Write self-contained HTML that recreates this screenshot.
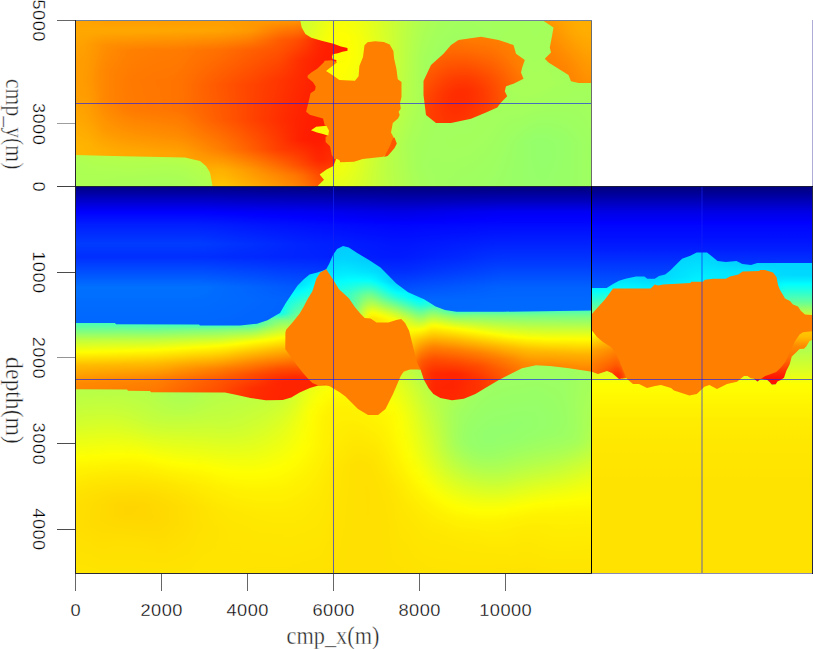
<!DOCTYPE html>
<html><head><meta charset="utf-8"><title>velocity cube</title>
<style>html,body{margin:0;padding:0;background:#fff}body{width:813px;height:649px;overflow:hidden;position:relative}svg{position:absolute;left:0;top:0;display:block}</style>
</head><body>
<svg width="813" height="649" viewBox="0 0 813 649">
<defs><clipPath id="c1"><rect x="76" y="186.5" width="515.5" height="386.5"/></clipPath>
<clipPath id="c2"><path d="M70.0 180.0 L597.0 180.0 L592.0 310.6 L503.5 311.7 L456.7 311.7 L445.0 309.9 L435.7 306.4 L424.0 299.3 L408.1 292.3 L396.3 283.4 L388.4 275.5 L380.5 267.6 L368.6 259.7 L356.8 252.8 L348.9 247.5 L343.0 245.9 L337.1 248.9 L333.1 254.8 L329.2 263.7 L326.2 269.2 L323.3 270.6 L317.3 272.6 L309.5 274.5 L303.5 279.5 L297.6 285.4 L291.7 294.3 L285.8 303.1 L280.0 313.0 L276.0 315.3 L267.5 320.3 L257.0 323.7 L240.0 325.5 L200.0 325.6 L199.0 324.5 L116.0 324.3 L115.0 323.0 L75.0 323.0Z"/></clipPath>
<clipPath id="c3"><path d="M70.0 180.0 L597.0 180.0 L592.0 371.8 L569.0 368.3 L550.0 366.0 L536.0 365.3 L522.0 368.3 L510.5 374.0 L498.8 380.0 L487.0 387.0 L475.4 394.0 L463.8 398.7 L452.0 400.3 L440.4 398.0 L433.4 394.0 L428.7 388.2 L424.0 380.0 L420.5 369.5 L412.0 368.0 L400.0 374.0 L340.0 385.0 L318.3 385.6 L309.8 388.0 L299.7 392.4 L291.2 397.5 L282.7 400.0 L265.8 400.3 L250.5 398.0 L237.0 395.0 L225.0 392.5 L151.0 392.3 L150.0 391.0 L128.0 390.7 L127.0 389.5 L75.0 389.3Z"/></clipPath>
<linearGradient id="s4" gradientUnits="userSpaceOnUse" x1="0" y1="360" x2="0" y2="575.5"><stop offset="0" stop-color="#a2ff5d"/><stop offset="0.181" stop-color="#bcff43"/><stop offset="0.2599" stop-color="#caff35"/><stop offset="0.3063" stop-color="#d5ff2a"/><stop offset="0.4548" stop-color="#ffff00"/><stop offset="0.5104" stop-color="#fff300"/><stop offset="0.5661" stop-color="#ffea00"/><stop offset="0.6172" stop-color="#ffe400"/><stop offset="0.6729" stop-color="#ffe000"/><stop offset="0.7842" stop-color="#ffdf00"/><stop offset="1" stop-color="#ffe600"/></linearGradient>
<linearGradient id="s5" gradientUnits="userSpaceOnUse" x1="0" y1="360" x2="0" y2="575.5"><stop offset="0" stop-color="#a2ff5d"/><stop offset="0.181" stop-color="#bcff43"/><stop offset="0.2599" stop-color="#caff35"/><stop offset="0.3063" stop-color="#d5ff2a"/><stop offset="0.4548" stop-color="#ffff00"/><stop offset="0.5104" stop-color="#fff300"/><stop offset="0.5661" stop-color="#ffea00"/><stop offset="0.6172" stop-color="#ffe400"/><stop offset="0.6729" stop-color="#ffe000"/><stop offset="0.7842" stop-color="#ffdf00"/><stop offset="1" stop-color="#ffe600"/></linearGradient>
<linearGradient id="s6" gradientUnits="userSpaceOnUse" x1="0" y1="360" x2="0" y2="575.5"><stop offset="0" stop-color="#a2ff5d"/><stop offset="0.1763" stop-color="#bcff43"/><stop offset="0.2552" stop-color="#caff35"/><stop offset="0.3109" stop-color="#d7ff28"/><stop offset="0.4501" stop-color="#ffff00"/><stop offset="0.5058" stop-color="#fff300"/><stop offset="0.5615" stop-color="#ffea00"/><stop offset="0.6125" stop-color="#ffe300"/><stop offset="0.6682" stop-color="#ffdf00"/><stop offset="0.7796" stop-color="#ffde00"/><stop offset="1" stop-color="#ffe500"/></linearGradient>
<linearGradient id="s7" gradientUnits="userSpaceOnUse" x1="0" y1="360" x2="0" y2="575.5"><stop offset="0" stop-color="#a3ff5c"/><stop offset="0.1578" stop-color="#b9ff46"/><stop offset="0.2459" stop-color="#c9ff36"/><stop offset="0.3063" stop-color="#d7ff28"/><stop offset="0.4501" stop-color="#fffe00"/><stop offset="0.5058" stop-color="#fff200"/><stop offset="0.5615" stop-color="#ffe800"/><stop offset="0.6125" stop-color="#ffe100"/><stop offset="0.6682" stop-color="#ffdd00"/><stop offset="0.7657" stop-color="#ffdd00"/><stop offset="1" stop-color="#ffe500"/></linearGradient>
<linearGradient id="s8" gradientUnits="userSpaceOnUse" x1="0" y1="360" x2="0" y2="575.5"><stop offset="0" stop-color="#a3ff5c"/><stop offset="0.1531" stop-color="#b9ff46"/><stop offset="0.2413" stop-color="#c9ff36"/><stop offset="0.3109" stop-color="#d9ff26"/><stop offset="0.4455" stop-color="#ffff00"/><stop offset="0.5012" stop-color="#fff200"/><stop offset="0.5568" stop-color="#ffe700"/><stop offset="0.6125" stop-color="#ffe000"/><stop offset="0.6682" stop-color="#ffdc00"/><stop offset="0.7564" stop-color="#ffdb00"/><stop offset="1" stop-color="#ffe500"/></linearGradient>
<linearGradient id="s9" gradientUnits="userSpaceOnUse" x1="0" y1="360" x2="0" y2="575.5"><stop offset="0" stop-color="#a3ff5c"/><stop offset="0.1485" stop-color="#b8ff47"/><stop offset="0.2367" stop-color="#c8ff37"/><stop offset="0.3063" stop-color="#d9ff26"/><stop offset="0.4455" stop-color="#fffe00"/><stop offset="0.5012" stop-color="#fff100"/><stop offset="0.5615" stop-color="#ffe600"/><stop offset="0.6172" stop-color="#ffde00"/><stop offset="0.6682" stop-color="#ffda00"/><stop offset="0.7425" stop-color="#ffda00"/><stop offset="1" stop-color="#ffe400"/></linearGradient>
<linearGradient id="s10" gradientUnits="userSpaceOnUse" x1="0" y1="360" x2="0" y2="575.5"><stop offset="0" stop-color="#a3ff5c"/><stop offset="0.1531" stop-color="#b9ff46"/><stop offset="0.2413" stop-color="#c9ff36"/><stop offset="0.3109" stop-color="#daff25"/><stop offset="0.4408" stop-color="#ffff00"/><stop offset="0.4965" stop-color="#fff100"/><stop offset="0.5568" stop-color="#ffe600"/><stop offset="0.6218" stop-color="#ffdc00"/><stop offset="0.6729" stop-color="#ffd800"/><stop offset="0.7285" stop-color="#ffd800"/><stop offset="0.8724" stop-color="#ffe000"/><stop offset="1" stop-color="#ffe400"/></linearGradient>
<linearGradient id="s11" gradientUnits="userSpaceOnUse" x1="0" y1="360" x2="0" y2="575.5"><stop offset="0" stop-color="#a3ff5c"/><stop offset="0.1717" stop-color="#bcff43"/><stop offset="0.2506" stop-color="#caff35"/><stop offset="0.3155" stop-color="#daff25"/><stop offset="0.4408" stop-color="#ffff00"/><stop offset="0.4919" stop-color="#fff200"/><stop offset="0.5476" stop-color="#ffe700"/><stop offset="0.6265" stop-color="#ffdb00"/><stop offset="0.6729" stop-color="#ffd600"/><stop offset="0.7146" stop-color="#ffd600"/><stop offset="0.8399" stop-color="#ffdf00"/><stop offset="1" stop-color="#ffe400"/></linearGradient>
<linearGradient id="s12" gradientUnits="userSpaceOnUse" x1="0" y1="360" x2="0" y2="575.5"><stop offset="0" stop-color="#a3ff5c"/><stop offset="0.1949" stop-color="#bfff40"/><stop offset="0.2599" stop-color="#caff35"/><stop offset="0.3202" stop-color="#d9ff26"/><stop offset="0.4408" stop-color="#fffe00"/><stop offset="0.4826" stop-color="#fff400"/><stop offset="0.5336" stop-color="#ffe900"/><stop offset="0.6311" stop-color="#ffda00"/><stop offset="0.6775" stop-color="#ffd500"/><stop offset="0.7146" stop-color="#ffd500"/><stop offset="0.8306" stop-color="#ffde00"/><stop offset="1" stop-color="#ffe400"/></linearGradient>
<linearGradient id="s13" gradientUnits="userSpaceOnUse" x1="0" y1="360" x2="0" y2="575.5"><stop offset="0" stop-color="#a3ff5c"/><stop offset="0.2181" stop-color="#c0ff3f"/><stop offset="0.2691" stop-color="#c9ff36"/><stop offset="0.3248" stop-color="#d8ff27"/><stop offset="0.4408" stop-color="#ffff00"/><stop offset="0.4872" stop-color="#fff300"/><stop offset="0.5429" stop-color="#ffe800"/><stop offset="0.6311" stop-color="#ffda00"/><stop offset="0.6775" stop-color="#ffd500"/><stop offset="0.7193" stop-color="#ffd600"/><stop offset="0.8492" stop-color="#ffdf00"/><stop offset="1" stop-color="#ffe400"/></linearGradient>
<linearGradient id="s14" gradientUnits="userSpaceOnUse" x1="0" y1="360" x2="0" y2="575.5"><stop offset="0" stop-color="#a2ff5d"/><stop offset="0.1392" stop-color="#b5ff4a"/><stop offset="0.232" stop-color="#c0ff3f"/><stop offset="0.2784" stop-color="#c7ff38"/><stop offset="0.3295" stop-color="#d5ff2a"/><stop offset="0.4455" stop-color="#ffff00"/><stop offset="0.4965" stop-color="#fff200"/><stop offset="0.5568" stop-color="#ffe600"/><stop offset="0.6218" stop-color="#ffdb00"/><stop offset="0.6729" stop-color="#ffd600"/><stop offset="0.7239" stop-color="#ffd600"/><stop offset="0.8631" stop-color="#ffdf00"/><stop offset="1" stop-color="#ffe400"/></linearGradient>
<linearGradient id="s15" gradientUnits="userSpaceOnUse" x1="0" y1="360" x2="0" y2="575.5"><stop offset="0" stop-color="#a2ff5d"/><stop offset="0.1439" stop-color="#b4ff4b"/><stop offset="0.232" stop-color="#bdff42"/><stop offset="0.2831" stop-color="#c5ff3a"/><stop offset="0.3248" stop-color="#d1ff2e"/><stop offset="0.4548" stop-color="#ffff00"/><stop offset="0.5058" stop-color="#fff100"/><stop offset="0.5661" stop-color="#ffe500"/><stop offset="0.6218" stop-color="#ffdc00"/><stop offset="0.6729" stop-color="#ffd800"/><stop offset="0.7332" stop-color="#ffd700"/><stop offset="0.8863" stop-color="#ffe000"/><stop offset="1" stop-color="#ffe400"/></linearGradient>
<linearGradient id="s16" gradientUnits="userSpaceOnUse" x1="0" y1="360" x2="0" y2="575.5"><stop offset="0" stop-color="#a0ff5f"/><stop offset="0.2088" stop-color="#b7ff48"/><stop offset="0.2691" stop-color="#c0ff3f"/><stop offset="0.3248" stop-color="#cfff30"/><stop offset="0.464" stop-color="#ffff00"/><stop offset="0.5151" stop-color="#fff100"/><stop offset="0.5708" stop-color="#ffe500"/><stop offset="0.6265" stop-color="#ffdd00"/><stop offset="0.6775" stop-color="#ffd900"/><stop offset="0.7425" stop-color="#ffd800"/><stop offset="1" stop-color="#ffe400"/></linearGradient>
<linearGradient id="s17" gradientUnits="userSpaceOnUse" x1="0" y1="360" x2="0" y2="575.5"><stop offset="0" stop-color="#9fff60"/><stop offset="0.181" stop-color="#b1ff4e"/><stop offset="0.2552" stop-color="#bcff43"/><stop offset="0.3202" stop-color="#cdff32"/><stop offset="0.4408" stop-color="#f6ff09"/><stop offset="0.4733" stop-color="#fffe00"/><stop offset="0.5244" stop-color="#fff100"/><stop offset="0.5754" stop-color="#ffe600"/><stop offset="0.6265" stop-color="#ffdf00"/><stop offset="0.6775" stop-color="#ffda00"/><stop offset="0.7517" stop-color="#ffda00"/><stop offset="1" stop-color="#ffe400"/></linearGradient>
<linearGradient id="s18" gradientUnits="userSpaceOnUse" x1="0" y1="360" x2="0" y2="575.5"><stop offset="0" stop-color="#9fff60"/><stop offset="0.1671" stop-color="#adff52"/><stop offset="0.2367" stop-color="#b7ff48"/><stop offset="0.3155" stop-color="#cbff34"/><stop offset="0.478" stop-color="#ffff00"/><stop offset="0.529" stop-color="#fff100"/><stop offset="0.58" stop-color="#ffe700"/><stop offset="0.6311" stop-color="#ffe000"/><stop offset="0.6775" stop-color="#ffdc00"/><stop offset="0.7564" stop-color="#ffdc00"/><stop offset="1" stop-color="#ffe400"/></linearGradient>
<linearGradient id="s19" gradientUnits="userSpaceOnUse" x1="0" y1="360" x2="0" y2="575.5"><stop offset="0" stop-color="#9fff60"/><stop offset="0.1671" stop-color="#acff53"/><stop offset="0.232" stop-color="#b6ff49"/><stop offset="0.3155" stop-color="#cbff34"/><stop offset="0.4826" stop-color="#ffff00"/><stop offset="0.5336" stop-color="#fff200"/><stop offset="0.58" stop-color="#ffe900"/><stop offset="0.6265" stop-color="#ffe300"/><stop offset="0.6775" stop-color="#ffde00"/><stop offset="0.761" stop-color="#ffdd00"/><stop offset="1" stop-color="#ffe400"/></linearGradient>
<linearGradient id="s20" gradientUnits="userSpaceOnUse" x1="0" y1="360" x2="0" y2="575.5"><stop offset="0" stop-color="#9fff60"/><stop offset="0.1624" stop-color="#adff52"/><stop offset="0.2413" stop-color="#b9ff46"/><stop offset="0.3248" stop-color="#ceff31"/><stop offset="0.4872" stop-color="#ffff00"/><stop offset="0.5336" stop-color="#fff300"/><stop offset="0.58" stop-color="#ffeb00"/><stop offset="0.6311" stop-color="#ffe400"/><stop offset="0.6821" stop-color="#ffe000"/><stop offset="0.7657" stop-color="#ffdf00"/><stop offset="1" stop-color="#ffe400"/></linearGradient>
<linearGradient id="s21" gradientUnits="userSpaceOnUse" x1="0" y1="360" x2="0" y2="575.5"><stop offset="0" stop-color="#a1ff5e"/><stop offset="0.1717" stop-color="#b1ff4e"/><stop offset="0.2552" stop-color="#beff41"/><stop offset="0.3341" stop-color="#d0ff2f"/><stop offset="0.4919" stop-color="#fffe00"/><stop offset="0.5383" stop-color="#fff400"/><stop offset="0.5847" stop-color="#ffec00"/><stop offset="0.6821" stop-color="#ffe200"/><stop offset="0.7657" stop-color="#ffe100"/><stop offset="1" stop-color="#ffe500"/></linearGradient>
<linearGradient id="s22" gradientUnits="userSpaceOnUse" x1="0" y1="360" x2="0" y2="575.5"><stop offset="0" stop-color="#a2ff5d"/><stop offset="0.1995" stop-color="#b8ff47"/><stop offset="0.2738" stop-color="#c3ff3c"/><stop offset="0.348" stop-color="#d4ff2b"/><stop offset="0.4965" stop-color="#ffff00"/><stop offset="0.5429" stop-color="#fff500"/><stop offset="0.5893" stop-color="#ffed00"/><stop offset="0.6868" stop-color="#ffe400"/><stop offset="0.7703" stop-color="#ffe200"/><stop offset="1" stop-color="#ffe500"/></linearGradient>
<linearGradient id="s23" gradientUnits="userSpaceOnUse" x1="0" y1="360" x2="0" y2="575.5"><stop offset="0" stop-color="#a4ff5b"/><stop offset="0.232" stop-color="#beff41"/><stop offset="0.2877" stop-color="#c6ff39"/><stop offset="0.3527" stop-color="#d4ff2b"/><stop offset="0.5058" stop-color="#ffff00"/><stop offset="0.594" stop-color="#ffef00"/><stop offset="0.6914" stop-color="#ffe600"/><stop offset="0.7796" stop-color="#ffe300"/><stop offset="1" stop-color="#ffe400"/></linearGradient>
<linearGradient id="s24" gradientUnits="userSpaceOnUse" x1="0" y1="360" x2="0" y2="575.5"><stop offset="0" stop-color="#a6ff59"/><stop offset="0.1485" stop-color="#b7ff48"/><stop offset="0.2506" stop-color="#c1ff3e"/><stop offset="0.3016" stop-color="#c8ff37"/><stop offset="0.3527" stop-color="#d4ff2b"/><stop offset="0.464" stop-color="#f3ff0c"/><stop offset="0.5151" stop-color="#ffff00"/><stop offset="0.6032" stop-color="#ffef00"/><stop offset="0.6961" stop-color="#ffe700"/><stop offset="0.7889" stop-color="#ffe400"/><stop offset="1" stop-color="#ffe400"/></linearGradient>
<linearGradient id="s25" gradientUnits="userSpaceOnUse" x1="0" y1="360" x2="0" y2="575.5"><stop offset="0" stop-color="#a7ff58"/><stop offset="0.2506" stop-color="#c2ff3d"/><stop offset="0.3063" stop-color="#caff35"/><stop offset="0.3527" stop-color="#d4ff2b"/><stop offset="0.5197" stop-color="#ffff00"/><stop offset="0.6079" stop-color="#fff000"/><stop offset="0.7007" stop-color="#ffe800"/><stop offset="0.7981" stop-color="#ffe500"/><stop offset="1" stop-color="#ffe400"/></linearGradient>
<linearGradient id="s26" gradientUnits="userSpaceOnUse" x1="0" y1="360" x2="0" y2="575.5"><stop offset="0" stop-color="#a9ff56"/><stop offset="0.2367" stop-color="#c2ff3d"/><stop offset="0.297" stop-color="#caff35"/><stop offset="0.3527" stop-color="#d5ff2a"/><stop offset="0.4733" stop-color="#f4ff0b"/><stop offset="0.5244" stop-color="#ffff00"/><stop offset="0.6125" stop-color="#fff100"/><stop offset="0.71" stop-color="#ffe800"/><stop offset="0.8074" stop-color="#ffe500"/><stop offset="1" stop-color="#ffe400"/></linearGradient>
<linearGradient id="s27" gradientUnits="userSpaceOnUse" x1="0" y1="360" x2="0" y2="575.5"><stop offset="0" stop-color="#abff54"/><stop offset="0.1995" stop-color="#bfff40"/><stop offset="0.2877" stop-color="#cbff34"/><stop offset="0.3527" stop-color="#d7ff28"/><stop offset="0.5244" stop-color="#ffff00"/><stop offset="0.6125" stop-color="#fff100"/><stop offset="0.71" stop-color="#ffe900"/><stop offset="0.8121" stop-color="#ffe500"/><stop offset="1" stop-color="#ffe300"/></linearGradient>
<linearGradient id="s28" gradientUnits="userSpaceOnUse" x1="0" y1="360" x2="0" y2="575.5"><stop offset="0" stop-color="#adff52"/><stop offset="0.1531" stop-color="#bcff43"/><stop offset="0.2691" stop-color="#cbff34"/><stop offset="0.3387" stop-color="#d7ff28"/><stop offset="0.5244" stop-color="#ffff00"/><stop offset="0.6125" stop-color="#fff200"/><stop offset="0.7146" stop-color="#ffe900"/><stop offset="0.8167" stop-color="#ffe600"/><stop offset="1" stop-color="#ffe300"/></linearGradient>
<linearGradient id="s29" gradientUnits="userSpaceOnUse" x1="0" y1="360" x2="0" y2="575.5"><stop offset="0" stop-color="#b0ff4f"/><stop offset="0.1392" stop-color="#bcff43"/><stop offset="0.232" stop-color="#c8ff37"/><stop offset="0.3155" stop-color="#d6ff29"/><stop offset="0.5197" stop-color="#ffff00"/><stop offset="0.6125" stop-color="#fff200"/><stop offset="0.71" stop-color="#ffea00"/><stop offset="0.8167" stop-color="#ffe600"/><stop offset="1" stop-color="#ffe300"/></linearGradient>
<linearGradient id="s30" gradientUnits="userSpaceOnUse" x1="0" y1="360" x2="0" y2="575.5"><stop offset="0" stop-color="#b3ff4c"/><stop offset="0.1346" stop-color="#beff41"/><stop offset="0.1995" stop-color="#c6ff39"/><stop offset="0.5104" stop-color="#ffff00"/><stop offset="0.6079" stop-color="#fff200"/><stop offset="0.71" stop-color="#ffea00"/><stop offset="0.8213" stop-color="#ffe600"/><stop offset="1" stop-color="#ffe300"/></linearGradient>
<linearGradient id="s31" gradientUnits="userSpaceOnUse" x1="0" y1="360" x2="0" y2="575.5"><stop offset="0" stop-color="#b7ff48"/><stop offset="0.1856" stop-color="#c8ff37"/><stop offset="0.3434" stop-color="#e5ff1a"/><stop offset="0.5012" stop-color="#ffff00"/><stop offset="0.5986" stop-color="#fff300"/><stop offset="0.7007" stop-color="#ffeb00"/><stop offset="0.8167" stop-color="#ffe600"/><stop offset="1" stop-color="#ffe300"/></linearGradient>
<linearGradient id="s32" gradientUnits="userSpaceOnUse" x1="0" y1="360" x2="0" y2="575.5"><stop offset="0" stop-color="#bdff42"/><stop offset="0.181" stop-color="#ceff31"/><stop offset="0.3063" stop-color="#e6ff19"/><stop offset="0.4826" stop-color="#ffff00"/><stop offset="0.5847" stop-color="#fff300"/><stop offset="0.6914" stop-color="#ffeb00"/><stop offset="0.8074" stop-color="#ffe700"/><stop offset="1" stop-color="#ffe300"/></linearGradient>
<linearGradient id="s33" gradientUnits="userSpaceOnUse" x1="0" y1="360" x2="0" y2="575.5"><stop offset="0" stop-color="#c3ff3c"/><stop offset="0.1717" stop-color="#d7ff28"/><stop offset="0.297" stop-color="#eeff11"/><stop offset="0.4501" stop-color="#ffff00"/><stop offset="0.5708" stop-color="#fff200"/><stop offset="0.6775" stop-color="#ffeb00"/><stop offset="0.7935" stop-color="#ffe700"/><stop offset="1" stop-color="#ffe200"/></linearGradient>
<linearGradient id="s34" gradientUnits="userSpaceOnUse" x1="0" y1="360" x2="0" y2="575.5"><stop offset="0" stop-color="#caff35"/><stop offset="0.1485" stop-color="#e1ff1e"/><stop offset="0.2552" stop-color="#f4ff0b"/><stop offset="0.4037" stop-color="#ffff00"/><stop offset="0.5476" stop-color="#fff200"/><stop offset="0.6589" stop-color="#ffeb00"/><stop offset="0.7796" stop-color="#ffe700"/><stop offset="1" stop-color="#ffe200"/></linearGradient>
<linearGradient id="s35" gradientUnits="userSpaceOnUse" x1="0" y1="360" x2="0" y2="575.5"><stop offset="0" stop-color="#d1ff2e"/><stop offset="0.2413" stop-color="#ffff00"/><stop offset="0.3991" stop-color="#fff900"/><stop offset="0.5522" stop-color="#ffef00"/><stop offset="0.6589" stop-color="#ffe900"/><stop offset="1" stop-color="#ffe200"/></linearGradient>
<linearGradient id="s36" gradientUnits="userSpaceOnUse" x1="0" y1="360" x2="0" y2="575.5"><stop offset="0" stop-color="#d7ff28"/><stop offset="0.1299" stop-color="#f4ff0b"/><stop offset="0.1903" stop-color="#ffff00"/><stop offset="0.2599" stop-color="#fff600"/><stop offset="0.3991" stop-color="#fff400"/><stop offset="0.594" stop-color="#ffea00"/><stop offset="1" stop-color="#ffe200"/></linearGradient>
<linearGradient id="s37" gradientUnits="userSpaceOnUse" x1="0" y1="360" x2="0" y2="575.5"><stop offset="0" stop-color="#dcff23"/><stop offset="0.1485" stop-color="#ffff00"/><stop offset="0.2135" stop-color="#fff500"/><stop offset="0.2691" stop-color="#fff100"/><stop offset="0.3898" stop-color="#ffef00"/><stop offset="0.5893" stop-color="#ffe700"/><stop offset="1" stop-color="#ffe100"/></linearGradient>
<linearGradient id="s38" gradientUnits="userSpaceOnUse" x1="0" y1="360" x2="0" y2="575.5"><stop offset="0" stop-color="#e0ff1f"/><stop offset="0.1299" stop-color="#ffff00"/><stop offset="0.1856" stop-color="#fff600"/><stop offset="0.2413" stop-color="#fff000"/><stop offset="0.3805" stop-color="#ffec00"/><stop offset="0.5104" stop-color="#ffe600"/><stop offset="1" stop-color="#ffe100"/></linearGradient>
<linearGradient id="s39" gradientUnits="userSpaceOnUse" x1="0" y1="360" x2="0" y2="575.5"><stop offset="0" stop-color="#e1ff1e"/><stop offset="0.0835" stop-color="#f7ff08"/><stop offset="0.1253" stop-color="#fffe00"/><stop offset="0.1763" stop-color="#fff600"/><stop offset="0.2274" stop-color="#fff100"/><stop offset="0.3712" stop-color="#ffeb00"/><stop offset="0.5012" stop-color="#ffe300"/><stop offset="1" stop-color="#ffe000"/></linearGradient>
<linearGradient id="s40" gradientUnits="userSpaceOnUse" x1="0" y1="360" x2="0" y2="575.5"><stop offset="0" stop-color="#e1ff1e"/><stop offset="0.0742" stop-color="#f4ff0b"/><stop offset="0.1253" stop-color="#ffff00"/><stop offset="0.1717" stop-color="#fff700"/><stop offset="0.2181" stop-color="#fff200"/><stop offset="0.4872" stop-color="#ffe100"/><stop offset="1" stop-color="#ffe000"/></linearGradient>
<linearGradient id="s41" gradientUnits="userSpaceOnUse" x1="0" y1="360" x2="0" y2="575.5"><stop offset="0" stop-color="#e0ff1f"/><stop offset="0.0789" stop-color="#f4ff0b"/><stop offset="0.1346" stop-color="#ffff00"/><stop offset="0.2135" stop-color="#fff400"/><stop offset="0.4826" stop-color="#ffe000"/><stop offset="1" stop-color="#ffe000"/></linearGradient>
<linearGradient id="s42" gradientUnits="userSpaceOnUse" x1="0" y1="360" x2="0" y2="575.5"><stop offset="0" stop-color="#ddff22"/><stop offset="0.0882" stop-color="#f3ff0c"/><stop offset="0.1485" stop-color="#ffff00"/><stop offset="0.2227" stop-color="#fff500"/><stop offset="0.4919" stop-color="#ffe000"/><stop offset="0.5893" stop-color="#ffdf00"/><stop offset="1" stop-color="#ffe000"/></linearGradient>
<linearGradient id="s43" gradientUnits="userSpaceOnUse" x1="0" y1="360" x2="0" y2="575.5"><stop offset="0" stop-color="#d8ff27"/><stop offset="0.0928" stop-color="#f0ff0f"/><stop offset="0.1671" stop-color="#ffff00"/><stop offset="0.2367" stop-color="#fff700"/><stop offset="0.4408" stop-color="#ffe500"/><stop offset="0.5104" stop-color="#ffe200"/><stop offset="0.6218" stop-color="#ffe000"/><stop offset="1" stop-color="#ffe000"/></linearGradient>
<linearGradient id="s44" gradientUnits="userSpaceOnUse" x1="0" y1="360" x2="0" y2="575.5"><stop offset="0" stop-color="#d2ff2d"/><stop offset="0.1067" stop-color="#efff10"/><stop offset="0.1949" stop-color="#ffff00"/><stop offset="0.2552" stop-color="#fff700"/><stop offset="0.4687" stop-color="#ffe800"/><stop offset="0.5522" stop-color="#ffe300"/><stop offset="0.6636" stop-color="#ffe100"/><stop offset="1" stop-color="#ffe000"/></linearGradient>
<linearGradient id="s45" gradientUnits="userSpaceOnUse" x1="0" y1="360" x2="0" y2="575.5"><stop offset="0" stop-color="#cbff34"/><stop offset="0.1114" stop-color="#eaff15"/><stop offset="0.2181" stop-color="#ffff00"/><stop offset="0.2599" stop-color="#fffa00"/><stop offset="0.3619" stop-color="#fff500"/><stop offset="0.6079" stop-color="#ffe400"/><stop offset="0.7053" stop-color="#ffe200"/><stop offset="1" stop-color="#ffe100"/></linearGradient>
<linearGradient id="s46" gradientUnits="userSpaceOnUse" x1="0" y1="360" x2="0" y2="575.5"><stop offset="0" stop-color="#c1ff3e"/><stop offset="0.116" stop-color="#e4ff1b"/><stop offset="0.2227" stop-color="#f8ff07"/><stop offset="0.2645" stop-color="#fdff02"/><stop offset="0.3155" stop-color="#ffff00"/><stop offset="0.3759" stop-color="#fffc00"/><stop offset="0.5661" stop-color="#ffeb00"/><stop offset="0.6543" stop-color="#ffe600"/><stop offset="1" stop-color="#ffe100"/></linearGradient>
<linearGradient id="s47" gradientUnits="userSpaceOnUse" x1="0" y1="360" x2="0" y2="575.5"><stop offset="0" stop-color="#b7ff48"/><stop offset="0.0464" stop-color="#c2ff3d"/><stop offset="0.1114" stop-color="#d7ff28"/><stop offset="0.2181" stop-color="#eaff15"/><stop offset="0.2691" stop-color="#f1ff0e"/><stop offset="0.4455" stop-color="#ffff00"/><stop offset="0.58" stop-color="#ffef00"/><stop offset="0.6775" stop-color="#ffe800"/><stop offset="0.761" stop-color="#ffe500"/><stop offset="1" stop-color="#ffe100"/></linearGradient>
<linearGradient id="s48" gradientUnits="userSpaceOnUse" x1="0" y1="360" x2="0" y2="575.5"><stop offset="0" stop-color="#aeff51"/><stop offset="0.051" stop-color="#b7ff48"/><stop offset="0.1299" stop-color="#ccff33"/><stop offset="0.2274" stop-color="#ddff22"/><stop offset="0.2831" stop-color="#e4ff1b"/><stop offset="0.4223" stop-color="#f1ff0e"/><stop offset="0.5151" stop-color="#ffff00"/><stop offset="0.6172" stop-color="#fff100"/><stop offset="0.7053" stop-color="#ffe900"/><stop offset="0.7796" stop-color="#ffe600"/><stop offset="1" stop-color="#ffe200"/></linearGradient>
<linearGradient id="s49" gradientUnits="userSpaceOnUse" x1="0" y1="360" x2="0" y2="575.5"><stop offset="0" stop-color="#a8ff57"/><stop offset="0.0464" stop-color="#aeff51"/><stop offset="0.1299" stop-color="#bfff40"/><stop offset="0.2506" stop-color="#d1ff2e"/><stop offset="0.4408" stop-color="#e7ff18"/><stop offset="0.5661" stop-color="#ffff00"/><stop offset="0.6543" stop-color="#fff100"/><stop offset="0.7285" stop-color="#ffea00"/><stop offset="0.8028" stop-color="#ffe700"/><stop offset="1" stop-color="#ffe200"/></linearGradient>
<linearGradient id="s50" gradientUnits="userSpaceOnUse" x1="0" y1="360" x2="0" y2="575.5"><stop offset="0" stop-color="#a3ff5c"/><stop offset="0.1253" stop-color="#b5ff4a"/><stop offset="0.4223" stop-color="#d7ff28"/><stop offset="0.4872" stop-color="#e3ff1c"/><stop offset="0.6079" stop-color="#ffff00"/><stop offset="0.6775" stop-color="#fff200"/><stop offset="0.7517" stop-color="#ffeb00"/><stop offset="0.8399" stop-color="#ffe600"/><stop offset="1" stop-color="#ffe300"/></linearGradient>
<linearGradient id="s51" gradientUnits="userSpaceOnUse" x1="0" y1="360" x2="0" y2="575.5"><stop offset="0" stop-color="#a1ff5e"/><stop offset="0.1439" stop-color="#b1ff4e"/><stop offset="0.2784" stop-color="#baff45"/><stop offset="0.4084" stop-color="#c6ff39"/><stop offset="0.4919" stop-color="#d7ff28"/><stop offset="0.6357" stop-color="#ffff00"/><stop offset="0.7053" stop-color="#fff200"/><stop offset="0.7749" stop-color="#ffea00"/><stop offset="0.8585" stop-color="#ffe600"/><stop offset="1" stop-color="#ffe300"/></linearGradient>
<linearGradient id="s52" gradientUnits="userSpaceOnUse" x1="0" y1="360" x2="0" y2="575.5"><stop offset="0" stop-color="#9fff60"/><stop offset="0.1671" stop-color="#b0ff4f"/><stop offset="0.1949" stop-color="#b0ff4f"/><stop offset="0.2413" stop-color="#adff52"/><stop offset="0.2738" stop-color="#adff52"/><stop offset="0.3527" stop-color="#b1ff4e"/><stop offset="0.3991" stop-color="#b5ff4a"/><stop offset="0.4408" stop-color="#bdff42"/><stop offset="0.4919" stop-color="#caff35"/><stop offset="0.6589" stop-color="#ffff00"/><stop offset="0.7239" stop-color="#fff200"/><stop offset="0.7889" stop-color="#ffea00"/><stop offset="0.8677" stop-color="#ffe600"/><stop offset="1" stop-color="#ffe300"/></linearGradient>
<linearGradient id="s53" gradientUnits="userSpaceOnUse" x1="0" y1="360" x2="0" y2="575.5"><stop offset="0" stop-color="#9eff61"/><stop offset="0.1624" stop-color="#abff54"/><stop offset="0.1903" stop-color="#aaff55"/><stop offset="0.232" stop-color="#a4ff5b"/><stop offset="0.2552" stop-color="#a3ff5c"/><stop offset="0.3527" stop-color="#a3ff5c"/><stop offset="0.3898" stop-color="#a6ff59"/><stop offset="0.4362" stop-color="#b0ff4f"/><stop offset="0.4872" stop-color="#beff41"/><stop offset="0.6311" stop-color="#f1ff0e"/><stop offset="0.6775" stop-color="#ffff00"/><stop offset="0.7332" stop-color="#fff300"/><stop offset="0.7981" stop-color="#ffeb00"/><stop offset="0.8724" stop-color="#ffe600"/><stop offset="1" stop-color="#ffe300"/></linearGradient>
<linearGradient id="s54" gradientUnits="userSpaceOnUse" x1="0" y1="360" x2="0" y2="575.5"><stop offset="0" stop-color="#9dff62"/><stop offset="0.0928" stop-color="#a3ff5c"/><stop offset="0.1485" stop-color="#a5ff5a"/><stop offset="0.181" stop-color="#a4ff5b"/><stop offset="0.2552" stop-color="#9dff62"/><stop offset="0.348" stop-color="#9aff65"/><stop offset="0.3805" stop-color="#9bff64"/><stop offset="0.4269" stop-color="#a3ff5c"/><stop offset="0.4826" stop-color="#b3ff4c"/><stop offset="0.5336" stop-color="#c5ff3a"/><stop offset="0.6404" stop-color="#efff10"/><stop offset="0.6868" stop-color="#ffff00"/><stop offset="0.7425" stop-color="#fff300"/><stop offset="0.8028" stop-color="#ffeb00"/><stop offset="0.8724" stop-color="#ffe700"/><stop offset="1" stop-color="#ffe300"/></linearGradient>
<linearGradient id="s55" gradientUnits="userSpaceOnUse" x1="0" y1="360" x2="0" y2="575.5"><stop offset="0" stop-color="#9cff63"/><stop offset="0.0789" stop-color="#a1ff5e"/><stop offset="0.1346" stop-color="#a1ff5e"/><stop offset="0.3434" stop-color="#96ff69"/><stop offset="0.3898" stop-color="#97ff68"/><stop offset="0.4316" stop-color="#9eff61"/><stop offset="0.4826" stop-color="#acff53"/><stop offset="0.5383" stop-color="#c1ff3e"/><stop offset="0.645" stop-color="#eeff11"/><stop offset="0.6961" stop-color="#ffff00"/><stop offset="0.7471" stop-color="#fff300"/><stop offset="0.8028" stop-color="#ffeb00"/><stop offset="0.877" stop-color="#ffe700"/><stop offset="1" stop-color="#ffe300"/></linearGradient>
<linearGradient id="s56" gradientUnits="userSpaceOnUse" x1="0" y1="360" x2="0" y2="575.5"><stop offset="0" stop-color="#9cff63"/><stop offset="0.1253" stop-color="#9fff60"/><stop offset="0.3387" stop-color="#94ff6b"/><stop offset="0.3991" stop-color="#95ff6a"/><stop offset="0.4408" stop-color="#9cff63"/><stop offset="0.4965" stop-color="#adff52"/><stop offset="0.5476" stop-color="#c1ff3e"/><stop offset="0.6543" stop-color="#efff10"/><stop offset="0.7007" stop-color="#ffff00"/><stop offset="0.7471" stop-color="#fff400"/><stop offset="0.8028" stop-color="#ffec00"/><stop offset="0.877" stop-color="#ffe700"/><stop offset="1" stop-color="#ffe300"/></linearGradient>
<linearGradient id="s57" gradientUnits="userSpaceOnUse" x1="0" y1="360" x2="0" y2="575.5"><stop offset="0" stop-color="#9cff63"/><stop offset="0.1114" stop-color="#9eff61"/><stop offset="0.3295" stop-color="#93ff6c"/><stop offset="0.3666" stop-color="#92ff6d"/><stop offset="0.3991" stop-color="#94ff6b"/><stop offset="0.4501" stop-color="#9dff62"/><stop offset="0.5058" stop-color="#afff50"/><stop offset="0.5615" stop-color="#c4ff3b"/><stop offset="0.6589" stop-color="#f0ff0f"/><stop offset="0.7007" stop-color="#ffff00"/><stop offset="0.7471" stop-color="#fff400"/><stop offset="0.8028" stop-color="#ffed00"/><stop offset="0.8863" stop-color="#ffe700"/><stop offset="1" stop-color="#ffe300"/></linearGradient>
<linearGradient id="s58" gradientUnits="userSpaceOnUse" x1="0" y1="360" x2="0" y2="575.5"><stop offset="0" stop-color="#9cff63"/><stop offset="0.1114" stop-color="#9dff62"/><stop offset="0.3295" stop-color="#92ff6d"/><stop offset="0.3898" stop-color="#94ff6b"/><stop offset="0.4455" stop-color="#9dff62"/><stop offset="0.5104" stop-color="#b0ff4f"/><stop offset="0.5708" stop-color="#c8ff37"/><stop offset="0.6636" stop-color="#f2ff0d"/><stop offset="0.7007" stop-color="#ffff00"/><stop offset="0.7425" stop-color="#fff500"/><stop offset="0.7935" stop-color="#ffee00"/><stop offset="0.891" stop-color="#ffe700"/><stop offset="1" stop-color="#ffe200"/></linearGradient>
<linearGradient id="s59" gradientUnits="userSpaceOnUse" x1="0" y1="360" x2="0" y2="575.5"><stop offset="0" stop-color="#9dff62"/><stop offset="0.0974" stop-color="#9dff62"/><stop offset="0.3155" stop-color="#93ff6c"/><stop offset="0.3852" stop-color="#95ff6a"/><stop offset="0.4455" stop-color="#9fff60"/><stop offset="0.5104" stop-color="#b2ff4d"/><stop offset="0.5661" stop-color="#c7ff38"/><stop offset="0.6543" stop-color="#efff10"/><stop offset="0.6961" stop-color="#ffff00"/><stop offset="0.7425" stop-color="#fff400"/><stop offset="0.7889" stop-color="#ffee00"/><stop offset="0.8863" stop-color="#ffe700"/><stop offset="1" stop-color="#ffe200"/></linearGradient>
<linearGradient id="s60" gradientUnits="userSpaceOnUse" x1="0" y1="360" x2="0" y2="575.5"><stop offset="0" stop-color="#9dff62"/><stop offset="0.0835" stop-color="#9dff62"/><stop offset="0.297" stop-color="#93ff6c"/><stop offset="0.3387" stop-color="#93ff6c"/><stop offset="0.3759" stop-color="#95ff6a"/><stop offset="0.4362" stop-color="#a0ff5f"/><stop offset="0.5012" stop-color="#b2ff4d"/><stop offset="0.5615" stop-color="#c9ff36"/><stop offset="0.6589" stop-color="#f4ff0b"/><stop offset="0.6914" stop-color="#fffe00"/><stop offset="0.7378" stop-color="#fff300"/><stop offset="0.7889" stop-color="#ffed00"/><stop offset="1" stop-color="#ffe200"/></linearGradient>
<linearGradient id="s61" gradientUnits="userSpaceOnUse" x1="0" y1="360" x2="0" y2="575.5"><stop offset="0" stop-color="#9eff61"/><stop offset="0.0696" stop-color="#9eff61"/><stop offset="0.2831" stop-color="#93ff6c"/><stop offset="0.3666" stop-color="#95ff6a"/><stop offset="0.4223" stop-color="#9fff60"/><stop offset="0.4872" stop-color="#b1ff4e"/><stop offset="0.5429" stop-color="#c5ff3a"/><stop offset="0.6404" stop-color="#efff10"/><stop offset="0.6821" stop-color="#ffff00"/><stop offset="0.7285" stop-color="#fff400"/><stop offset="0.7842" stop-color="#ffec00"/><stop offset="0.8538" stop-color="#ffe800"/><stop offset="1" stop-color="#ffe200"/></linearGradient>
<linearGradient id="s62" gradientUnits="userSpaceOnUse" x1="0" y1="360" x2="0" y2="575.5"><stop offset="0" stop-color="#9eff61"/><stop offset="0.0696" stop-color="#9dff62"/><stop offset="0.2691" stop-color="#94ff6b"/><stop offset="0.3202" stop-color="#94ff6b"/><stop offset="0.3619" stop-color="#97ff68"/><stop offset="0.4176" stop-color="#a0ff5f"/><stop offset="0.478" stop-color="#b0ff4f"/><stop offset="0.5336" stop-color="#c5ff3a"/><stop offset="0.6404" stop-color="#f2ff0d"/><stop offset="0.6775" stop-color="#ffff00"/><stop offset="0.7239" stop-color="#fff300"/><stop offset="0.7796" stop-color="#ffec00"/><stop offset="0.8492" stop-color="#ffe800"/><stop offset="1" stop-color="#ffe200"/></linearGradient>
<linearGradient id="s63" gradientUnits="userSpaceOnUse" x1="0" y1="360" x2="0" y2="575.5"><stop offset="0" stop-color="#9eff61"/><stop offset="0.065" stop-color="#9dff62"/><stop offset="0.1856" stop-color="#97ff68"/><stop offset="0.2599" stop-color="#95ff6a"/><stop offset="0.3109" stop-color="#95ff6a"/><stop offset="0.3527" stop-color="#97ff68"/><stop offset="0.413" stop-color="#a1ff5e"/><stop offset="0.4733" stop-color="#b2ff4d"/><stop offset="0.5244" stop-color="#c4ff3b"/><stop offset="0.6265" stop-color="#efff10"/><stop offset="0.6682" stop-color="#ffff00"/><stop offset="0.7193" stop-color="#fff300"/><stop offset="0.7749" stop-color="#ffec00"/><stop offset="1" stop-color="#ffe200"/></linearGradient>
<linearGradient id="s64" gradientUnits="userSpaceOnUse" x1="0" y1="360" x2="0" y2="575.5"><stop offset="0" stop-color="#9eff61"/><stop offset="0.065" stop-color="#9dff62"/><stop offset="0.2181" stop-color="#97ff68"/><stop offset="0.3016" stop-color="#96ff69"/><stop offset="0.3527" stop-color="#99ff66"/><stop offset="0.4084" stop-color="#a2ff5d"/><stop offset="0.4687" stop-color="#b2ff4d"/><stop offset="0.5197" stop-color="#c5ff3a"/><stop offset="0.6218" stop-color="#f0ff0f"/><stop offset="0.6636" stop-color="#ffff00"/><stop offset="0.7146" stop-color="#fff300"/><stop offset="0.7703" stop-color="#ffed00"/><stop offset="1" stop-color="#ffe300"/></linearGradient>
<linearGradient id="s65" gradientUnits="userSpaceOnUse" x1="0" y1="360" x2="0" y2="575.5"><stop offset="0" stop-color="#9eff61"/><stop offset="0.0603" stop-color="#9eff61"/><stop offset="0.2552" stop-color="#97ff68"/><stop offset="0.3063" stop-color="#97ff68"/><stop offset="0.348" stop-color="#9aff65"/><stop offset="0.4037" stop-color="#a3ff5c"/><stop offset="0.4594" stop-color="#b2ff4d"/><stop offset="0.5244" stop-color="#caff35"/><stop offset="0.6218" stop-color="#f2ff0d"/><stop offset="0.6589" stop-color="#feff01"/><stop offset="0.71" stop-color="#fff400"/><stop offset="0.761" stop-color="#ffee00"/><stop offset="1" stop-color="#ffe300"/></linearGradient>
<linearGradient id="s66" gradientUnits="userSpaceOnUse" x1="0" y1="360" x2="0" y2="575.5"><stop offset="0" stop-color="#9eff61"/><stop offset="0.2691" stop-color="#99ff66"/><stop offset="0.348" stop-color="#9bff64"/><stop offset="0.3944" stop-color="#a2ff5d"/><stop offset="0.4455" stop-color="#b0ff4f"/><stop offset="0.5012" stop-color="#c4ff3b"/><stop offset="0.6125" stop-color="#f0ff0f"/><stop offset="0.6589" stop-color="#ffff00"/><stop offset="0.7053" stop-color="#fff500"/><stop offset="0.7564" stop-color="#ffef00"/><stop offset="1" stop-color="#ffe300"/></linearGradient>
<linearGradient id="s67" gradientUnits="userSpaceOnUse" x1="0" y1="360" x2="0" y2="575.5"><stop offset="0" stop-color="#9eff61"/><stop offset="0.297" stop-color="#9bff64"/><stop offset="0.3527" stop-color="#9eff61"/><stop offset="0.3898" stop-color="#a4ff5b"/><stop offset="0.4316" stop-color="#afff50"/><stop offset="0.594" stop-color="#ecff13"/><stop offset="0.6543" stop-color="#ffff00"/><stop offset="0.7007" stop-color="#fff500"/><stop offset="0.7564" stop-color="#ffef00"/><stop offset="1" stop-color="#ffe300"/></linearGradient>
<linearGradient id="s68" gradientUnits="userSpaceOnUse" x1="0" y1="360" x2="0" y2="575.5"><stop offset="0" stop-color="#9fff60"/><stop offset="0.1717" stop-color="#a1ff5e"/><stop offset="0.3202" stop-color="#a0ff5f"/><stop offset="0.3666" stop-color="#a2ff5d"/><stop offset="0.3898" stop-color="#a7ff58"/><stop offset="0.4223" stop-color="#b1ff4e"/><stop offset="0.5754" stop-color="#e9ff16"/><stop offset="0.6218" stop-color="#f8ff07"/><stop offset="0.6497" stop-color="#ffff00"/><stop offset="0.7007" stop-color="#fff500"/><stop offset="0.761" stop-color="#ffee00"/><stop offset="1" stop-color="#ffe300"/></linearGradient>
<linearGradient id="s69" gradientUnits="userSpaceOnUse" x1="0" y1="360" x2="0" y2="575.5"><stop offset="0" stop-color="#a0ff5f"/><stop offset="0.2135" stop-color="#a6ff59"/><stop offset="0.3295" stop-color="#a7ff58"/><stop offset="0.3666" stop-color="#a9ff56"/><stop offset="0.3944" stop-color="#afff50"/><stop offset="0.4269" stop-color="#b9ff46"/><stop offset="0.5708" stop-color="#ecff13"/><stop offset="0.645" stop-color="#ffff00"/><stop offset="0.7007" stop-color="#fff500"/><stop offset="0.7657" stop-color="#ffee00"/><stop offset="1" stop-color="#ffe300"/></linearGradient>
<linearGradient id="s70" gradientUnits="userSpaceOnUse" x1="0" y1="360" x2="0" y2="575.5"><stop offset="0" stop-color="#a1ff5e"/><stop offset="0.3202" stop-color="#afff50"/><stop offset="0.3619" stop-color="#b3ff4c"/><stop offset="0.4223" stop-color="#c0ff3f"/><stop offset="0.5522" stop-color="#eaff15"/><stop offset="0.6404" stop-color="#ffff00"/><stop offset="0.7007" stop-color="#fff500"/><stop offset="0.7703" stop-color="#ffee00"/><stop offset="1" stop-color="#ffe300"/></linearGradient>
<linearGradient id="s71" gradientUnits="userSpaceOnUse" x1="0" y1="360" x2="0" y2="575.5"><stop offset="0" stop-color="#a1ff5e"/><stop offset="0.3202" stop-color="#afff50"/><stop offset="0.3619" stop-color="#b3ff4c"/><stop offset="0.4223" stop-color="#c0ff3f"/><stop offset="0.5522" stop-color="#eaff15"/><stop offset="0.6404" stop-color="#ffff00"/><stop offset="0.7007" stop-color="#fff500"/><stop offset="0.7703" stop-color="#ffee00"/><stop offset="1" stop-color="#ffe300"/></linearGradient>
<linearGradient id="s72" gradientUnits="userSpaceOnUse" x1="0" y1="360" x2="0" y2="575.5"><stop offset="0" stop-color="#a1ff5e"/><stop offset="0.3202" stop-color="#afff50"/><stop offset="0.3619" stop-color="#b3ff4c"/><stop offset="0.4223" stop-color="#c0ff3f"/><stop offset="0.5522" stop-color="#eaff15"/><stop offset="0.6404" stop-color="#ffff00"/><stop offset="0.7007" stop-color="#fff500"/><stop offset="0.7703" stop-color="#ffee00"/><stop offset="1" stop-color="#ffe300"/></linearGradient>
<filter id="f73" filterUnits="userSpaceOnUse" x="49.5" y="350" width="568" height="235.5" color-interpolation-filters="sRGB"><feGaussianBlur stdDeviation="4 0"/></filter>
<linearGradient id="s74" gradientUnits="userSpaceOnUse" x1="0" y1="319" x2="0" y2="393.302"><stop offset="0" stop-color="#42ffbd"/><stop offset="0.0404" stop-color="#42ffbd"/><stop offset="0.175" stop-color="#83ff7c"/><stop offset="0.2826" stop-color="#bfff40"/><stop offset="0.4441" stop-color="#feff01"/><stop offset="0.6191" stop-color="#ffbd00"/><stop offset="0.8614" stop-color="#ff8a00"/><stop offset="0.9556" stop-color="#ff8500"/><stop offset="1" stop-color="#ff8500"/></linearGradient>
<linearGradient id="s75" gradientUnits="userSpaceOnUse" x1="0" y1="319" x2="0" y2="393.325"><stop offset="0" stop-color="#42ffbd"/><stop offset="0.0404" stop-color="#42ffbd"/><stop offset="0.1749" stop-color="#83ff7c"/><stop offset="0.2825" stop-color="#bfff40"/><stop offset="0.444" stop-color="#feff01"/><stop offset="0.6189" stop-color="#ffbd00"/><stop offset="0.8611" stop-color="#ff8a00"/><stop offset="0.9553" stop-color="#ff8500"/><stop offset="1" stop-color="#ff8500"/></linearGradient>
<linearGradient id="s76" gradientUnits="userSpaceOnUse" x1="0" y1="319" x2="0" y2="393.348"><stop offset="0" stop-color="#42ffbd"/><stop offset="0.0404" stop-color="#42ffbd"/><stop offset="0.1614" stop-color="#7cff83"/><stop offset="0.2825" stop-color="#bfff40"/><stop offset="0.4439" stop-color="#feff01"/><stop offset="0.6187" stop-color="#ffbc00"/><stop offset="0.8608" stop-color="#ff8900"/><stop offset="0.955" stop-color="#ff8400"/><stop offset="1" stop-color="#ff8400"/></linearGradient>
<linearGradient id="s77" gradientUnits="userSpaceOnUse" x1="0" y1="319" x2="0" y2="393.371"><stop offset="0" stop-color="#42ffbd"/><stop offset="0.0403" stop-color="#42ffbd"/><stop offset="0.0672" stop-color="#4effb1"/><stop offset="0.1748" stop-color="#83ff7c"/><stop offset="0.2824" stop-color="#bfff40"/><stop offset="0.4437" stop-color="#ffff00"/><stop offset="0.6185" stop-color="#ffbc00"/><stop offset="0.8605" stop-color="#ff8800"/><stop offset="0.9547" stop-color="#ff8300"/><stop offset="1" stop-color="#ff8300"/></linearGradient>
<linearGradient id="s78" gradientUnits="userSpaceOnUse" x1="0" y1="319" x2="0" y2="393.394"><stop offset="0" stop-color="#42ffbd"/><stop offset="0.0403" stop-color="#42ffbd"/><stop offset="0.0672" stop-color="#4dffb2"/><stop offset="0.1747" stop-color="#83ff7c"/><stop offset="0.2823" stop-color="#bfff40"/><stop offset="0.4436" stop-color="#fffe00"/><stop offset="0.6183" stop-color="#ffbb00"/><stop offset="0.7931" stop-color="#ff9400"/><stop offset="0.8603" stop-color="#ff8800"/><stop offset="0.9544" stop-color="#ff8200"/><stop offset="1" stop-color="#ff8200"/></linearGradient>
<linearGradient id="s79" gradientUnits="userSpaceOnUse" x1="0" y1="319" x2="0" y2="393.417"><stop offset="0" stop-color="#42ffbd"/><stop offset="0.0403" stop-color="#42ffbd"/><stop offset="0.0672" stop-color="#4cffb3"/><stop offset="0.1747" stop-color="#83ff7c"/><stop offset="0.2822" stop-color="#bfff40"/><stop offset="0.4166" stop-color="#f6ff09"/><stop offset="0.4434" stop-color="#fffd00"/><stop offset="0.6181" stop-color="#ffbb00"/><stop offset="0.7928" stop-color="#ff9300"/><stop offset="0.86" stop-color="#ff8700"/><stop offset="0.9541" stop-color="#ff8100"/><stop offset="1" stop-color="#ff8000"/></linearGradient>
<linearGradient id="s80" gradientUnits="userSpaceOnUse" x1="0" y1="319" x2="0" y2="393.44"><stop offset="0" stop-color="#42ffbd"/><stop offset="0.0403" stop-color="#42ffbd"/><stop offset="0.0672" stop-color="#4bffb4"/><stop offset="0.1746" stop-color="#83ff7c"/><stop offset="0.2821" stop-color="#bfff40"/><stop offset="0.4164" stop-color="#f7ff08"/><stop offset="0.4433" stop-color="#fffd00"/><stop offset="0.6179" stop-color="#ffba00"/><stop offset="0.7926" stop-color="#ff9100"/><stop offset="0.8597" stop-color="#ff8600"/><stop offset="1" stop-color="#ff7f00"/></linearGradient>
<linearGradient id="s81" gradientUnits="userSpaceOnUse" x1="0" y1="319" x2="0" y2="393.463"><stop offset="0" stop-color="#42ffbd"/><stop offset="0.0403" stop-color="#42ffbd"/><stop offset="0.0671" stop-color="#4affb5"/><stop offset="0.1746" stop-color="#83ff7c"/><stop offset="0.282" stop-color="#c0ff3f"/><stop offset="0.4297" stop-color="#fdff02"/><stop offset="0.4432" stop-color="#fffc00"/><stop offset="0.6178" stop-color="#ffba00"/><stop offset="0.7923" stop-color="#ff9000"/><stop offset="0.8595" stop-color="#ff8500"/><stop offset="1" stop-color="#ff7e00"/></linearGradient>
<linearGradient id="s82" gradientUnits="userSpaceOnUse" x1="0" y1="319" x2="0" y2="393.487"><stop offset="0" stop-color="#42ffbd"/><stop offset="0.0403" stop-color="#42ffbd"/><stop offset="0.0671" stop-color="#49ffb6"/><stop offset="0.1745" stop-color="#83ff7c"/><stop offset="0.2819" stop-color="#c0ff3f"/><stop offset="0.4296" stop-color="#feff01"/><stop offset="0.6176" stop-color="#ffb900"/><stop offset="0.7921" stop-color="#ff8e00"/><stop offset="0.8592" stop-color="#ff8400"/><stop offset="1" stop-color="#ff7d00"/></linearGradient>
<linearGradient id="s83" gradientUnits="userSpaceOnUse" x1="0" y1="319" x2="0" y2="394.72"><stop offset="0" stop-color="#42ffbd"/><stop offset="0.0396" stop-color="#42ffbd"/><stop offset="0.066" stop-color="#48ffb7"/><stop offset="0.2773" stop-color="#c0ff3f"/><stop offset="0.4226" stop-color="#ffff00"/><stop offset="0.6075" stop-color="#ffb800"/><stop offset="0.7792" stop-color="#ff8d00"/><stop offset="0.8452" stop-color="#ff8400"/><stop offset="0.9377" stop-color="#ff7d00"/><stop offset="1.0037" stop-color="#ff7c00"/></linearGradient>
<linearGradient id="s84" gradientUnits="userSpaceOnUse" x1="0" y1="320.304" x2="0" y2="394.802"><stop offset="0" stop-color="#42ffbd"/><stop offset="0.0268" stop-color="#43ffbc"/><stop offset="0.0537" stop-color="#49ffb6"/><stop offset="0.255" stop-color="#bbff44"/><stop offset="0.4027" stop-color="#fcff03"/><stop offset="0.4161" stop-color="#fffd00"/><stop offset="0.5906" stop-color="#ffbb00"/><stop offset="0.7651" stop-color="#ff8e00"/><stop offset="0.8457" stop-color="#ff8300"/><stop offset="0.953" stop-color="#ff7b00"/><stop offset="1" stop-color="#ff7b00"/></linearGradient>
<linearGradient id="s85" gradientUnits="userSpaceOnUse" x1="0" y1="320.318" x2="0" y2="394.884"><stop offset="0" stop-color="#42ffbd"/><stop offset="0.0268" stop-color="#43ffbc"/><stop offset="0.0536" stop-color="#48ffb7"/><stop offset="0.2548" stop-color="#bbff44"/><stop offset="0.4023" stop-color="#fdff02"/><stop offset="0.4157" stop-color="#fffc00"/><stop offset="0.5767" stop-color="#ffbe00"/><stop offset="0.7644" stop-color="#ff8c00"/><stop offset="0.8449" stop-color="#ff8200"/><stop offset="0.9522" stop-color="#ff7a00"/><stop offset="1.0058" stop-color="#ff7a00"/></linearGradient>
<linearGradient id="s86" gradientUnits="userSpaceOnUse" x1="0" y1="320.333" x2="0" y2="394.966"><stop offset="0" stop-color="#42ffbd"/><stop offset="0.0268" stop-color="#43ffbc"/><stop offset="0.0536" stop-color="#47ffb8"/><stop offset="0.2546" stop-color="#bbff44"/><stop offset="0.402" stop-color="#feff01"/><stop offset="0.5761" stop-color="#ffbe00"/><stop offset="0.7637" stop-color="#ff8b00"/><stop offset="0.8441" stop-color="#ff8100"/><stop offset="0.9513" stop-color="#ff7900"/><stop offset="1.0049" stop-color="#ff7800"/></linearGradient>
<linearGradient id="s87" gradientUnits="userSpaceOnUse" x1="0" y1="320.347" x2="0" y2="396.307"><stop offset="0" stop-color="#42ffbd"/><stop offset="0.0395" stop-color="#43ffbc"/><stop offset="0.0527" stop-color="#47ffb8"/><stop offset="0.2501" stop-color="#bcff43"/><stop offset="0.3949" stop-color="#ffff00"/><stop offset="0.5661" stop-color="#ffbd00"/><stop offset="0.7504" stop-color="#ff8900"/><stop offset="0.8162" stop-color="#ff8100"/><stop offset="0.9215" stop-color="#ff7900"/><stop offset="1.0005" stop-color="#ff7700"/></linearGradient>
<linearGradient id="s88" gradientUnits="userSpaceOnUse" x1="0" y1="320.361" x2="0" y2="396.323"><stop offset="0" stop-color="#42ffbd"/><stop offset="0.0395" stop-color="#43ffbc"/><stop offset="0.0527" stop-color="#46ffb9"/><stop offset="0.2501" stop-color="#bcff43"/><stop offset="0.3949" stop-color="#fffe00"/><stop offset="0.5661" stop-color="#ffbc00"/><stop offset="0.7504" stop-color="#ff8800"/><stop offset="0.7635" stop-color="#ff8500"/><stop offset="0.9347" stop-color="#ff7700"/><stop offset="1.0005" stop-color="#ff7600"/></linearGradient>
<linearGradient id="s89" gradientUnits="userSpaceOnUse" x1="0" y1="320.376" x2="0" y2="396.339"><stop offset="0" stop-color="#42ffbd"/><stop offset="0.0395" stop-color="#42ffbd"/><stop offset="0.0527" stop-color="#45ffba"/><stop offset="0.2501" stop-color="#bcff43"/><stop offset="0.3818" stop-color="#fcff03"/><stop offset="0.3949" stop-color="#fffd00"/><stop offset="0.5661" stop-color="#ffbb00"/><stop offset="0.7504" stop-color="#ff8600"/><stop offset="0.7635" stop-color="#ff8300"/><stop offset="0.9347" stop-color="#ff7500"/><stop offset="1.0005" stop-color="#ff7400"/></linearGradient>
<linearGradient id="s90" gradientUnits="userSpaceOnUse" x1="0" y1="320.39" x2="0" y2="396.355"><stop offset="0" stop-color="#42ffbd"/><stop offset="0.0395" stop-color="#42ffbd"/><stop offset="0.0527" stop-color="#45ffba"/><stop offset="0.1316" stop-color="#78ff87"/><stop offset="0.2501" stop-color="#beff41"/><stop offset="0.3818" stop-color="#feff01"/><stop offset="0.566" stop-color="#ffb800"/><stop offset="0.7503" stop-color="#ff8200"/><stop offset="0.7898" stop-color="#ff7d00"/><stop offset="0.9346" stop-color="#ff7100"/><stop offset="1.0005" stop-color="#ff7000"/></linearGradient>
<linearGradient id="s91" gradientUnits="userSpaceOnUse" x1="0" y1="320.405" x2="0" y2="396.372"><stop offset="0" stop-color="#42ffbd"/><stop offset="0.0395" stop-color="#42ffbd"/><stop offset="0.0527" stop-color="#45ffba"/><stop offset="0.0658" stop-color="#4bffb4"/><stop offset="0.1316" stop-color="#79ff86"/><stop offset="0.2501" stop-color="#bfff40"/><stop offset="0.3291" stop-color="#e7ff18"/><stop offset="0.3817" stop-color="#fffe00"/><stop offset="0.566" stop-color="#ffb500"/><stop offset="0.7503" stop-color="#ff7f00"/><stop offset="0.7898" stop-color="#ff7900"/><stop offset="0.9346" stop-color="#ff6d00"/><stop offset="1.0004" stop-color="#ff6c00"/></linearGradient>
<linearGradient id="s92" gradientUnits="userSpaceOnUse" x1="0" y1="320.419" x2="0" y2="396.388"><stop offset="0" stop-color="#42ffbd"/><stop offset="0.0395" stop-color="#42ffbd"/><stop offset="0.0527" stop-color="#45ffba"/><stop offset="0.0658" stop-color="#4affb5"/><stop offset="0.1316" stop-color="#7bff84"/><stop offset="0.2501" stop-color="#c1ff3e"/><stop offset="0.3422" stop-color="#f0ff0f"/><stop offset="0.3686" stop-color="#fcff03"/><stop offset="0.3817" stop-color="#fffb00"/><stop offset="0.566" stop-color="#ffb200"/><stop offset="0.6318" stop-color="#ff9c00"/><stop offset="0.7503" stop-color="#ff7b00"/><stop offset="0.7898" stop-color="#ff7500"/><stop offset="0.9346" stop-color="#ff6900"/><stop offset="1.0004" stop-color="#ff6800"/></linearGradient>
<linearGradient id="s93" gradientUnits="userSpaceOnUse" x1="0" y1="320.434" x2="0" y2="396.404"><stop offset="0" stop-color="#42ffbd"/><stop offset="0.0395" stop-color="#42ffbd"/><stop offset="0.0658" stop-color="#4affb5"/><stop offset="0.1185" stop-color="#73ff8c"/><stop offset="0.1448" stop-color="#84ff7b"/><stop offset="0.2501" stop-color="#c3ff3c"/><stop offset="0.3291" stop-color="#ecff13"/><stop offset="0.3686" stop-color="#ffff00"/><stop offset="0.566" stop-color="#ffaf00"/><stop offset="0.6318" stop-color="#ff9800"/><stop offset="0.7503" stop-color="#ff7700"/><stop offset="0.7898" stop-color="#ff7100"/><stop offset="0.9082" stop-color="#ff6700"/><stop offset="1.0004" stop-color="#ff6300"/></linearGradient>
<linearGradient id="s94" gradientUnits="userSpaceOnUse" x1="0" y1="320.448" x2="0" y2="396.42"><stop offset="0" stop-color="#42ffbd"/><stop offset="0.0395" stop-color="#42ffbd"/><stop offset="0.0658" stop-color="#49ffb6"/><stop offset="0.1185" stop-color="#75ff8a"/><stop offset="0.1448" stop-color="#86ff79"/><stop offset="0.2501" stop-color="#c4ff3b"/><stop offset="0.3291" stop-color="#efff10"/><stop offset="0.3554" stop-color="#fbff04"/><stop offset="0.3686" stop-color="#fffd00"/><stop offset="0.566" stop-color="#ffac00"/><stop offset="0.6318" stop-color="#ff9500"/><stop offset="0.7503" stop-color="#ff7400"/><stop offset="0.7898" stop-color="#ff6d00"/><stop offset="0.9346" stop-color="#ff6100"/><stop offset="1.0004" stop-color="#ff5f00"/></linearGradient>
<linearGradient id="s95" gradientUnits="userSpaceOnUse" x1="0" y1="320.463" x2="0" y2="396.436"><stop offset="0" stop-color="#42ffbd"/><stop offset="0.0395" stop-color="#42ffbd"/><stop offset="0.0658" stop-color="#48ffb7"/><stop offset="0.1185" stop-color="#76ff89"/><stop offset="0.1316" stop-color="#7fff80"/><stop offset="0.2501" stop-color="#c6ff39"/><stop offset="0.3291" stop-color="#f1ff0e"/><stop offset="0.3554" stop-color="#feff01"/><stop offset="0.5528" stop-color="#ffae00"/><stop offset="0.6318" stop-color="#ff9100"/><stop offset="0.7503" stop-color="#ff7000"/><stop offset="0.7897" stop-color="#ff6900"/><stop offset="0.9345" stop-color="#ff5d00"/><stop offset="1.0003" stop-color="#ff5b00"/></linearGradient>
<linearGradient id="s96" gradientUnits="userSpaceOnUse" x1="0" y1="320.477" x2="0" y2="396.453"><stop offset="0" stop-color="#42ffbd"/><stop offset="0.0395" stop-color="#42ffbd"/><stop offset="0.0658" stop-color="#47ffb8"/><stop offset="0.1185" stop-color="#78ff87"/><stop offset="0.1316" stop-color="#81ff7e"/><stop offset="0.2501" stop-color="#c8ff37"/><stop offset="0.3291" stop-color="#f4ff0b"/><stop offset="0.3554" stop-color="#fffe00"/><stop offset="0.5528" stop-color="#ffab00"/><stop offset="0.6318" stop-color="#ff8d00"/><stop offset="0.7502" stop-color="#ff6d00"/><stop offset="0.7897" stop-color="#ff6500"/><stop offset="0.9345" stop-color="#ff5900"/><stop offset="1.0003" stop-color="#ff5700"/></linearGradient>
<linearGradient id="s97" gradientUnits="userSpaceOnUse" x1="0" y1="320.492" x2="0" y2="396.469"><stop offset="0" stop-color="#42ffbd"/><stop offset="0.0395" stop-color="#42ffbd"/><stop offset="0.0658" stop-color="#46ffb9"/><stop offset="0.1185" stop-color="#79ff86"/><stop offset="0.1316" stop-color="#82ff7d"/><stop offset="0.2501" stop-color="#c9ff36"/><stop offset="0.3422" stop-color="#fdff02"/><stop offset="0.3554" stop-color="#fffc00"/><stop offset="0.6318" stop-color="#ff8900"/><stop offset="0.7502" stop-color="#ff6900"/><stop offset="0.7897" stop-color="#ff6100"/><stop offset="0.9345" stop-color="#ff5500"/><stop offset="1.0003" stop-color="#ff5200"/></linearGradient>
<linearGradient id="s98" gradientUnits="userSpaceOnUse" x1="0" y1="321.551" x2="0" y2="396.485"><stop offset="0" stop-color="#42ffbd"/><stop offset="0.04" stop-color="#43ffbc"/><stop offset="0.0534" stop-color="#46ffb9"/><stop offset="0.1068" stop-color="#7bff84"/><stop offset="0.2402" stop-color="#cbff34"/><stop offset="0.3203" stop-color="#f9ff06"/><stop offset="0.3336" stop-color="#ffff00"/><stop offset="0.6272" stop-color="#ff8500"/><stop offset="0.7473" stop-color="#ff6500"/><stop offset="0.7874" stop-color="#ff5d00"/><stop offset="0.9475" stop-color="#ff5000"/><stop offset="1.0009" stop-color="#ff4e00"/></linearGradient>
<linearGradient id="s99" gradientUnits="userSpaceOnUse" x1="0" y1="321.536" x2="0" y2="396.604"><stop offset="0" stop-color="#42ffbd"/><stop offset="0.04" stop-color="#43ffbc"/><stop offset="0.0533" stop-color="#45ffba"/><stop offset="0.1066" stop-color="#7cff83"/><stop offset="0.1199" stop-color="#85ff7a"/><stop offset="0.3197" stop-color="#fcff03"/><stop offset="0.333" stop-color="#fffc00"/><stop offset="0.6261" stop-color="#ff8200"/><stop offset="0.786" stop-color="#ff5800"/><stop offset="1" stop-color="#ff4a00"/></linearGradient>
<linearGradient id="s100" gradientUnits="userSpaceOnUse" x1="0" y1="321.521" x2="0" y2="397.854"><stop offset="0" stop-color="#42ffbd"/><stop offset="0.0393" stop-color="#43ffbc"/><stop offset="0.0524" stop-color="#45ffba"/><stop offset="0.1048" stop-color="#7eff81"/><stop offset="0.3144" stop-color="#ffff00"/><stop offset="0.6157" stop-color="#ff7e00"/><stop offset="0.6812" stop-color="#ff6b00"/><stop offset="0.7729" stop-color="#ff5400"/><stop offset="0.9563" stop-color="#ff4600"/><stop offset="1" stop-color="#ff4500"/></linearGradient>
<linearGradient id="s101" gradientUnits="userSpaceOnUse" x1="0" y1="321.506" x2="0" y2="399.111"><stop offset="0" stop-color="#42ffbd"/><stop offset="0.0258" stop-color="#42ffbd"/><stop offset="0.0515" stop-color="#48ffb7"/><stop offset="0.1031" stop-color="#7fff80"/><stop offset="0.116" stop-color="#89ff76"/><stop offset="0.2577" stop-color="#e6ff19"/><stop offset="0.2964" stop-color="#fcff03"/><stop offset="0.3093" stop-color="#fffb00"/><stop offset="0.6056" stop-color="#ff7900"/><stop offset="0.6829" stop-color="#ff6200"/><stop offset="0.7603" stop-color="#ff5000"/><stop offset="0.8762" stop-color="#ff4500"/><stop offset="0.9407" stop-color="#ff4100"/><stop offset="1.0051" stop-color="#ff4000"/></linearGradient>
<linearGradient id="s102" gradientUnits="userSpaceOnUse" x1="0" y1="321.129" x2="0" y2="400.444"><stop offset="0" stop-color="#42ffbd"/><stop offset="0.0378" stop-color="#43ffbc"/><stop offset="0.0504" stop-color="#48ffb7"/><stop offset="0.063" stop-color="#54ffab"/><stop offset="0.1009" stop-color="#7cff83"/><stop offset="0.1135" stop-color="#87ff78"/><stop offset="0.2522" stop-color="#e8ff17"/><stop offset="0.29" stop-color="#feff01"/><stop offset="0.3908" stop-color="#ffcf00"/><stop offset="0.5421" stop-color="#ff8c00"/><stop offset="0.5926" stop-color="#ff7700"/><stop offset="0.6682" stop-color="#ff5e00"/><stop offset="0.7439" stop-color="#ff4d00"/><stop offset="0.8447" stop-color="#ff4000"/><stop offset="0.933" stop-color="#ff3b00"/><stop offset="1" stop-color="#ff3a00"/></linearGradient>
<linearGradient id="s103" gradientUnits="userSpaceOnUse" x1="0" y1="320.494" x2="0" y2="401.778"><stop offset="0" stop-color="#42ffbd"/><stop offset="0.0369" stop-color="#42ffbd"/><stop offset="0.0492" stop-color="#46ffb9"/><stop offset="0.0615" stop-color="#4effb1"/><stop offset="0.1107" stop-color="#83ff7c"/><stop offset="0.2584" stop-color="#f1ff0e"/><stop offset="0.283" stop-color="#ffff00"/><stop offset="0.3937" stop-color="#ffc800"/><stop offset="0.529" stop-color="#ff8b00"/><stop offset="0.5905" stop-color="#ff7100"/><stop offset="0.6643" stop-color="#ff5800"/><stop offset="0.7382" stop-color="#ff4800"/><stop offset="0.8243" stop-color="#ff3c00"/><stop offset="0.9104" stop-color="#ff3700"/><stop offset="1" stop-color="#ff3500"/></linearGradient>
<linearGradient id="s104" gradientUnits="userSpaceOnUse" x1="0" y1="319.859" x2="0" y2="402.752"><stop offset="0" stop-color="#42ffbd"/><stop offset="0.0483" stop-color="#42ffbd"/><stop offset="0.0724" stop-color="#56ffa9"/><stop offset="0.1086" stop-color="#7dff82"/><stop offset="0.1206" stop-color="#88ff77"/><stop offset="0.2533" stop-color="#f1ff0e"/><stop offset="0.2654" stop-color="#faff05"/><stop offset="0.2775" stop-color="#fffe00"/><stop offset="0.386" stop-color="#ffc700"/><stop offset="0.5187" stop-color="#ff8900"/><stop offset="0.6514" stop-color="#ff5400"/><stop offset="0.7238" stop-color="#ff4500"/><stop offset="0.8203" stop-color="#ff3500"/><stop offset="1.0013" stop-color="#ff3000"/></linearGradient>
<linearGradient id="s105" gradientUnits="userSpaceOnUse" x1="0" y1="318.243" x2="0" y2="403.654"><stop offset="0" stop-color="#42ffbd"/><stop offset="0.0585" stop-color="#42ffbd"/><stop offset="0.0702" stop-color="#45ffba"/><stop offset="0.1288" stop-color="#83ff7c"/><stop offset="0.2693" stop-color="#fbff04"/><stop offset="0.281" stop-color="#fffc00"/><stop offset="0.3981" stop-color="#ffc000"/><stop offset="0.5269" stop-color="#ff8200"/><stop offset="0.6557" stop-color="#ff4d00"/><stop offset="0.8196" stop-color="#ff2f00"/><stop offset="1" stop-color="#ff2a00"/></linearGradient>
<linearGradient id="s106" gradientUnits="userSpaceOnUse" x1="0" y1="316.3" x2="0" y2="404"><stop offset="0" stop-color="#40ffbf"/><stop offset="0.0456" stop-color="#4dffb2"/><stop offset="0.0798" stop-color="#51ffae"/><stop offset="0.0912" stop-color="#56ffa9"/><stop offset="0.1482" stop-color="#8fff70"/><stop offset="0.2737" stop-color="#f8ff07"/><stop offset="0.2851" stop-color="#fffd00"/><stop offset="0.4105" stop-color="#ffbb00"/><stop offset="0.5359" stop-color="#ff7d00"/><stop offset="0.6043" stop-color="#ff5f00"/><stop offset="0.6613" stop-color="#ff4900"/><stop offset="0.7412" stop-color="#ff3800"/><stop offset="0.821" stop-color="#ff2c00"/><stop offset="1.0034" stop-color="#ff2800"/></linearGradient>
<linearGradient id="s107" gradientUnits="userSpaceOnUse" x1="0" y1="312.771" x2="0" y2="404"><stop offset="0" stop-color="#25ffda"/><stop offset="0.0219" stop-color="#30ffcf"/><stop offset="0.0767" stop-color="#58ffa7"/><stop offset="0.0877" stop-color="#5dffa2"/><stop offset="0.1206" stop-color="#67ff98"/><stop offset="0.1754" stop-color="#99ff66"/><stop offset="0.274" stop-color="#e9ff16"/><stop offset="0.296" stop-color="#f9ff06"/><stop offset="0.3069" stop-color="#fffc00"/><stop offset="0.3946" stop-color="#ffca00"/><stop offset="0.559" stop-color="#ff7600"/><stop offset="0.6138" stop-color="#ff5c00"/><stop offset="0.6686" stop-color="#ff4600"/><stop offset="0.7454" stop-color="#ff3300"/><stop offset="0.8221" stop-color="#ff2a00"/><stop offset="1" stop-color="#ff2700"/></linearGradient>
<linearGradient id="s108" gradientUnits="userSpaceOnUse" x1="0" y1="309.288" x2="0" y2="404"><stop offset="0" stop-color="#13ffec"/><stop offset="0.0317" stop-color="#13ffec"/><stop offset="0.0422" stop-color="#18ffe7"/><stop offset="0.0528" stop-color="#20ffdf"/><stop offset="0.1161" stop-color="#6bff94"/><stop offset="0.1584" stop-color="#7fff80"/><stop offset="0.2112" stop-color="#acff53"/><stop offset="0.3167" stop-color="#fdff02"/><stop offset="0.3273" stop-color="#fffa00"/><stop offset="0.4223" stop-color="#ffc200"/><stop offset="0.6229" stop-color="#ff5900"/><stop offset="0.6863" stop-color="#ff4000"/><stop offset="0.7602" stop-color="#ff2c00"/><stop offset="0.8341" stop-color="#ff2700"/><stop offset="1.003" stop-color="#ff2500"/></linearGradient>
<linearGradient id="s109" gradientUnits="userSpaceOnUse" x1="0" y1="299.612" x2="0" y2="404"><stop offset="0" stop-color="#02fffd"/><stop offset="0.1245" stop-color="#02fffd"/><stop offset="0.1437" stop-color="#18ffe7"/><stop offset="0.1916" stop-color="#6eff91"/><stop offset="0.2012" stop-color="#7bff84"/><stop offset="0.2395" stop-color="#96ff69"/><stop offset="0.3736" stop-color="#ffff00"/><stop offset="0.4694" stop-color="#ffc100"/><stop offset="0.5844" stop-color="#ff8100"/><stop offset="0.661" stop-color="#ff5100"/><stop offset="0.7185" stop-color="#ff3b00"/><stop offset="0.776" stop-color="#ff2800"/><stop offset="0.7855" stop-color="#ff2600"/><stop offset="1" stop-color="#ff2400"/></linearGradient>
<linearGradient id="s110" gradientUnits="userSpaceOnUse" x1="0" y1="290.598" x2="0" y2="404"><stop offset="0" stop-color="#00f8ff"/><stop offset="0.0617" stop-color="#00ffff"/><stop offset="0.194" stop-color="#0ffff0"/><stop offset="0.2116" stop-color="#25ffda"/><stop offset="0.2557" stop-color="#75ff8a"/><stop offset="0.2645" stop-color="#82ff7d"/><stop offset="0.4145" stop-color="#ffff00"/><stop offset="0.5115" stop-color="#ffbd00"/><stop offset="0.6173" stop-color="#ff7c00"/><stop offset="0.6878" stop-color="#ff4e00"/><stop offset="0.7672" stop-color="#ff2d00"/><stop offset="0.8025" stop-color="#ff2400"/><stop offset="1" stop-color="#ff2400"/></linearGradient>
<linearGradient id="s111" gradientUnits="userSpaceOnUse" x1="0" y1="281.551" x2="0" y2="404"><stop offset="0" stop-color="#00e9ff"/><stop offset="0.0327" stop-color="#00eaff"/><stop offset="0.1062" stop-color="#00ffff"/><stop offset="0.2532" stop-color="#33ffcc"/><stop offset="0.2695" stop-color="#42ffbd"/><stop offset="0.3185" stop-color="#83ff7c"/><stop offset="0.441" stop-color="#f5ff0a"/><stop offset="0.4492" stop-color="#fcff03"/><stop offset="0.4573" stop-color="#fffb00"/><stop offset="0.5472" stop-color="#ffb900"/><stop offset="0.7105" stop-color="#ff4e00"/><stop offset="0.784" stop-color="#ff2a00"/><stop offset="0.8167" stop-color="#ff2400"/><stop offset="1" stop-color="#ff2400"/></linearGradient>
<linearGradient id="s112" gradientUnits="userSpaceOnUse" x1="0" y1="275.5" x2="0" y2="403.176"><stop offset="0" stop-color="#00deff"/><stop offset="0.0705" stop-color="#00deff"/><stop offset="0.0783" stop-color="#00e0ff"/><stop offset="0.141" stop-color="#00feff"/><stop offset="0.1488" stop-color="#02fffd"/><stop offset="0.2898" stop-color="#56ffa9"/><stop offset="0.3446" stop-color="#7cff83"/><stop offset="0.4699" stop-color="#faff05"/><stop offset="0.4778" stop-color="#fffd00"/><stop offset="0.5639" stop-color="#ffbb00"/><stop offset="0.6422" stop-color="#ff8300"/><stop offset="0.7284" stop-color="#ff4d00"/><stop offset="0.7989" stop-color="#ff2700"/><stop offset="0.8067" stop-color="#ff2400"/><stop offset="0.8302" stop-color="#ff2400"/><stop offset="1.0025" stop-color="#ff2400"/></linearGradient>
<linearGradient id="s113" gradientUnits="userSpaceOnUse" x1="0" y1="270.5" x2="0" y2="401.32"><stop offset="0" stop-color="#00dbff"/><stop offset="0.0306" stop-color="#00dcff"/><stop offset="0.107" stop-color="#00e3ff"/><stop offset="0.1605" stop-color="#00ffff"/><stop offset="0.1911" stop-color="#12ffed"/><stop offset="0.3211" stop-color="#6aff95"/><stop offset="0.3746" stop-color="#8bff74"/><stop offset="0.4969" stop-color="#fcff03"/><stop offset="0.5045" stop-color="#fffc00"/><stop offset="0.5886" stop-color="#ffbd00"/><stop offset="0.6727" stop-color="#ff8100"/><stop offset="0.7491" stop-color="#ff4f00"/><stop offset="0.8179" stop-color="#ff2800"/><stop offset="0.8409" stop-color="#ff2400"/><stop offset="1.0014" stop-color="#ff2400"/></linearGradient>
<linearGradient id="s114" gradientUnits="userSpaceOnUse" x1="0" y1="269.038" x2="0" y2="397.72"><stop offset="0" stop-color="#00dbff"/><stop offset="0.0389" stop-color="#00dbff"/><stop offset="0.1166" stop-color="#00edff"/><stop offset="0.1243" stop-color="#00efff"/><stop offset="0.1554" stop-color="#01fffe"/><stop offset="0.202" stop-color="#1cffe3"/><stop offset="0.2409" stop-color="#3affc5"/><stop offset="0.3963" stop-color="#a1ff5e"/><stop offset="0.5207" stop-color="#ffff00"/><stop offset="0.6916" stop-color="#ff8800"/><stop offset="0.7771" stop-color="#ff5000"/><stop offset="0.8471" stop-color="#ff2a00"/><stop offset="0.8626" stop-color="#ff2400"/><stop offset="1.0025" stop-color="#ff2400"/></linearGradient>
<linearGradient id="s115" gradientUnits="userSpaceOnUse" x1="0" y1="267.2" x2="0" y2="394.745"><stop offset="0" stop-color="#00dbff"/><stop offset="0.0549" stop-color="#00dfff"/><stop offset="0.149" stop-color="#01fffe"/><stop offset="0.2195" stop-color="#28ffd7"/><stop offset="0.541" stop-color="#fffe00"/><stop offset="0.8076" stop-color="#ff4c00"/><stop offset="0.8781" stop-color="#ff2700"/><stop offset="0.886" stop-color="#ff2400"/><stop offset="1.0036" stop-color="#ff2400"/></linearGradient>
<linearGradient id="s116" gradientUnits="userSpaceOnUse" x1="0" y1="262.817" x2="0" y2="392.131"><stop offset="0" stop-color="#00dbff"/><stop offset="0.0541" stop-color="#00dbff"/><stop offset="0.1469" stop-color="#00ffff"/><stop offset="0.1701" stop-color="#09fff6"/><stop offset="0.2861" stop-color="#42ffbd"/><stop offset="0.5645" stop-color="#feff01"/><stop offset="0.8274" stop-color="#ff4d00"/><stop offset="0.9048" stop-color="#ff2400"/><stop offset="1" stop-color="#ff2400"/></linearGradient>
<linearGradient id="s117" gradientUnits="userSpaceOnUse" x1="0" y1="250.21" x2="0" y2="390.391"><stop offset="0" stop-color="#00d8ff"/><stop offset="0.1427" stop-color="#00ddff"/><stop offset="0.1569" stop-color="#00e6ff"/><stop offset="0.214" stop-color="#00feff"/><stop offset="0.2211" stop-color="#02fffd"/><stop offset="0.3567" stop-color="#43ffbc"/><stop offset="0.6135" stop-color="#fffe00"/><stop offset="0.856" stop-color="#ff4c00"/><stop offset="0.9202" stop-color="#ff2700"/><stop offset="0.9274" stop-color="#ff2400"/><stop offset="1" stop-color="#ff2400"/></linearGradient>
<linearGradient id="s118" gradientUnits="userSpaceOnUse" x1="0" y1="243.68" x2="0" y2="389.512"><stop offset="0" stop-color="#00cfff"/><stop offset="0.0754" stop-color="#00cfff"/><stop offset="0.1783" stop-color="#00dfff"/><stop offset="0.24" stop-color="#00f2ff"/><stop offset="0.2674" stop-color="#01fffe"/><stop offset="0.384" stop-color="#41ffbe"/><stop offset="0.6309" stop-color="#fdff02"/><stop offset="0.864" stop-color="#ff4e00"/><stop offset="0.9326" stop-color="#ff2500"/><stop offset="1.0012" stop-color="#ff2400"/></linearGradient>
<linearGradient id="s119" gradientUnits="userSpaceOnUse" x1="0" y1="242.578" x2="0" y2="389.346"><stop offset="0" stop-color="#00ccff"/><stop offset="0.0818" stop-color="#00ceff"/><stop offset="0.1158" stop-color="#00d3ff"/><stop offset="0.218" stop-color="#00eaff"/><stop offset="0.2453" stop-color="#00f2ff"/><stop offset="0.2725" stop-color="#01fffe"/><stop offset="0.3475" stop-color="#2affd5"/><stop offset="0.3952" stop-color="#3effc1"/><stop offset="0.7427" stop-color="#fcff03"/><stop offset="0.7495" stop-color="#fffe00"/><stop offset="0.8653" stop-color="#ffbf00"/><stop offset="0.9334" stop-color="#ffa200"/><stop offset="1.0016" stop-color="#ffa100"/></linearGradient>
<linearGradient id="s120" gradientUnits="userSpaceOnUse" x1="0" y1="242.154" x2="0" y2="389.18"><stop offset="0" stop-color="#00ccff"/><stop offset="0.0272" stop-color="#00ccff"/><stop offset="0.1224" stop-color="#00d6ff"/><stop offset="0.2245" stop-color="#00efff"/><stop offset="0.2653" stop-color="#01fffe"/><stop offset="0.3537" stop-color="#2dffd2"/><stop offset="0.3945" stop-color="#32ffcd"/><stop offset="0.8706" stop-color="#7fff80"/><stop offset="0.9386" stop-color="#87ff78"/><stop offset="1" stop-color="#87ff78"/></linearGradient>
<linearGradient id="s121" gradientUnits="userSpaceOnUse" x1="0" y1="243.392" x2="0" y2="389.014"><stop offset="0" stop-color="#00ccff"/><stop offset="0.1167" stop-color="#00d5ff"/><stop offset="0.2129" stop-color="#00eeff"/><stop offset="0.2472" stop-color="#00fdff"/><stop offset="0.2541" stop-color="#01fffe"/><stop offset="0.2816" stop-color="#10ffef"/><stop offset="0.3502" stop-color="#39ffc6"/><stop offset="0.5082" stop-color="#50ffaf"/><stop offset="1.0026" stop-color="#50ffaf"/></linearGradient>
<linearGradient id="s122" gradientUnits="userSpaceOnUse" x1="0" y1="242.578" x2="0" y2="387.992"><stop offset="0" stop-color="#00ccff"/><stop offset="0.1238" stop-color="#00d3ff"/><stop offset="0.2063" stop-color="#00e8ff"/><stop offset="0.2544" stop-color="#00feff"/><stop offset="0.2613" stop-color="#03fffc"/><stop offset="0.2888" stop-color="#17ffe8"/><stop offset="0.3576" stop-color="#4bffb4"/><stop offset="0.4745" stop-color="#7cff83"/><stop offset="0.5158" stop-color="#8aff75"/><stop offset="1" stop-color="#8bff74"/></linearGradient>
<linearGradient id="s123" gradientUnits="userSpaceOnUse" x1="0" y1="245.244" x2="0" y2="386.892"><stop offset="0" stop-color="#00ccff"/><stop offset="0.1059" stop-color="#00d0ff"/><stop offset="0.1906" stop-color="#00e5ff"/><stop offset="0.2471" stop-color="#01fffe"/><stop offset="0.353" stop-color="#62ff9d"/><stop offset="0.4236" stop-color="#8eff71"/><stop offset="0.473" stop-color="#b0ff4f"/><stop offset="0.5154" stop-color="#c6ff39"/><stop offset="1.0025" stop-color="#c6ff39"/></linearGradient>
<linearGradient id="s124" gradientUnits="userSpaceOnUse" x1="0" y1="249.209" x2="0" y2="385.792"><stop offset="0" stop-color="#00ccff"/><stop offset="0.0805" stop-color="#00ceff"/><stop offset="0.1684" stop-color="#00e3ff"/><stop offset="0.227" stop-color="#02fffd"/><stop offset="0.2782" stop-color="#35ffca"/><stop offset="0.3368" stop-color="#75ff8a"/><stop offset="0.41" stop-color="#b3ff4c"/><stop offset="0.4613" stop-color="#e3ff1c"/><stop offset="0.4979" stop-color="#fcff03"/><stop offset="0.5052" stop-color="#fffe00"/><stop offset="1.0031" stop-color="#fffe00"/></linearGradient>
<linearGradient id="s125" gradientUnits="userSpaceOnUse" x1="0" y1="252.718" x2="0" y2="384.692"><stop offset="0" stop-color="#00ccff"/><stop offset="0.053" stop-color="#00ccff"/><stop offset="0.144" stop-color="#00deff"/><stop offset="0.2046" stop-color="#00f9ff"/><stop offset="0.2122" stop-color="#00ffff"/><stop offset="0.2576" stop-color="#2dffd2"/><stop offset="0.3182" stop-color="#72ff8d"/><stop offset="0.394" stop-color="#bdff42"/><stop offset="0.4471" stop-color="#f6ff09"/><stop offset="0.4546" stop-color="#fdff02"/><stop offset="0.4622" stop-color="#fffb00"/><stop offset="0.4925" stop-color="#ffe200"/><stop offset="0.5077" stop-color="#ffdf00"/><stop offset="1.0002" stop-color="#ffdf00"/></linearGradient>
<linearGradient id="s126" gradientUnits="userSpaceOnUse" x1="0" y1="256.297" x2="0" y2="383.592"><stop offset="0" stop-color="#00ccff"/><stop offset="0.0314" stop-color="#00ccff"/><stop offset="0.1257" stop-color="#00daff"/><stop offset="0.1807" stop-color="#00ecff"/><stop offset="0.2043" stop-color="#00faff"/><stop offset="0.2121" stop-color="#02fffd"/><stop offset="0.2671" stop-color="#34ffcb"/><stop offset="0.3771" stop-color="#a5ff5a"/><stop offset="0.4399" stop-color="#ebff14"/><stop offset="0.4635" stop-color="#fffe00"/><stop offset="0.4871" stop-color="#ffec00"/><stop offset="0.5028" stop-color="#ffe700"/><stop offset="1" stop-color="#ffe700"/></linearGradient>
<linearGradient id="s127" gradientUnits="userSpaceOnUse" x1="0" y1="260.281" x2="0" y2="382.492"><stop offset="0" stop-color="#00ccff"/><stop offset="0.0982" stop-color="#00d5ff"/><stop offset="0.1555" stop-color="#00e0ff"/><stop offset="0.18" stop-color="#00eaff"/><stop offset="0.2046" stop-color="#00fcff"/><stop offset="0.2127" stop-color="#03fffc"/><stop offset="0.2455" stop-color="#1cffe3"/><stop offset="0.3028" stop-color="#53ffac"/><stop offset="0.4255" stop-color="#dbff24"/><stop offset="0.4419" stop-color="#ebff14"/><stop offset="0.4664" stop-color="#fffe00"/><stop offset="0.4746" stop-color="#fff800"/><stop offset="0.491" stop-color="#fff000"/><stop offset="1" stop-color="#fff000"/></linearGradient>
<linearGradient id="s128" gradientUnits="userSpaceOnUse" x1="0" y1="264.6" x2="0" y2="381.392"><stop offset="0" stop-color="#00cdff"/><stop offset="0.0685" stop-color="#00d0ff"/><stop offset="0.1456" stop-color="#00d7ff"/><stop offset="0.2141" stop-color="#00ffff"/><stop offset="0.2826" stop-color="#3dffc2"/><stop offset="0.4196" stop-color="#d8ff27"/><stop offset="0.4624" stop-color="#fdff02"/><stop offset="0.4709" stop-color="#fffb00"/><stop offset="0.4795" stop-color="#fff900"/><stop offset="1.0018" stop-color="#fff900"/></linearGradient>
<linearGradient id="s129" gradientUnits="userSpaceOnUse" x1="0" y1="270.6" x2="0" y2="380.292"><stop offset="0" stop-color="#00ceff"/><stop offset="0.1003" stop-color="#00ceff"/><stop offset="0.1732" stop-color="#00edff"/><stop offset="0.2006" stop-color="#02fffd"/><stop offset="0.2461" stop-color="#26ffd9"/><stop offset="0.392" stop-color="#c7ff38"/><stop offset="0.4467" stop-color="#f7ff08"/><stop offset="0.4558" stop-color="#faff05"/><stop offset="0.547" stop-color="#ffff00"/><stop offset="0.8296" stop-color="#fff500"/><stop offset="1.0028" stop-color="#fff400"/></linearGradient>
<linearGradient id="s130" gradientUnits="userSpaceOnUse" x1="0" y1="276.6" x2="0" y2="379.192"><stop offset="0" stop-color="#00d4ff"/><stop offset="0.0487" stop-color="#00d4ff"/><stop offset="0.0585" stop-color="#00d6ff"/><stop offset="0.1267" stop-color="#00ebff"/><stop offset="0.1657" stop-color="#00ffff"/><stop offset="0.1949" stop-color="#0ffff0"/><stop offset="0.2144" stop-color="#1effe1"/><stop offset="0.2729" stop-color="#56ffa9"/><stop offset="0.3607" stop-color="#b1ff4e"/><stop offset="0.4191" stop-color="#e2ff1d"/><stop offset="0.4289" stop-color="#e7ff18"/><stop offset="0.5166" stop-color="#feff01"/><stop offset="0.6238" stop-color="#ffea00"/><stop offset="0.7311" stop-color="#ffd900"/><stop offset="0.8285" stop-color="#ffcd00"/><stop offset="0.8968" stop-color="#ffca00"/><stop offset="1.004" stop-color="#ffc900"/></linearGradient>
<linearGradient id="s131" gradientUnits="userSpaceOnUse" x1="0" y1="281.814" x2="0" y2="378.092"><stop offset="0" stop-color="#00daff"/><stop offset="0.0831" stop-color="#00eaff"/><stop offset="0.1454" stop-color="#00feff"/><stop offset="0.1662" stop-color="#06fff9"/><stop offset="0.2389" stop-color="#42ffbd"/><stop offset="0.3324" stop-color="#9cff63"/><stop offset="0.3947" stop-color="#cfff30"/><stop offset="0.4986" stop-color="#feff01"/><stop offset="0.6128" stop-color="#ffd900"/><stop offset="0.7271" stop-color="#ffbb00"/><stop offset="0.8309" stop-color="#ffa500"/><stop offset="0.9036" stop-color="#ff9f00"/><stop offset="1" stop-color="#ff9f00"/></linearGradient>
<linearGradient id="s132" gradientUnits="userSpaceOnUse" x1="0" y1="286.339" x2="0" y2="382.5"><stop offset="0" stop-color="#00e4ff"/><stop offset="0.0416" stop-color="#00e8ff"/><stop offset="0.1144" stop-color="#00f4ff"/><stop offset="0.1352" stop-color="#01fffe"/><stop offset="0.1976" stop-color="#31ffce"/><stop offset="0.26" stop-color="#6eff91"/><stop offset="0.3432" stop-color="#b6ff49"/><stop offset="0.4472" stop-color="#fbff04"/><stop offset="0.4576" stop-color="#fffd00"/><stop offset="0.5616" stop-color="#ffca00"/><stop offset="0.6863" stop-color="#ff9a00"/><stop offset="0.7799" stop-color="#ff7e00"/><stop offset="0.8631" stop-color="#ff7400"/><stop offset="1" stop-color="#ff7400"/></linearGradient>
<linearGradient id="s133" gradientUnits="userSpaceOnUse" x1="0" y1="289.797" x2="0" y2="393.187"><stop offset="0" stop-color="#00e8ff"/><stop offset="0.0774" stop-color="#00e8ff"/><stop offset="0.1064" stop-color="#00fcff"/><stop offset="0.1161" stop-color="#04fffb"/><stop offset="0.1451" stop-color="#19ffe6"/><stop offset="0.2128" stop-color="#5fffa0"/><stop offset="0.2902" stop-color="#a8ff57"/><stop offset="0.3869" stop-color="#feff01"/><stop offset="0.4933" stop-color="#ffb800"/><stop offset="0.5997" stop-color="#ff8000"/><stop offset="0.6964" stop-color="#ff5700"/><stop offset="0.7738" stop-color="#ff4b00"/><stop offset="1" stop-color="#ff4b00"/></linearGradient>
<linearGradient id="s134" gradientUnits="userSpaceOnUse" x1="0" y1="292.438" x2="0" y2="399.2"><stop offset="0" stop-color="#0afff5"/><stop offset="0.0562" stop-color="#0cfff3"/><stop offset="0.1124" stop-color="#22ffdd"/><stop offset="0.1218" stop-color="#29ffd6"/><stop offset="0.178" stop-color="#6fff90"/><stop offset="0.2997" stop-color="#e4ff1b"/><stop offset="0.3278" stop-color="#fbff04"/><stop offset="0.3372" stop-color="#fffc00"/><stop offset="0.4402" stop-color="#ffb600"/><stop offset="0.5058" stop-color="#ff8f00"/><stop offset="0.562" stop-color="#ff7300"/><stop offset="0.6463" stop-color="#ff5000"/><stop offset="0.7119" stop-color="#ff4100"/><stop offset="0.7587" stop-color="#ff3b00"/><stop offset="1.0022" stop-color="#ff3800"/></linearGradient>
<linearGradient id="s135" gradientUnits="userSpaceOnUse" x1="0" y1="295.08" x2="0" y2="402.218"><stop offset="0" stop-color="#2bffd4"/><stop offset="0.0933" stop-color="#2effd1"/><stop offset="0.1493" stop-color="#7fff80"/><stop offset="0.28" stop-color="#feff01"/><stop offset="0.3827" stop-color="#ffc100"/><stop offset="0.4854" stop-color="#ff8000"/><stop offset="0.5974" stop-color="#ff4d00"/><stop offset="0.728" stop-color="#ff2a00"/><stop offset="0.9147" stop-color="#ff2500"/><stop offset="1" stop-color="#ff2500"/></linearGradient>
<linearGradient id="s136" gradientUnits="userSpaceOnUse" x1="0" y1="298.638" x2="0" y2="403.408"><stop offset="0" stop-color="#33ffcc"/><stop offset="0.0573" stop-color="#33ffcc"/><stop offset="0.0668" stop-color="#39ffc6"/><stop offset="0.1623" stop-color="#9fff60"/><stop offset="0.2482" stop-color="#f3ff0c"/><stop offset="0.2577" stop-color="#fbff04"/><stop offset="0.2673" stop-color="#fffd00"/><stop offset="0.4581" stop-color="#ff8500"/><stop offset="0.5727" stop-color="#ff5100"/><stop offset="0.6013" stop-color="#ff4700"/><stop offset="0.7159" stop-color="#ff2800"/><stop offset="0.859" stop-color="#ff2500"/><stop offset="1.0022" stop-color="#ff2500"/></linearGradient>
<linearGradient id="s137" gradientUnits="userSpaceOnUse" x1="0" y1="302.279" x2="0" y2="404"><stop offset="0" stop-color="#38ffc7"/><stop offset="0.0295" stop-color="#3affc5"/><stop offset="0.0885" stop-color="#62ff9d"/><stop offset="0.0983" stop-color="#6bff94"/><stop offset="0.1376" stop-color="#9aff65"/><stop offset="0.2163" stop-color="#e6ff19"/><stop offset="0.2458" stop-color="#ffff00"/><stop offset="0.2654" stop-color="#fff100"/><stop offset="0.3637" stop-color="#ffb400"/><stop offset="0.462" stop-color="#ff7b00"/><stop offset="0.5604" stop-color="#ff5100"/><stop offset="0.6882" stop-color="#ff2a00"/><stop offset="0.7078" stop-color="#ff2600"/><stop offset="0.8356" stop-color="#ff2400"/><stop offset="1.0027" stop-color="#ff2600"/></linearGradient>
<linearGradient id="s138" gradientUnits="userSpaceOnUse" x1="0" y1="304.583" x2="0" y2="404"><stop offset="0" stop-color="#3dffc2"/><stop offset="0.0704" stop-color="#52ffad"/><stop offset="0.1106" stop-color="#88ff77"/><stop offset="0.1207" stop-color="#92ff6d"/><stop offset="0.2112" stop-color="#e9ff16"/><stop offset="0.2313" stop-color="#fbff04"/><stop offset="0.2414" stop-color="#fffa00"/><stop offset="0.3521" stop-color="#ffb600"/><stop offset="0.4526" stop-color="#ff7c00"/><stop offset="0.5733" stop-color="#ff4b00"/><stop offset="0.684" stop-color="#ff2900"/><stop offset="0.7041" stop-color="#ff2500"/><stop offset="0.8349" stop-color="#ff2400"/><stop offset="1" stop-color="#ff2800"/></linearGradient>
<linearGradient id="s139" gradientUnits="userSpaceOnUse" x1="0" y1="306.285" x2="0" y2="403.69"><stop offset="0" stop-color="#43ffbc"/><stop offset="0.0513" stop-color="#43ffbc"/><stop offset="0.0616" stop-color="#4bffb4"/><stop offset="0.0924" stop-color="#79ff86"/><stop offset="0.1027" stop-color="#85ff7a"/><stop offset="0.2259" stop-color="#fbff04"/><stop offset="0.2361" stop-color="#fffb00"/><stop offset="0.3388" stop-color="#ffbb00"/><stop offset="0.4415" stop-color="#ff8100"/><stop offset="0.5647" stop-color="#ff4e00"/><stop offset="0.6878" stop-color="#ff2700"/><stop offset="0.6981" stop-color="#ff2400"/><stop offset="0.8316" stop-color="#ff2400"/><stop offset="1" stop-color="#ff2900"/></linearGradient>
<linearGradient id="s140" gradientUnits="userSpaceOnUse" x1="0" y1="307.208" x2="0" y2="404"><stop offset="0" stop-color="#45ffba"/><stop offset="0.0413" stop-color="#45ffba"/><stop offset="0.0517" stop-color="#4cffb3"/><stop offset="0.0827" stop-color="#78ff87"/><stop offset="0.093" stop-color="#84ff7b"/><stop offset="0.217" stop-color="#f4ff0b"/><stop offset="0.2273" stop-color="#fcff03"/><stop offset="0.2376" stop-color="#fffb00"/><stop offset="0.3306" stop-color="#ffc200"/><stop offset="0.4443" stop-color="#ff8100"/><stop offset="0.5579" stop-color="#ff5200"/><stop offset="0.6096" stop-color="#ff4100"/><stop offset="0.6819" stop-color="#ff2d00"/><stop offset="0.6922" stop-color="#ff2a00"/><stop offset="0.7439" stop-color="#ff2800"/><stop offset="1.0021" stop-color="#ff2c00"/></linearGradient>
<linearGradient id="s141" gradientUnits="userSpaceOnUse" x1="0" y1="307.7" x2="0" y2="403.283"><stop offset="0" stop-color="#48ffb7"/><stop offset="0.0418" stop-color="#48ffb7"/><stop offset="0.0837" stop-color="#80ff80"/><stop offset="0.2197" stop-color="#f2ff0d"/><stop offset="0.2406" stop-color="#fffe00"/><stop offset="0.3243" stop-color="#ffca00"/><stop offset="0.4394" stop-color="#ff8900"/><stop offset="0.4813" stop-color="#ff7500"/><stop offset="0.565" stop-color="#ff5500"/><stop offset="0.6173" stop-color="#ff4400"/><stop offset="0.6905" stop-color="#ff3100"/><stop offset="0.7428" stop-color="#ff2c00"/><stop offset="1.0044" stop-color="#ff2e00"/></linearGradient>
<linearGradient id="s142" gradientUnits="userSpaceOnUse" x1="0" y1="307.7" x2="0" y2="402.011"><stop offset="0" stop-color="#4affb5"/><stop offset="0.0424" stop-color="#4affb5"/><stop offset="0.0848" stop-color="#80ff80"/><stop offset="0.2227" stop-color="#ebff14"/><stop offset="0.2439" stop-color="#faff05"/><stop offset="0.2545" stop-color="#fffc00"/><stop offset="0.3711" stop-color="#ffb700"/><stop offset="0.4771" stop-color="#ff7e00"/><stop offset="0.615" stop-color="#ff4a00"/><stop offset="0.6998" stop-color="#ff3800"/><stop offset="0.7528" stop-color="#ff3000"/><stop offset="1" stop-color="#ff3100"/></linearGradient>
<linearGradient id="s143" gradientUnits="userSpaceOnUse" x1="0" y1="307.7" x2="0" y2="399.58"><stop offset="0" stop-color="#4cffb3"/><stop offset="0.0435" stop-color="#4cffb3"/><stop offset="0.0871" stop-color="#7fff80"/><stop offset="0.2612" stop-color="#fcff03"/><stop offset="0.2721" stop-color="#fffb00"/><stop offset="0.3809" stop-color="#ffbd00"/><stop offset="0.4898" stop-color="#ff8200"/><stop offset="0.6313" stop-color="#ff4e00"/><stop offset="0.7727" stop-color="#ff3400"/><stop offset="1.0013" stop-color="#ff3400"/></linearGradient>
<linearGradient id="s144" gradientUnits="userSpaceOnUse" x1="0" y1="307.7" x2="0" y2="396.733"><stop offset="0" stop-color="#4cffb3"/><stop offset="0.0449" stop-color="#4cffb3"/><stop offset="0.0899" stop-color="#7fff80"/><stop offset="0.2696" stop-color="#f6ff09"/><stop offset="0.2808" stop-color="#fdff02"/><stop offset="0.292" stop-color="#fffb00"/><stop offset="0.4268" stop-color="#ffb000"/><stop offset="0.5054" stop-color="#ff8900"/><stop offset="0.5728" stop-color="#ff6f00"/><stop offset="0.6514" stop-color="#ff5600"/><stop offset="0.6964" stop-color="#ff4d00"/><stop offset="0.7975" stop-color="#ff3d00"/><stop offset="1" stop-color="#ff3d00"/></linearGradient>
<linearGradient id="s145" gradientUnits="userSpaceOnUse" x1="0" y1="307.7" x2="0" y2="393.112"><stop offset="0" stop-color="#4dffb2"/><stop offset="0.0468" stop-color="#4dffb2"/><stop offset="0.0937" stop-color="#7eff81"/><stop offset="0.3044" stop-color="#fdff02"/><stop offset="0.4449" stop-color="#ffb500"/><stop offset="0.5269" stop-color="#ff8f00"/><stop offset="0.5971" stop-color="#ff7500"/><stop offset="0.6791" stop-color="#ff5e00"/><stop offset="0.7259" stop-color="#ff5400"/><stop offset="0.8313" stop-color="#ff4600"/><stop offset="1" stop-color="#ff4600"/></linearGradient>
<linearGradient id="s146" gradientUnits="userSpaceOnUse" x1="0" y1="307.65" x2="0" y2="389.517"><stop offset="0" stop-color="#4dffb2"/><stop offset="0.0489" stop-color="#4dffb2"/><stop offset="0.0977" stop-color="#7cff83"/><stop offset="0.1099" stop-color="#84ff7b"/><stop offset="0.3298" stop-color="#feff01"/><stop offset="0.4642" stop-color="#ffbb00"/><stop offset="0.5497" stop-color="#ff9600"/><stop offset="0.623" stop-color="#ff7a00"/><stop offset="0.7573" stop-color="#ff5b00"/><stop offset="0.8673" stop-color="#ff4f00"/><stop offset="1.0016" stop-color="#ff4f00"/></linearGradient>
<linearGradient id="s147" gradientUnits="userSpaceOnUse" x1="0" y1="307.576" x2="0" y2="385.958"><stop offset="0" stop-color="#4dffb2"/><stop offset="0.051" stop-color="#4dffb2"/><stop offset="0.1021" stop-color="#7aff85"/><stop offset="0.1148" stop-color="#83ff7c"/><stop offset="0.3572" stop-color="#feff01"/><stop offset="0.4976" stop-color="#ffbb00"/><stop offset="0.6507" stop-color="#ff8100"/><stop offset="0.791" stop-color="#ff6200"/><stop offset="0.9058" stop-color="#ff5900"/><stop offset="1" stop-color="#ff5900"/></linearGradient>
<linearGradient id="s148" gradientUnits="userSpaceOnUse" x1="0" y1="307.501" x2="0" y2="382.615"><stop offset="0" stop-color="#4dffb2"/><stop offset="0.0533" stop-color="#4dffb2"/><stop offset="0.1198" stop-color="#82ff7d"/><stop offset="0.3861" stop-color="#fffe00"/><stop offset="0.5192" stop-color="#ffc000"/><stop offset="0.679" stop-color="#ff8800"/><stop offset="0.7855" stop-color="#ff7200"/><stop offset="0.8254" stop-color="#ff6c00"/><stop offset="0.9452" stop-color="#ff6500"/><stop offset="1" stop-color="#ff6400"/></linearGradient>
<linearGradient id="s149" gradientUnits="userSpaceOnUse" x1="0" y1="307.427" x2="0" y2="379.538"><stop offset="0" stop-color="#4dffb2"/><stop offset="0.0555" stop-color="#4dffb2"/><stop offset="0.1248" stop-color="#80ff7f"/><stop offset="0.4022" stop-color="#fcff03"/><stop offset="0.416" stop-color="#fffc00"/><stop offset="0.527" stop-color="#ffcc00"/><stop offset="0.5824" stop-color="#ffb600"/><stop offset="0.7072" stop-color="#ff9000"/><stop offset="0.7627" stop-color="#ff8300"/><stop offset="0.832" stop-color="#ff7700"/><stop offset="1" stop-color="#ff7000"/></linearGradient>
<linearGradient id="s150" gradientUnits="userSpaceOnUse" x1="0" y1="307.352" x2="0" y2="376.513"><stop offset="0" stop-color="#4dffb2"/><stop offset="0.0578" stop-color="#4dffb2"/><stop offset="0.0723" stop-color="#55ffaa"/><stop offset="0.1301" stop-color="#7fff80"/><stop offset="0.4338" stop-color="#feff01"/><stop offset="0.6073" stop-color="#ffbb00"/><stop offset="0.7952" stop-color="#ff8a00"/><stop offset="0.8675" stop-color="#ff7f00"/><stop offset="1" stop-color="#ff7c00"/></linearGradient>
<linearGradient id="s151" gradientUnits="userSpaceOnUse" x1="0" y1="307.277" x2="0" y2="373.539"><stop offset="0" stop-color="#4dffb2"/><stop offset="0.0604" stop-color="#4dffb2"/><stop offset="0.0755" stop-color="#55ffaa"/><stop offset="0.1358" stop-color="#7dff82"/><stop offset="0.1509" stop-color="#84ff7b"/><stop offset="0.4678" stop-color="#fffe00"/><stop offset="0.6339" stop-color="#ffbf00"/><stop offset="0.83" stop-color="#ff8f00"/><stop offset="0.9055" stop-color="#ff8500"/><stop offset="1" stop-color="#ff8500"/></linearGradient>
<linearGradient id="s152" gradientUnits="userSpaceOnUse" x1="0" y1="307.203" x2="0" y2="371.55"><stop offset="0" stop-color="#4dffb2"/><stop offset="0.0622" stop-color="#4dffb2"/><stop offset="0.0777" stop-color="#55ffaa"/><stop offset="0.1399" stop-color="#7dff82"/><stop offset="0.1554" stop-color="#84ff7b"/><stop offset="0.4818" stop-color="#feff01"/><stop offset="0.6527" stop-color="#ffc200"/><stop offset="0.6993" stop-color="#ffb500"/><stop offset="0.8547" stop-color="#ff9100"/><stop offset="0.9169" stop-color="#ff8600"/><stop offset="1" stop-color="#ff8500"/></linearGradient>
<linearGradient id="s153" gradientUnits="userSpaceOnUse" x1="0" y1="307.128" x2="0" y2="370.264"><stop offset="0" stop-color="#4dffb2"/><stop offset="0.0634" stop-color="#4dffb2"/><stop offset="0.1425" stop-color="#7cff83"/><stop offset="0.1584" stop-color="#83ff7c"/><stop offset="0.491" stop-color="#fcff03"/><stop offset="0.5068" stop-color="#fffc00"/><stop offset="0.6652" stop-color="#ffc400"/><stop offset="0.7127" stop-color="#ffb600"/><stop offset="0.9345" stop-color="#ff8500"/><stop offset="1" stop-color="#ff8500"/></linearGradient>
<linearGradient id="s154" gradientUnits="userSpaceOnUse" x1="0" y1="307.054" x2="0" y2="370.666"><stop offset="0" stop-color="#4dffb2"/><stop offset="0.0629" stop-color="#4dffb2"/><stop offset="0.1415" stop-color="#7bff84"/><stop offset="0.1572" stop-color="#83ff7c"/><stop offset="0.503" stop-color="#fffe00"/><stop offset="0.7074" stop-color="#ffb700"/><stop offset="0.9275" stop-color="#ff8500"/><stop offset="1.0061" stop-color="#ff8500"/></linearGradient>
<linearGradient id="s155" gradientUnits="userSpaceOnUse" x1="0" y1="306.979" x2="0" y2="371.392"><stop offset="0" stop-color="#4dffb2"/><stop offset="0.0621" stop-color="#4dffb2"/><stop offset="0.1552" stop-color="#82ff7d"/><stop offset="0.4968" stop-color="#ffff00"/><stop offset="0.6986" stop-color="#ffb800"/><stop offset="0.916" stop-color="#ff8500"/><stop offset="1" stop-color="#ff8400"/></linearGradient>
<linearGradient id="s156" gradientUnits="userSpaceOnUse" x1="0" y1="306.905" x2="0" y2="372.118"><stop offset="0" stop-color="#4cffb3"/><stop offset="0.0613" stop-color="#4dffb2"/><stop offset="0.1533" stop-color="#81ff7e"/><stop offset="0.4907" stop-color="#feff01"/><stop offset="0.69" stop-color="#ffba00"/><stop offset="0.7207" stop-color="#ffb200"/><stop offset="0.9047" stop-color="#ff8800"/><stop offset="1" stop-color="#ff8300"/></linearGradient>
<linearGradient id="s157" gradientUnits="userSpaceOnUse" x1="0" y1="306.83" x2="0" y2="372.985"><stop offset="0" stop-color="#4dffb2"/><stop offset="0.0605" stop-color="#4dffb2"/><stop offset="0.1512" stop-color="#80ff7f"/><stop offset="0.4837" stop-color="#feff01"/><stop offset="0.6802" stop-color="#ffbb00"/><stop offset="0.7256" stop-color="#ffaf00"/><stop offset="0.8918" stop-color="#ff8a00"/><stop offset="1" stop-color="#ff8200"/></linearGradient>
<linearGradient id="s158" gradientUnits="userSpaceOnUse" x1="0" y1="306.755" x2="0" y2="373.898"><stop offset="0" stop-color="#4cffb3"/><stop offset="0.0596" stop-color="#4dffb2"/><stop offset="0.1489" stop-color="#7fff80"/><stop offset="0.4766" stop-color="#feff01"/><stop offset="0.6702" stop-color="#ffbd00"/><stop offset="0.7149" stop-color="#ffb000"/><stop offset="0.8787" stop-color="#ff8c00"/><stop offset="0.9383" stop-color="#ff8400"/><stop offset="1" stop-color="#ff8200"/></linearGradient>
<linearGradient id="s159" gradientUnits="userSpaceOnUse" x1="0" y1="306.681" x2="0" y2="374.811"><stop offset="0" stop-color="#4dffb2"/><stop offset="0.0587" stop-color="#4dffb2"/><stop offset="0.1468" stop-color="#7eff81"/><stop offset="0.4697" stop-color="#fdff02"/><stop offset="0.4844" stop-color="#fffc00"/><stop offset="0.7045" stop-color="#ffb100"/><stop offset="0.8807" stop-color="#ff8b00"/><stop offset="0.9541" stop-color="#ff8100"/><stop offset="1" stop-color="#ff8100"/></linearGradient>
<linearGradient id="s160" gradientUnits="userSpaceOnUse" x1="0" y1="306.606" x2="0" y2="375.724"><stop offset="0" stop-color="#4dffb2"/><stop offset="0.0579" stop-color="#4dffb2"/><stop offset="0.1591" stop-color="#84ff7b"/><stop offset="0.463" stop-color="#fdff02"/><stop offset="0.4774" stop-color="#fffc00"/><stop offset="0.6945" stop-color="#ffb100"/><stop offset="0.9115" stop-color="#ff8400"/><stop offset="0.9549" stop-color="#ff8000"/><stop offset="1" stop-color="#ff8000"/></linearGradient>
<linearGradient id="s161" gradientUnits="userSpaceOnUse" x1="0" y1="306.6" x2="0" y2="375.8"><stop offset="0" stop-color="#4dffb2"/><stop offset="0.0578" stop-color="#4dffb2"/><stop offset="0.159" stop-color="#84ff7b"/><stop offset="0.4624" stop-color="#fdff02"/><stop offset="0.4769" stop-color="#fffc00"/><stop offset="0.6936" stop-color="#ffb200"/><stop offset="0.9104" stop-color="#ff8400"/><stop offset="0.9538" stop-color="#ff8000"/><stop offset="1" stop-color="#ff8000"/></linearGradient>
<linearGradient id="s162" gradientUnits="userSpaceOnUse" x1="0" y1="306.6" x2="0" y2="375.8"><stop offset="0" stop-color="#4dffb2"/><stop offset="0.0578" stop-color="#4dffb2"/><stop offset="0.159" stop-color="#84ff7b"/><stop offset="0.4624" stop-color="#fdff02"/><stop offset="0.4769" stop-color="#fffc00"/><stop offset="0.6936" stop-color="#ffb200"/><stop offset="0.9104" stop-color="#ff8400"/><stop offset="0.9538" stop-color="#ff8000"/><stop offset="1" stop-color="#ff8000"/></linearGradient>
<linearGradient id="s163" gradientUnits="userSpaceOnUse" x1="0" y1="306.6" x2="0" y2="375.8"><stop offset="0" stop-color="#4dffb2"/><stop offset="0.0578" stop-color="#4dffb2"/><stop offset="0.159" stop-color="#84ff7b"/><stop offset="0.4624" stop-color="#fdff02"/><stop offset="0.4769" stop-color="#fffc00"/><stop offset="0.6936" stop-color="#ffb200"/><stop offset="0.9104" stop-color="#ff8400"/><stop offset="0.9538" stop-color="#ff8000"/><stop offset="1" stop-color="#ff8000"/></linearGradient>
<filter id="f164" filterUnits="userSpaceOnUse" x="53.5" y="230" width="560" height="184" color-interpolation-filters="sRGB"><feGaussianBlur stdDeviation="3 0"/></filter>
<linearGradient id="s165" gradientUnits="userSpaceOnUse" x1="0" y1="184" x2="0" y2="330"><stop offset="0" stop-color="#000080"/><stop offset="0.0137" stop-color="#000080"/><stop offset="0.1096" stop-color="#0000c7"/><stop offset="0.1918" stop-color="#0000ff"/><stop offset="0.2808" stop-color="#001fff"/><stop offset="0.411" stop-color="#003bff"/><stop offset="0.5" stop-color="#002eff"/><stop offset="0.7055" stop-color="#0070ff"/><stop offset="1" stop-color="#0065ff"/></linearGradient>
<linearGradient id="s166" gradientUnits="userSpaceOnUse" x1="0" y1="184" x2="0" y2="330"><stop offset="0" stop-color="#000080"/><stop offset="0.0137" stop-color="#000080"/><stop offset="0.1096" stop-color="#0000c7"/><stop offset="0.1918" stop-color="#0000ff"/><stop offset="0.2808" stop-color="#001fff"/><stop offset="0.411" stop-color="#003bff"/><stop offset="0.5" stop-color="#002eff"/><stop offset="0.7055" stop-color="#0070ff"/><stop offset="1" stop-color="#0065ff"/></linearGradient>
<linearGradient id="s167" gradientUnits="userSpaceOnUse" x1="0" y1="184" x2="0" y2="330"><stop offset="0" stop-color="#000080"/><stop offset="0.0137" stop-color="#000080"/><stop offset="0.1096" stop-color="#0000c7"/><stop offset="0.1918" stop-color="#0000ff"/><stop offset="0.2808" stop-color="#001fff"/><stop offset="0.411" stop-color="#003bff"/><stop offset="0.5" stop-color="#002eff"/><stop offset="0.7055" stop-color="#0070ff"/><stop offset="1" stop-color="#0065ff"/></linearGradient>
<linearGradient id="s168" gradientUnits="userSpaceOnUse" x1="0" y1="184" x2="0" y2="330"><stop offset="0" stop-color="#000080"/><stop offset="0.0137" stop-color="#000080"/><stop offset="0.1096" stop-color="#0000c7"/><stop offset="0.1918" stop-color="#0000ff"/><stop offset="0.2808" stop-color="#001fff"/><stop offset="0.411" stop-color="#003bff"/><stop offset="0.5" stop-color="#002eff"/><stop offset="0.7055" stop-color="#0070ff"/><stop offset="1" stop-color="#0065ff"/></linearGradient>
<linearGradient id="s169" gradientUnits="userSpaceOnUse" x1="0" y1="184" x2="0" y2="330"><stop offset="0" stop-color="#000080"/><stop offset="0.0137" stop-color="#000080"/><stop offset="0.1096" stop-color="#0000c7"/><stop offset="0.1918" stop-color="#0000ff"/><stop offset="0.2808" stop-color="#001fff"/><stop offset="0.411" stop-color="#003bff"/><stop offset="0.5" stop-color="#002eff"/><stop offset="0.7055" stop-color="#0070ff"/><stop offset="1" stop-color="#0065ff"/></linearGradient>
<linearGradient id="s170" gradientUnits="userSpaceOnUse" x1="0" y1="184" x2="0" y2="330"><stop offset="0" stop-color="#000080"/><stop offset="0.0137" stop-color="#000080"/><stop offset="0.1096" stop-color="#0000c7"/><stop offset="0.1918" stop-color="#0000ff"/><stop offset="0.2808" stop-color="#001fff"/><stop offset="0.411" stop-color="#003bff"/><stop offset="0.5" stop-color="#002eff"/><stop offset="0.7055" stop-color="#0070ff"/><stop offset="1" stop-color="#0065ff"/></linearGradient>
<linearGradient id="s171" gradientUnits="userSpaceOnUse" x1="0" y1="184" x2="0" y2="330"><stop offset="0" stop-color="#000080"/><stop offset="0.0137" stop-color="#000080"/><stop offset="0.1096" stop-color="#0000c7"/><stop offset="0.1918" stop-color="#0000ff"/><stop offset="0.2808" stop-color="#001fff"/><stop offset="0.411" stop-color="#003bff"/><stop offset="0.5" stop-color="#002eff"/><stop offset="0.7055" stop-color="#0070ff"/><stop offset="1" stop-color="#0065ff"/></linearGradient>
<linearGradient id="s172" gradientUnits="userSpaceOnUse" x1="0" y1="184" x2="0" y2="330"><stop offset="0" stop-color="#000080"/><stop offset="0.0137" stop-color="#000080"/><stop offset="0.1096" stop-color="#0000c7"/><stop offset="0.1918" stop-color="#0000ff"/><stop offset="0.2808" stop-color="#001fff"/><stop offset="0.411" stop-color="#003bff"/><stop offset="0.5" stop-color="#002eff"/><stop offset="0.7055" stop-color="#0070ff"/><stop offset="1" stop-color="#0065ff"/></linearGradient>
<linearGradient id="s173" gradientUnits="userSpaceOnUse" x1="0" y1="184" x2="0" y2="330"><stop offset="0" stop-color="#000080"/><stop offset="0.0137" stop-color="#000080"/><stop offset="0.1096" stop-color="#0000c7"/><stop offset="0.1918" stop-color="#0000ff"/><stop offset="0.2808" stop-color="#001fff"/><stop offset="0.411" stop-color="#003bff"/><stop offset="0.5" stop-color="#002eff"/><stop offset="0.7055" stop-color="#0070ff"/><stop offset="1" stop-color="#0065ff"/></linearGradient>
<linearGradient id="s174" gradientUnits="userSpaceOnUse" x1="0" y1="184" x2="0" y2="330"><stop offset="0" stop-color="#000080"/><stop offset="0.0137" stop-color="#000080"/><stop offset="0.1096" stop-color="#0000c7"/><stop offset="0.1918" stop-color="#0000ff"/><stop offset="0.2808" stop-color="#001fff"/><stop offset="0.411" stop-color="#003bff"/><stop offset="0.5" stop-color="#002eff"/><stop offset="0.7055" stop-color="#0070ff"/><stop offset="1" stop-color="#0065ff"/></linearGradient>
<linearGradient id="s175" gradientUnits="userSpaceOnUse" x1="0" y1="184" x2="0" y2="330"><stop offset="0" stop-color="#000080"/><stop offset="0.0137" stop-color="#000080"/><stop offset="0.1096" stop-color="#0000c7"/><stop offset="0.1918" stop-color="#0000ff"/><stop offset="0.2808" stop-color="#001fff"/><stop offset="0.411" stop-color="#003bff"/><stop offset="0.5" stop-color="#002eff"/><stop offset="0.7055" stop-color="#0070ff"/><stop offset="1" stop-color="#0065ff"/></linearGradient>
<linearGradient id="s176" gradientUnits="userSpaceOnUse" x1="0" y1="184" x2="0" y2="330"><stop offset="0" stop-color="#000080"/><stop offset="0.0137" stop-color="#000080"/><stop offset="0.1096" stop-color="#0000c7"/><stop offset="0.1918" stop-color="#0000ff"/><stop offset="0.2808" stop-color="#001fff"/><stop offset="0.411" stop-color="#003bff"/><stop offset="0.5" stop-color="#002eff"/><stop offset="0.7055" stop-color="#0070ff"/><stop offset="1" stop-color="#0065ff"/></linearGradient>
<linearGradient id="s177" gradientUnits="userSpaceOnUse" x1="0" y1="184" x2="0" y2="330"><stop offset="0" stop-color="#000080"/><stop offset="0.0137" stop-color="#000080"/><stop offset="0.1096" stop-color="#0000c7"/><stop offset="0.1918" stop-color="#0000ff"/><stop offset="0.2808" stop-color="#001eff"/><stop offset="0.411" stop-color="#003bff"/><stop offset="0.5" stop-color="#002eff"/><stop offset="0.7055" stop-color="#0070ff"/><stop offset="1" stop-color="#0065ff"/></linearGradient>
<linearGradient id="s178" gradientUnits="userSpaceOnUse" x1="0" y1="184" x2="0" y2="330"><stop offset="0" stop-color="#000080"/><stop offset="0.0137" stop-color="#000080"/><stop offset="0.1096" stop-color="#0000c6"/><stop offset="0.1918" stop-color="#0000fe"/><stop offset="0.1986" stop-color="#0001ff"/><stop offset="0.2808" stop-color="#001dff"/><stop offset="0.411" stop-color="#0038ff"/><stop offset="0.5" stop-color="#002dff"/><stop offset="0.7055" stop-color="#006dff"/><stop offset="0.7945" stop-color="#006bff"/><stop offset="1" stop-color="#0064ff"/></linearGradient>
<linearGradient id="s179" gradientUnits="userSpaceOnUse" x1="0" y1="184" x2="0" y2="330"><stop offset="0" stop-color="#000080"/><stop offset="0.0137" stop-color="#000080"/><stop offset="0.1096" stop-color="#0000c4"/><stop offset="0.1918" stop-color="#0000fc"/><stop offset="0.1986" stop-color="#0000ff"/><stop offset="0.2808" stop-color="#001bff"/><stop offset="0.411" stop-color="#0035ff"/><stop offset="0.5" stop-color="#002bff"/><stop offset="0.7055" stop-color="#006aff"/><stop offset="0.7945" stop-color="#006aff"/><stop offset="1" stop-color="#0064ff"/></linearGradient>
<linearGradient id="s180" gradientUnits="userSpaceOnUse" x1="0" y1="184" x2="0" y2="330"><stop offset="0" stop-color="#000080"/><stop offset="0.0137" stop-color="#000080"/><stop offset="0.1918" stop-color="#0000fb"/><stop offset="0.2055" stop-color="#0001ff"/><stop offset="0.2808" stop-color="#0019ff"/><stop offset="0.411" stop-color="#0032ff"/><stop offset="0.5" stop-color="#002aff"/><stop offset="0.7055" stop-color="#0067ff"/><stop offset="0.7945" stop-color="#0069ff"/><stop offset="1" stop-color="#0063ff"/></linearGradient>
<linearGradient id="s181" gradientUnits="userSpaceOnUse" x1="0" y1="184" x2="0" y2="330"><stop offset="0" stop-color="#000080"/><stop offset="0.0137" stop-color="#000080"/><stop offset="0.1918" stop-color="#0000fa"/><stop offset="0.2055" stop-color="#0000fe"/><stop offset="0.2808" stop-color="#0017ff"/><stop offset="0.411" stop-color="#0030ff"/><stop offset="0.5" stop-color="#0029ff"/><stop offset="0.7055" stop-color="#0064ff"/><stop offset="0.7945" stop-color="#0067ff"/><stop offset="1" stop-color="#0063ff"/></linearGradient>
<linearGradient id="s182" gradientUnits="userSpaceOnUse" x1="0" y1="184" x2="0" y2="330"><stop offset="0" stop-color="#000080"/><stop offset="0.0137" stop-color="#000080"/><stop offset="0.0411" stop-color="#000091"/><stop offset="0.1918" stop-color="#0000f9"/><stop offset="0.2123" stop-color="#0000ff"/><stop offset="0.2808" stop-color="#0015ff"/><stop offset="0.411" stop-color="#002dff"/><stop offset="0.5" stop-color="#0028ff"/><stop offset="0.7055" stop-color="#0061ff"/><stop offset="0.7945" stop-color="#0066ff"/><stop offset="1" stop-color="#0062ff"/></linearGradient>
<linearGradient id="s183" gradientUnits="userSpaceOnUse" x1="0" y1="184" x2="0" y2="330"><stop offset="0" stop-color="#000080"/><stop offset="0.0137" stop-color="#000080"/><stop offset="0.0411" stop-color="#000090"/><stop offset="0.1918" stop-color="#0000f8"/><stop offset="0.2192" stop-color="#0001ff"/><stop offset="0.2808" stop-color="#0013ff"/><stop offset="0.411" stop-color="#002aff"/><stop offset="0.5" stop-color="#0026ff"/><stop offset="0.7055" stop-color="#005dff"/><stop offset="0.7945" stop-color="#0064ff"/><stop offset="1" stop-color="#0062ff"/></linearGradient>
<linearGradient id="s184" gradientUnits="userSpaceOnUse" x1="0" y1="184" x2="0" y2="330"><stop offset="0" stop-color="#000080"/><stop offset="0.0137" stop-color="#000080"/><stop offset="0.0411" stop-color="#000090"/><stop offset="0.1918" stop-color="#0000f6"/><stop offset="0.2192" stop-color="#0000fe"/><stop offset="0.2808" stop-color="#0012ff"/><stop offset="0.411" stop-color="#0027ff"/><stop offset="0.5" stop-color="#0025ff"/><stop offset="0.7055" stop-color="#005aff"/><stop offset="0.7945" stop-color="#0063ff"/><stop offset="1" stop-color="#0061ff"/></linearGradient>
<linearGradient id="s185" gradientUnits="userSpaceOnUse" x1="0" y1="184" x2="0" y2="330"><stop offset="0" stop-color="#000080"/><stop offset="0.0137" stop-color="#000080"/><stop offset="0.0411" stop-color="#00008f"/><stop offset="0.1918" stop-color="#0000f5"/><stop offset="0.226" stop-color="#0000ff"/><stop offset="0.2808" stop-color="#0010ff"/><stop offset="0.411" stop-color="#0024ff"/><stop offset="0.5" stop-color="#0024ff"/><stop offset="0.7055" stop-color="#0057ff"/><stop offset="0.7945" stop-color="#0061ff"/><stop offset="1" stop-color="#0061ff"/></linearGradient>
<linearGradient id="s186" gradientUnits="userSpaceOnUse" x1="0" y1="184" x2="0" y2="330"><stop offset="0" stop-color="#000080"/><stop offset="0.0137" stop-color="#000080"/><stop offset="0.0411" stop-color="#00008e"/><stop offset="0.1918" stop-color="#0000f3"/><stop offset="0.2329" stop-color="#0000ff"/><stop offset="0.2808" stop-color="#000eff"/><stop offset="0.411" stop-color="#0022ff"/><stop offset="0.5" stop-color="#0023ff"/><stop offset="0.7055" stop-color="#0056ff"/><stop offset="0.7945" stop-color="#0061ff"/><stop offset="1" stop-color="#0062ff"/></linearGradient>
<linearGradient id="s187" gradientUnits="userSpaceOnUse" x1="0" y1="184" x2="0" y2="330"><stop offset="0" stop-color="#000080"/><stop offset="0.0137" stop-color="#000080"/><stop offset="0.0411" stop-color="#00008e"/><stop offset="0.1918" stop-color="#0000f2"/><stop offset="0.2397" stop-color="#0001ff"/><stop offset="0.2808" stop-color="#000dff"/><stop offset="0.411" stop-color="#0020ff"/><stop offset="0.5" stop-color="#0022ff"/><stop offset="0.6027" stop-color="#003aff"/><stop offset="0.7055" stop-color="#0055ff"/><stop offset="0.7945" stop-color="#0062ff"/><stop offset="1" stop-color="#0063ff"/></linearGradient>
<linearGradient id="s188" gradientUnits="userSpaceOnUse" x1="0" y1="184" x2="0" y2="330"><stop offset="0" stop-color="#000080"/><stop offset="0.0137" stop-color="#000080"/><stop offset="0.0411" stop-color="#00008d"/><stop offset="0.1918" stop-color="#0000f0"/><stop offset="0.2397" stop-color="#0000fe"/><stop offset="0.2808" stop-color="#000cff"/><stop offset="0.411" stop-color="#001fff"/><stop offset="0.5" stop-color="#0020ff"/><stop offset="0.6027" stop-color="#0038ff"/><stop offset="0.7055" stop-color="#0053ff"/><stop offset="0.7945" stop-color="#0063ff"/><stop offset="1" stop-color="#0064ff"/></linearGradient>
<linearGradient id="s189" gradientUnits="userSpaceOnUse" x1="0" y1="184" x2="0" y2="330"><stop offset="0" stop-color="#000080"/><stop offset="0.0137" stop-color="#000080"/><stop offset="0.0411" stop-color="#00008c"/><stop offset="0.1918" stop-color="#0000ee"/><stop offset="0.2466" stop-color="#0000ff"/><stop offset="0.2808" stop-color="#000bff"/><stop offset="0.411" stop-color="#001dff"/><stop offset="0.5" stop-color="#001fff"/><stop offset="0.6027" stop-color="#0036ff"/><stop offset="0.7055" stop-color="#0052ff"/><stop offset="0.7945" stop-color="#0063ff"/><stop offset="1" stop-color="#0066ff"/></linearGradient>
<linearGradient id="s190" gradientUnits="userSpaceOnUse" x1="0" y1="184" x2="0" y2="330"><stop offset="0" stop-color="#000080"/><stop offset="0.0137" stop-color="#000080"/><stop offset="0.0411" stop-color="#00008c"/><stop offset="0.1918" stop-color="#0000ec"/><stop offset="0.2534" stop-color="#0001ff"/><stop offset="0.2808" stop-color="#0009ff"/><stop offset="0.411" stop-color="#001bff"/><stop offset="0.5" stop-color="#001eff"/><stop offset="0.6027" stop-color="#0034ff"/><stop offset="0.7055" stop-color="#0051ff"/><stop offset="0.7945" stop-color="#0064ff"/><stop offset="1" stop-color="#0067ff"/></linearGradient>
<linearGradient id="s191" gradientUnits="userSpaceOnUse" x1="0" y1="184" x2="0" y2="330"><stop offset="0" stop-color="#000080"/><stop offset="0.0137" stop-color="#000080"/><stop offset="0.0411" stop-color="#00008b"/><stop offset="0.1918" stop-color="#0000ea"/><stop offset="0.2534" stop-color="#0000fe"/><stop offset="0.2808" stop-color="#0008ff"/><stop offset="0.411" stop-color="#0019ff"/><stop offset="0.5" stop-color="#001dff"/><stop offset="0.6027" stop-color="#0033ff"/><stop offset="0.7055" stop-color="#0050ff"/><stop offset="0.7945" stop-color="#0064ff"/><stop offset="1" stop-color="#0068ff"/></linearGradient>
<linearGradient id="s192" gradientUnits="userSpaceOnUse" x1="0" y1="184" x2="0" y2="330"><stop offset="0" stop-color="#000080"/><stop offset="0.0137" stop-color="#000080"/><stop offset="0.0411" stop-color="#00008b"/><stop offset="0.1918" stop-color="#0000e8"/><stop offset="0.2603" stop-color="#0000ff"/><stop offset="0.2808" stop-color="#0007ff"/><stop offset="0.411" stop-color="#0017ff"/><stop offset="0.5" stop-color="#001bff"/><stop offset="0.6027" stop-color="#0031ff"/><stop offset="0.7055" stop-color="#004eff"/><stop offset="0.7945" stop-color="#0065ff"/><stop offset="1" stop-color="#0069ff"/></linearGradient>
<linearGradient id="s193" gradientUnits="userSpaceOnUse" x1="0" y1="184" x2="0" y2="330"><stop offset="0" stop-color="#000080"/><stop offset="0.0137" stop-color="#000080"/><stop offset="0.0411" stop-color="#00008a"/><stop offset="0.1918" stop-color="#0000e6"/><stop offset="0.2603" stop-color="#0000fe"/><stop offset="0.2671" stop-color="#0001ff"/><stop offset="0.2808" stop-color="#0006ff"/><stop offset="0.411" stop-color="#0015ff"/><stop offset="0.5" stop-color="#001aff"/><stop offset="0.6027" stop-color="#002fff"/><stop offset="0.7945" stop-color="#0066ff"/><stop offset="1" stop-color="#006aff"/></linearGradient>
<linearGradient id="s194" gradientUnits="userSpaceOnUse" x1="0" y1="184" x2="0" y2="330"><stop offset="0" stop-color="#000080"/><stop offset="0.0137" stop-color="#000080"/><stop offset="0.0411" stop-color="#00008a"/><stop offset="0.1096" stop-color="#0000b3"/><stop offset="0.1918" stop-color="#0000e6"/><stop offset="0.2671" stop-color="#0001ff"/><stop offset="0.2808" stop-color="#0005ff"/><stop offset="0.411" stop-color="#0015ff"/><stop offset="0.5" stop-color="#001bff"/><stop offset="0.6027" stop-color="#002fff"/><stop offset="0.7945" stop-color="#0066ff"/><stop offset="1" stop-color="#006bff"/></linearGradient>
<linearGradient id="s195" gradientUnits="userSpaceOnUse" x1="0" y1="184" x2="0" y2="330"><stop offset="0" stop-color="#000080"/><stop offset="0.0137" stop-color="#000080"/><stop offset="0.0411" stop-color="#00008a"/><stop offset="0.1096" stop-color="#0000b3"/><stop offset="0.1918" stop-color="#0000e8"/><stop offset="0.2603" stop-color="#0000fe"/><stop offset="0.2808" stop-color="#0006ff"/><stop offset="0.411" stop-color="#0017ff"/><stop offset="0.5" stop-color="#001eff"/><stop offset="0.6027" stop-color="#0032ff"/><stop offset="0.7055" stop-color="#0050ff"/><stop offset="0.7945" stop-color="#0066ff"/><stop offset="1" stop-color="#006bff"/></linearGradient>
<linearGradient id="s196" gradientUnits="userSpaceOnUse" x1="0" y1="184" x2="0" y2="330"><stop offset="0" stop-color="#000080"/><stop offset="0.0137" stop-color="#000080"/><stop offset="0.0411" stop-color="#00008a"/><stop offset="0.1096" stop-color="#0000b4"/><stop offset="0.1918" stop-color="#0000ea"/><stop offset="0.2603" stop-color="#0000ff"/><stop offset="0.2808" stop-color="#0007ff"/><stop offset="0.363" stop-color="#0012ff"/><stop offset="0.411" stop-color="#0018ff"/><stop offset="0.5" stop-color="#0021ff"/><stop offset="0.6027" stop-color="#0036ff"/><stop offset="0.7055" stop-color="#0053ff"/><stop offset="0.7945" stop-color="#0067ff"/><stop offset="1" stop-color="#006bff"/></linearGradient>
<linearGradient id="s197" gradientUnits="userSpaceOnUse" x1="0" y1="184" x2="0" y2="330"><stop offset="0" stop-color="#000080"/><stop offset="0.0137" stop-color="#000080"/><stop offset="0.0411" stop-color="#00008a"/><stop offset="0.1096" stop-color="#0000b5"/><stop offset="0.1918" stop-color="#0000ec"/><stop offset="0.2534" stop-color="#0000fe"/><stop offset="0.2603" stop-color="#0001ff"/><stop offset="0.2808" stop-color="#0007ff"/><stop offset="0.363" stop-color="#0013ff"/><stop offset="0.5" stop-color="#0024ff"/><stop offset="0.6027" stop-color="#0039ff"/><stop offset="0.7055" stop-color="#0055ff"/><stop offset="0.7945" stop-color="#0067ff"/><stop offset="1" stop-color="#006bff"/></linearGradient>
<linearGradient id="s198" gradientUnits="userSpaceOnUse" x1="0" y1="184" x2="0" y2="330"><stop offset="0" stop-color="#000080"/><stop offset="0.0137" stop-color="#000080"/><stop offset="0.0411" stop-color="#00008a"/><stop offset="0.1096" stop-color="#0000b5"/><stop offset="0.1918" stop-color="#0000ee"/><stop offset="0.2534" stop-color="#0000ff"/><stop offset="0.2808" stop-color="#0008ff"/><stop offset="0.411" stop-color="#001cff"/><stop offset="0.5" stop-color="#0026ff"/><stop offset="0.6027" stop-color="#003cff"/><stop offset="0.7055" stop-color="#0057ff"/><stop offset="0.7945" stop-color="#0067ff"/><stop offset="1" stop-color="#006bff"/></linearGradient>
<linearGradient id="s199" gradientUnits="userSpaceOnUse" x1="0" y1="184" x2="0" y2="330"><stop offset="0" stop-color="#000080"/><stop offset="0.0137" stop-color="#000080"/><stop offset="0.0411" stop-color="#00008a"/><stop offset="0.1096" stop-color="#0000b6"/><stop offset="0.1918" stop-color="#0000f0"/><stop offset="0.2466" stop-color="#0000fe"/><stop offset="0.2808" stop-color="#0008ff"/><stop offset="0.411" stop-color="#001dff"/><stop offset="0.5" stop-color="#0029ff"/><stop offset="0.6027" stop-color="#003fff"/><stop offset="0.7055" stop-color="#005aff"/><stop offset="0.7945" stop-color="#0067ff"/><stop offset="1" stop-color="#006bff"/></linearGradient>
<linearGradient id="s200" gradientUnits="userSpaceOnUse" x1="0" y1="184" x2="0" y2="330"><stop offset="0" stop-color="#000080"/><stop offset="0.0137" stop-color="#000080"/><stop offset="0.0411" stop-color="#00008a"/><stop offset="0.1096" stop-color="#0000b6"/><stop offset="0.1918" stop-color="#0000f1"/><stop offset="0.2466" stop-color="#0000ff"/><stop offset="0.2808" stop-color="#0009ff"/><stop offset="0.5342" stop-color="#0033ff"/><stop offset="0.6027" stop-color="#0042ff"/><stop offset="0.7055" stop-color="#005cff"/><stop offset="0.8082" stop-color="#0068ff"/><stop offset="1" stop-color="#006bff"/></linearGradient>
<linearGradient id="s201" gradientUnits="userSpaceOnUse" x1="0" y1="184" x2="0" y2="330"><stop offset="0" stop-color="#000080"/><stop offset="0.0137" stop-color="#000080"/><stop offset="0.0411" stop-color="#00008a"/><stop offset="0.1096" stop-color="#0000b7"/><stop offset="0.1918" stop-color="#0000f3"/><stop offset="0.2397" stop-color="#0000ff"/><stop offset="0.2808" stop-color="#000aff"/><stop offset="0.5342" stop-color="#0036ff"/><stop offset="0.6233" stop-color="#004aff"/><stop offset="0.7055" stop-color="#005fff"/><stop offset="0.8082" stop-color="#0069ff"/><stop offset="1" stop-color="#006bff"/></linearGradient>
<linearGradient id="s202" gradientUnits="userSpaceOnUse" x1="0" y1="184" x2="0" y2="330"><stop offset="0" stop-color="#000080"/><stop offset="0.0137" stop-color="#000080"/><stop offset="0.0411" stop-color="#00008a"/><stop offset="0.1096" stop-color="#0000b8"/><stop offset="0.1918" stop-color="#0000f5"/><stop offset="0.2329" stop-color="#0000fe"/><stop offset="0.3014" stop-color="#000eff"/><stop offset="0.5342" stop-color="#0038ff"/><stop offset="0.7055" stop-color="#0061ff"/><stop offset="0.8082" stop-color="#0069ff"/><stop offset="1" stop-color="#006bff"/></linearGradient>
<linearGradient id="s203" gradientUnits="userSpaceOnUse" x1="0" y1="184" x2="0" y2="330"><stop offset="0" stop-color="#000080"/><stop offset="0.0137" stop-color="#000080"/><stop offset="0.0411" stop-color="#00008a"/><stop offset="0.1096" stop-color="#0000b8"/><stop offset="0.1918" stop-color="#0000f5"/><stop offset="0.2329" stop-color="#0000fe"/><stop offset="0.3014" stop-color="#000eff"/><stop offset="0.5342" stop-color="#0038ff"/><stop offset="0.7055" stop-color="#0061ff"/><stop offset="0.8082" stop-color="#0069ff"/><stop offset="1" stop-color="#006bff"/></linearGradient>
<linearGradient id="s204" gradientUnits="userSpaceOnUse" x1="0" y1="184" x2="0" y2="330"><stop offset="0" stop-color="#000080"/><stop offset="0.0137" stop-color="#000080"/><stop offset="0.0411" stop-color="#00008a"/><stop offset="0.1096" stop-color="#0000b8"/><stop offset="0.1918" stop-color="#0000f5"/><stop offset="0.2329" stop-color="#0000fe"/><stop offset="0.3014" stop-color="#000eff"/><stop offset="0.5342" stop-color="#0038ff"/><stop offset="0.7055" stop-color="#0061ff"/><stop offset="0.8082" stop-color="#0069ff"/><stop offset="1" stop-color="#006bff"/></linearGradient>
<linearGradient id="s205" gradientUnits="userSpaceOnUse" x1="0" y1="184" x2="0" y2="330"><stop offset="0" stop-color="#000080"/><stop offset="0.0137" stop-color="#000080"/><stop offset="0.0411" stop-color="#00008a"/><stop offset="0.1096" stop-color="#0000b8"/><stop offset="0.1918" stop-color="#0000f5"/><stop offset="0.2329" stop-color="#0000fe"/><stop offset="0.3014" stop-color="#000eff"/><stop offset="0.5342" stop-color="#0038ff"/><stop offset="0.7055" stop-color="#0061ff"/><stop offset="0.8082" stop-color="#0069ff"/><stop offset="1" stop-color="#006bff"/></linearGradient>
<linearGradient id="s206" gradientUnits="userSpaceOnUse" x1="0" y1="184" x2="0" y2="330"><stop offset="0" stop-color="#000080"/><stop offset="0.0137" stop-color="#000080"/><stop offset="0.0411" stop-color="#00008a"/><stop offset="0.1096" stop-color="#0000b8"/><stop offset="0.1918" stop-color="#0000f5"/><stop offset="0.2329" stop-color="#0000fe"/><stop offset="0.3014" stop-color="#000eff"/><stop offset="0.5342" stop-color="#0038ff"/><stop offset="0.7055" stop-color="#0061ff"/><stop offset="0.8082" stop-color="#0069ff"/><stop offset="1" stop-color="#006bff"/></linearGradient>
<linearGradient id="s207" gradientUnits="userSpaceOnUse" x1="0" y1="184" x2="0" y2="330"><stop offset="0" stop-color="#000080"/><stop offset="0.0137" stop-color="#000080"/><stop offset="0.0411" stop-color="#00008a"/><stop offset="0.1096" stop-color="#0000b8"/><stop offset="0.1918" stop-color="#0000f5"/><stop offset="0.2329" stop-color="#0000fe"/><stop offset="0.3014" stop-color="#000eff"/><stop offset="0.5342" stop-color="#0038ff"/><stop offset="0.7055" stop-color="#0061ff"/><stop offset="0.8082" stop-color="#0069ff"/><stop offset="1" stop-color="#006bff"/></linearGradient>
<linearGradient id="s208" gradientUnits="userSpaceOnUse" x1="0" y1="184" x2="0" y2="330"><stop offset="0" stop-color="#000080"/><stop offset="0.0137" stop-color="#000080"/><stop offset="0.0411" stop-color="#00008a"/><stop offset="0.1096" stop-color="#0000b8"/><stop offset="0.1918" stop-color="#0000f5"/><stop offset="0.2329" stop-color="#0000fe"/><stop offset="0.3014" stop-color="#000eff"/><stop offset="0.5342" stop-color="#0038ff"/><stop offset="0.7055" stop-color="#0061ff"/><stop offset="0.8082" stop-color="#0069ff"/><stop offset="1" stop-color="#006bff"/></linearGradient>
<linearGradient id="s209" gradientUnits="userSpaceOnUse" x1="0" y1="184" x2="0" y2="330"><stop offset="0" stop-color="#000080"/><stop offset="0.0137" stop-color="#000080"/><stop offset="0.0411" stop-color="#00008a"/><stop offset="0.1096" stop-color="#0000b8"/><stop offset="0.1918" stop-color="#0000f5"/><stop offset="0.2329" stop-color="#0000fe"/><stop offset="0.3014" stop-color="#000eff"/><stop offset="0.5342" stop-color="#0038ff"/><stop offset="0.7055" stop-color="#0061ff"/><stop offset="0.8082" stop-color="#0069ff"/><stop offset="1" stop-color="#006bff"/></linearGradient>
<linearGradient id="s210" gradientUnits="userSpaceOnUse" x1="0" y1="184" x2="0" y2="330"><stop offset="0" stop-color="#000080"/><stop offset="0.0137" stop-color="#000080"/><stop offset="0.0411" stop-color="#00008a"/><stop offset="0.1096" stop-color="#0000b8"/><stop offset="0.1918" stop-color="#0000f5"/><stop offset="0.2329" stop-color="#0000fe"/><stop offset="0.3014" stop-color="#000eff"/><stop offset="0.5342" stop-color="#0038ff"/><stop offset="0.7055" stop-color="#0061ff"/><stop offset="0.8082" stop-color="#0069ff"/><stop offset="1" stop-color="#006bff"/></linearGradient>
<linearGradient id="s211" gradientUnits="userSpaceOnUse" x1="0" y1="184" x2="0" y2="330"><stop offset="0" stop-color="#000080"/><stop offset="0.0137" stop-color="#000080"/><stop offset="0.0411" stop-color="#00008a"/><stop offset="0.1096" stop-color="#0000b8"/><stop offset="0.1918" stop-color="#0000f5"/><stop offset="0.2329" stop-color="#0000fe"/><stop offset="0.3014" stop-color="#000eff"/><stop offset="0.5342" stop-color="#0038ff"/><stop offset="0.7055" stop-color="#0061ff"/><stop offset="0.8082" stop-color="#0069ff"/><stop offset="1" stop-color="#006bff"/></linearGradient>
<filter id="f212" filterUnits="userSpaceOnUse" x="41.5" y="174" width="584" height="166" color-interpolation-filters="sRGB"><feGaussianBlur stdDeviation="6 0"/></filter>
<clipPath id="c213"><rect x="76" y="21" width="515.5" height="165.5"/></clipPath>
<clipPath id="c214"><path d="M75.0 20.0 L300.2 20.0 L301.7 27.4 L305.4 34.0 L311.3 37.8 L321.6 40.7 L333.5 43.7 L340.9 46.6 L347.5 48.1 L347.5 50.8 L342.4 51.8 L337.9 53.3 L332.7 54.3 L332.0 57.0 L332.7 59.2 L336.4 60.0 L336.4 61.4 L333.0 63.5 L322.0 70.0 L326.0 82.0 L334.0 100.0 L334.0 118.0 L326.5 125.8 L316.2 126.7 L311.0 130.3 L317.0 132.4 L323.0 134.0 L328.2 135.8 L336.0 140.0 L336.0 159.0 L335.0 162.0 L333.4 166.0 L326.5 169.4 L319.6 174.6 L324.0 179.7 L317.9 185.8 L317.9 188.0 L212.5 188.0 L212.5 186.0 L210.0 172.5 L206.0 166.0 L200.0 161.0 L185.0 157.5 L113.0 156.0 L75.0 155.0Z"/></clipPath>
<clipPath id="c215"><path d="M423.5 81.0 L431.0 65.0 L443.5 53.8 L451.0 45.0 L458.5 40.0 L481.0 36.8 L498.5 40.0 L513.5 45.0 L516.0 53.8 L524.8 60.0 L522.2 67.5 L521.0 72.5 L523.5 78.8 L513.5 83.8 L506.0 86.2 L504.8 91.2 L507.2 96.2 L501.0 102.5 L497.2 107.5 L486.0 112.5 L471.0 118.8 L451.0 123.0 L436.0 123.0 L426.0 115.0 L423.5 95.0Z"/></clipPath>
<clipPath id="c216"><path d="M542.2 20.0 L553.5 27.5 L552.2 35.0 L549.8 47.5 L551.0 52.5 L544.8 58.8 L548.5 62.5 L558.5 68.8 L568.5 75.0 L571.0 81.2 L578.5 83.0 L593.0 83.0 L593.0 20.0Z"/></clipPath>
<linearGradient id="s217" gradientUnits="userSpaceOnUse" x1="0" y1="18" x2="0" y2="189"><stop offset="0" stop-color="#e5ff1a"/><stop offset="0.2573" stop-color="#edff12"/><stop offset="0.345" stop-color="#edff12"/><stop offset="0.4211" stop-color="#eaff15"/><stop offset="0.4737" stop-color="#e6ff19"/><stop offset="0.5205" stop-color="#e0ff1f"/><stop offset="0.731" stop-color="#bbff44"/><stop offset="0.8129" stop-color="#afff50"/><stop offset="0.8713" stop-color="#acff53"/><stop offset="1" stop-color="#adff52"/></linearGradient>
<linearGradient id="s218" gradientUnits="userSpaceOnUse" x1="0" y1="18" x2="0" y2="189"><stop offset="0" stop-color="#e5ff1a"/><stop offset="0.2573" stop-color="#edff12"/><stop offset="0.345" stop-color="#edff12"/><stop offset="0.4211" stop-color="#eaff15"/><stop offset="0.4737" stop-color="#e6ff19"/><stop offset="0.5205" stop-color="#e0ff1f"/><stop offset="0.731" stop-color="#bbff44"/><stop offset="0.8129" stop-color="#afff50"/><stop offset="0.8713" stop-color="#acff53"/><stop offset="1" stop-color="#adff52"/></linearGradient>
<linearGradient id="s219" gradientUnits="userSpaceOnUse" x1="0" y1="18" x2="0" y2="189"><stop offset="0" stop-color="#e6ff19"/><stop offset="0.2573" stop-color="#edff12"/><stop offset="0.345" stop-color="#edff12"/><stop offset="0.4211" stop-color="#eaff15"/><stop offset="0.4737" stop-color="#e6ff19"/><stop offset="0.5205" stop-color="#e0ff1f"/><stop offset="0.731" stop-color="#bbff44"/><stop offset="0.807" stop-color="#b0ff4f"/><stop offset="0.8655" stop-color="#acff53"/><stop offset="1" stop-color="#adff52"/></linearGradient>
<linearGradient id="s220" gradientUnits="userSpaceOnUse" x1="0" y1="18" x2="0" y2="189"><stop offset="0" stop-color="#e6ff19"/><stop offset="0.2515" stop-color="#edff12"/><stop offset="0.3392" stop-color="#edff12"/><stop offset="0.4152" stop-color="#eaff15"/><stop offset="0.4737" stop-color="#e5ff1a"/><stop offset="0.5263" stop-color="#deff21"/><stop offset="0.7251" stop-color="#bcff43"/><stop offset="0.8012" stop-color="#b2ff4d"/><stop offset="0.8713" stop-color="#adff52"/><stop offset="1" stop-color="#abff54"/></linearGradient>
<linearGradient id="s221" gradientUnits="userSpaceOnUse" x1="0" y1="18" x2="0" y2="189"><stop offset="0" stop-color="#e7ff18"/><stop offset="0.2456" stop-color="#edff12"/><stop offset="0.3275" stop-color="#edff12"/><stop offset="0.4035" stop-color="#eaff15"/><stop offset="0.5205" stop-color="#deff21"/><stop offset="0.7193" stop-color="#beff41"/><stop offset="0.7953" stop-color="#b4ff4b"/><stop offset="0.8772" stop-color="#aeff51"/><stop offset="1" stop-color="#aaff55"/></linearGradient>
<linearGradient id="s222" gradientUnits="userSpaceOnUse" x1="0" y1="18" x2="0" y2="189"><stop offset="0" stop-color="#e8ff17"/><stop offset="0.2398" stop-color="#edff12"/><stop offset="0.3216" stop-color="#ecff13"/><stop offset="0.3977" stop-color="#e9ff16"/><stop offset="0.5205" stop-color="#ddff22"/><stop offset="0.7193" stop-color="#bfff40"/><stop offset="0.7953" stop-color="#b5ff4a"/><stop offset="0.8772" stop-color="#aeff51"/><stop offset="1" stop-color="#a9ff56"/></linearGradient>
<linearGradient id="s223" gradientUnits="userSpaceOnUse" x1="0" y1="18" x2="0" y2="189"><stop offset="0" stop-color="#e9ff16"/><stop offset="0.2281" stop-color="#edff12"/><stop offset="0.3158" stop-color="#ecff13"/><stop offset="0.3918" stop-color="#e8ff17"/><stop offset="0.5205" stop-color="#dcff23"/><stop offset="0.8012" stop-color="#b5ff4a"/><stop offset="0.8889" stop-color="#aeff51"/><stop offset="1" stop-color="#a8ff57"/></linearGradient>
<linearGradient id="s224" gradientUnits="userSpaceOnUse" x1="0" y1="18" x2="0" y2="189"><stop offset="0" stop-color="#e9ff16"/><stop offset="0.2222" stop-color="#edff12"/><stop offset="0.3099" stop-color="#ebff14"/><stop offset="0.3918" stop-color="#e7ff18"/><stop offset="0.5205" stop-color="#dbff24"/><stop offset="0.807" stop-color="#b5ff4a"/><stop offset="0.8947" stop-color="#adff52"/><stop offset="1" stop-color="#a7ff58"/></linearGradient>
<linearGradient id="s225" gradientUnits="userSpaceOnUse" x1="0" y1="18" x2="0" y2="189"><stop offset="0" stop-color="#eaff15"/><stop offset="0.2222" stop-color="#edff12"/><stop offset="0.3099" stop-color="#ebff14"/><stop offset="0.3918" stop-color="#e7ff18"/><stop offset="0.5263" stop-color="#daff25"/><stop offset="0.8187" stop-color="#b4ff4b"/><stop offset="1" stop-color="#a6ff59"/></linearGradient>
<linearGradient id="s226" gradientUnits="userSpaceOnUse" x1="0" y1="18" x2="0" y2="189"><stop offset="0" stop-color="#eaff15"/><stop offset="0.2164" stop-color="#edff12"/><stop offset="0.3041" stop-color="#ebff14"/><stop offset="0.3918" stop-color="#e6ff19"/><stop offset="0.5322" stop-color="#d9ff26"/><stop offset="0.8304" stop-color="#b3ff4c"/><stop offset="1" stop-color="#a5ff5a"/></linearGradient>
<linearGradient id="s227" gradientUnits="userSpaceOnUse" x1="0" y1="18" x2="0" y2="189"><stop offset="0" stop-color="#eaff15"/><stop offset="0.2222" stop-color="#edff12"/><stop offset="0.3099" stop-color="#ebff14"/><stop offset="0.3977" stop-color="#e6ff19"/><stop offset="0.538" stop-color="#d9ff26"/><stop offset="0.8363" stop-color="#b2ff4d"/><stop offset="1" stop-color="#a4ff5b"/></linearGradient>
<linearGradient id="s228" gradientUnits="userSpaceOnUse" x1="0" y1="18" x2="0" y2="189"><stop offset="0" stop-color="#eaff15"/><stop offset="0.2222" stop-color="#edff12"/><stop offset="0.3158" stop-color="#eaff15"/><stop offset="0.4035" stop-color="#e6ff19"/><stop offset="0.5497" stop-color="#d8ff27"/><stop offset="0.848" stop-color="#b1ff4e"/><stop offset="1" stop-color="#a4ff5b"/></linearGradient>
<linearGradient id="s229" gradientUnits="userSpaceOnUse" x1="0" y1="18" x2="0" y2="189"><stop offset="0" stop-color="#eaff15"/><stop offset="0.2222" stop-color="#edff12"/><stop offset="0.3158" stop-color="#ebff14"/><stop offset="0.4094" stop-color="#e6ff19"/><stop offset="0.5556" stop-color="#d8ff27"/><stop offset="0.8596" stop-color="#b0ff4f"/><stop offset="1" stop-color="#a3ff5c"/></linearGradient>
<linearGradient id="s230" gradientUnits="userSpaceOnUse" x1="0" y1="18" x2="0" y2="189"><stop offset="0" stop-color="#e9ff16"/><stop offset="0.117" stop-color="#ecff13"/><stop offset="0.2281" stop-color="#edff12"/><stop offset="0.3275" stop-color="#eaff15"/><stop offset="0.4211" stop-color="#e5ff1a"/><stop offset="0.5673" stop-color="#d7ff28"/><stop offset="0.8655" stop-color="#afff50"/><stop offset="1" stop-color="#a3ff5c"/></linearGradient>
<linearGradient id="s231" gradientUnits="userSpaceOnUse" x1="0" y1="18" x2="0" y2="189"><stop offset="0" stop-color="#e9ff16"/><stop offset="0.1228" stop-color="#ecff13"/><stop offset="0.2339" stop-color="#edff12"/><stop offset="0.3333" stop-color="#ebff14"/><stop offset="0.4269" stop-color="#e6ff19"/><stop offset="0.5731" stop-color="#d8ff27"/><stop offset="0.8713" stop-color="#afff50"/><stop offset="1" stop-color="#a4ff5b"/></linearGradient>
<linearGradient id="s232" gradientUnits="userSpaceOnUse" x1="0" y1="18" x2="0" y2="189"><stop offset="0" stop-color="#e8ff17"/><stop offset="0.1287" stop-color="#ebff14"/><stop offset="0.2456" stop-color="#ecff13"/><stop offset="0.345" stop-color="#ebff14"/><stop offset="0.4386" stop-color="#e6ff19"/><stop offset="0.5789" stop-color="#d8ff27"/><stop offset="0.8772" stop-color="#afff50"/><stop offset="1" stop-color="#a5ff5a"/></linearGradient>
<linearGradient id="s233" gradientUnits="userSpaceOnUse" x1="0" y1="18" x2="0" y2="189"><stop offset="0" stop-color="#e7ff18"/><stop offset="0.1287" stop-color="#ebff14"/><stop offset="0.2515" stop-color="#ecff13"/><stop offset="0.3567" stop-color="#eaff15"/><stop offset="0.4503" stop-color="#e6ff19"/><stop offset="0.5848" stop-color="#d9ff26"/><stop offset="0.8772" stop-color="#b2ff4d"/><stop offset="1" stop-color="#a7ff58"/></linearGradient>
<linearGradient id="s234" gradientUnits="userSpaceOnUse" x1="0" y1="18" x2="0" y2="189"><stop offset="0" stop-color="#e5ff1a"/><stop offset="0.2632" stop-color="#ebff14"/><stop offset="0.3684" stop-color="#eaff15"/><stop offset="0.462" stop-color="#e7ff18"/><stop offset="0.5965" stop-color="#daff25"/><stop offset="0.883" stop-color="#b4ff4b"/><stop offset="1" stop-color="#a9ff56"/></linearGradient>
<linearGradient id="s235" gradientUnits="userSpaceOnUse" x1="0" y1="18" x2="0" y2="189"><stop offset="0" stop-color="#e3ff1c"/><stop offset="0.269" stop-color="#ebff14"/><stop offset="0.3743" stop-color="#eaff15"/><stop offset="0.462" stop-color="#e7ff18"/><stop offset="0.5848" stop-color="#ddff22"/><stop offset="0.8713" stop-color="#b9ff46"/><stop offset="1" stop-color="#acff53"/></linearGradient>
<linearGradient id="s236" gradientUnits="userSpaceOnUse" x1="0" y1="18" x2="0" y2="189"><stop offset="0" stop-color="#e0ff1f"/><stop offset="0.2749" stop-color="#eaff15"/><stop offset="0.3743" stop-color="#eaff15"/><stop offset="0.462" stop-color="#e8ff17"/><stop offset="0.5965" stop-color="#ddff22"/><stop offset="0.8772" stop-color="#bcff43"/><stop offset="1" stop-color="#b0ff4f"/></linearGradient>
<linearGradient id="s237" gradientUnits="userSpaceOnUse" x1="0" y1="18" x2="0" y2="189"><stop offset="0" stop-color="#ddff22"/><stop offset="0.2807" stop-color="#e9ff16"/><stop offset="0.3801" stop-color="#eaff15"/><stop offset="0.4678" stop-color="#e8ff17"/><stop offset="0.614" stop-color="#ddff22"/><stop offset="0.883" stop-color="#bfff40"/><stop offset="1" stop-color="#b4ff4b"/></linearGradient>
<linearGradient id="s238" gradientUnits="userSpaceOnUse" x1="0" y1="18" x2="0" y2="189"><stop offset="0" stop-color="#daff25"/><stop offset="0.2924" stop-color="#e8ff17"/><stop offset="0.386" stop-color="#eaff15"/><stop offset="0.4737" stop-color="#e8ff17"/><stop offset="0.6374" stop-color="#ddff22"/><stop offset="1" stop-color="#b9ff46"/></linearGradient>
<linearGradient id="s239" gradientUnits="userSpaceOnUse" x1="0" y1="18" x2="0" y2="189"><stop offset="0" stop-color="#d7ff28"/><stop offset="0.2982" stop-color="#e8ff17"/><stop offset="0.3918" stop-color="#eaff15"/><stop offset="0.4795" stop-color="#e9ff16"/><stop offset="0.5614" stop-color="#e5ff1a"/><stop offset="0.655" stop-color="#dfff20"/><stop offset="1" stop-color="#bdff42"/></linearGradient>
<linearGradient id="s240" gradientUnits="userSpaceOnUse" x1="0" y1="18" x2="0" y2="189"><stop offset="0" stop-color="#d5ff2a"/><stop offset="0.3041" stop-color="#e7ff18"/><stop offset="0.3977" stop-color="#eaff15"/><stop offset="0.4854" stop-color="#eaff15"/><stop offset="0.5731" stop-color="#e7ff18"/><stop offset="0.6667" stop-color="#e1ff1e"/><stop offset="1" stop-color="#c1ff3e"/></linearGradient>
<linearGradient id="s241" gradientUnits="userSpaceOnUse" x1="0" y1="18" x2="0" y2="189"><stop offset="0" stop-color="#d2ff2d"/><stop offset="0.3099" stop-color="#e8ff17"/><stop offset="0.4035" stop-color="#ebff14"/><stop offset="0.4912" stop-color="#ecff13"/><stop offset="0.5848" stop-color="#e9ff16"/><stop offset="0.6842" stop-color="#e3ff1c"/><stop offset="1" stop-color="#c6ff39"/></linearGradient>
<linearGradient id="s242" gradientUnits="userSpaceOnUse" x1="0" y1="18" x2="0" y2="189"><stop offset="0" stop-color="#cfff30"/><stop offset="0.3158" stop-color="#e8ff17"/><stop offset="0.4094" stop-color="#edff12"/><stop offset="0.4971" stop-color="#eeff11"/><stop offset="0.5906" stop-color="#ebff14"/><stop offset="0.6959" stop-color="#e6ff19"/><stop offset="1" stop-color="#caff35"/></linearGradient>
<linearGradient id="s243" gradientUnits="userSpaceOnUse" x1="0" y1="18" x2="0" y2="189"><stop offset="0" stop-color="#cdff32"/><stop offset="0.3158" stop-color="#eaff15"/><stop offset="0.4094" stop-color="#eeff11"/><stop offset="0.4971" stop-color="#f0ff0f"/><stop offset="0.5965" stop-color="#eeff11"/><stop offset="0.7076" stop-color="#e8ff17"/><stop offset="1" stop-color="#ceff31"/></linearGradient>
<linearGradient id="s244" gradientUnits="userSpaceOnUse" x1="0" y1="18" x2="0" y2="189"><stop offset="0" stop-color="#ccff33"/><stop offset="0.076" stop-color="#d2ff2d"/><stop offset="0.3099" stop-color="#ebff14"/><stop offset="0.4035" stop-color="#f0ff0f"/><stop offset="0.4971" stop-color="#f3ff0c"/><stop offset="0.6023" stop-color="#f1ff0e"/><stop offset="0.7135" stop-color="#ecff13"/><stop offset="0.8246" stop-color="#e3ff1c"/><stop offset="1" stop-color="#d2ff2d"/></linearGradient>
<linearGradient id="s245" gradientUnits="userSpaceOnUse" x1="0" y1="18" x2="0" y2="189"><stop offset="0" stop-color="#cbff34"/><stop offset="0.0702" stop-color="#d1ff2e"/><stop offset="0.2982" stop-color="#ecff13"/><stop offset="0.3918" stop-color="#f2ff0d"/><stop offset="0.4912" stop-color="#f5ff0a"/><stop offset="0.6023" stop-color="#f4ff0b"/><stop offset="0.7193" stop-color="#efff10"/><stop offset="0.8304" stop-color="#e6ff19"/><stop offset="1" stop-color="#d5ff2a"/></linearGradient>
<linearGradient id="s246" gradientUnits="userSpaceOnUse" x1="0" y1="18" x2="0" y2="189"><stop offset="0" stop-color="#ccff33"/><stop offset="0.0643" stop-color="#d2ff2d"/><stop offset="0.1988" stop-color="#e5ff1a"/><stop offset="0.2807" stop-color="#eeff11"/><stop offset="0.3743" stop-color="#f4ff0b"/><stop offset="0.4795" stop-color="#f8ff07"/><stop offset="0.6023" stop-color="#f7ff08"/><stop offset="0.7251" stop-color="#f2ff0d"/><stop offset="0.8363" stop-color="#e9ff16"/><stop offset="1" stop-color="#d8ff27"/></linearGradient>
<linearGradient id="s247" gradientUnits="userSpaceOnUse" x1="0" y1="18" x2="0" y2="189"><stop offset="0" stop-color="#ceff31"/><stop offset="0.0526" stop-color="#d3ff2c"/><stop offset="0.1754" stop-color="#e6ff19"/><stop offset="0.2573" stop-color="#f0ff0f"/><stop offset="0.3509" stop-color="#f6ff09"/><stop offset="0.462" stop-color="#faff05"/><stop offset="0.6023" stop-color="#f9ff06"/><stop offset="0.731" stop-color="#f4ff0b"/><stop offset="0.8363" stop-color="#ecff13"/><stop offset="1" stop-color="#dbff24"/></linearGradient>
<linearGradient id="s248" gradientUnits="userSpaceOnUse" x1="0" y1="18" x2="0" y2="189"><stop offset="0" stop-color="#d4ff2b"/><stop offset="0.0409" stop-color="#d8ff27"/><stop offset="0.152" stop-color="#e9ff16"/><stop offset="0.2339" stop-color="#f3ff0c"/><stop offset="0.3333" stop-color="#f9ff06"/><stop offset="0.4444" stop-color="#fbff04"/><stop offset="0.6082" stop-color="#fbff04"/><stop offset="0.7485" stop-color="#f6ff09"/><stop offset="0.848" stop-color="#eeff11"/><stop offset="1" stop-color="#ddff22"/></linearGradient>
<linearGradient id="s249" gradientUnits="userSpaceOnUse" x1="0" y1="18" x2="0" y2="189"><stop offset="0" stop-color="#deff21"/><stop offset="0.1228" stop-color="#efff10"/><stop offset="0.1988" stop-color="#f6ff09"/><stop offset="0.2982" stop-color="#fbff04"/><stop offset="0.4152" stop-color="#fdff02"/><stop offset="0.6257" stop-color="#fbff04"/><stop offset="0.7719" stop-color="#f6ff09"/><stop offset="0.8655" stop-color="#efff10"/><stop offset="1" stop-color="#dfff20"/></linearGradient>
<linearGradient id="s250" gradientUnits="userSpaceOnUse" x1="0" y1="18" x2="0" y2="189"><stop offset="0" stop-color="#e9ff16"/><stop offset="0.0702" stop-color="#f4ff0b"/><stop offset="0.1345" stop-color="#f9ff06"/><stop offset="0.2339" stop-color="#fdff02"/><stop offset="0.3509" stop-color="#feff01"/><stop offset="0.807" stop-color="#f5ff0a"/><stop offset="0.8889" stop-color="#efff10"/><stop offset="1" stop-color="#e1ff1e"/></linearGradient>
<linearGradient id="s251" gradientUnits="userSpaceOnUse" x1="0" y1="18" x2="0" y2="189"><stop offset="0" stop-color="#f0ff0f"/><stop offset="0.0643" stop-color="#fbff04"/><stop offset="0.1111" stop-color="#feff01"/><stop offset="0.2164" stop-color="#fffe00"/><stop offset="0.3216" stop-color="#ffff00"/><stop offset="0.5614" stop-color="#f8ff07"/><stop offset="0.848" stop-color="#f3ff0c"/><stop offset="0.9064" stop-color="#efff10"/><stop offset="1" stop-color="#e2ff1d"/></linearGradient>
<linearGradient id="s252" gradientUnits="userSpaceOnUse" x1="0" y1="18" x2="0" y2="189"><stop offset="0" stop-color="#f2ff0d"/><stop offset="0.0585" stop-color="#fbff04"/><stop offset="0.1053" stop-color="#ffff00"/><stop offset="0.1871" stop-color="#fffd00"/><stop offset="0.2865" stop-color="#ffff00"/><stop offset="0.5731" stop-color="#f4ff0b"/><stop offset="0.8713" stop-color="#efff10"/><stop offset="0.9181" stop-color="#ebff14"/><stop offset="1" stop-color="#e0ff1f"/></linearGradient>
<linearGradient id="s253" gradientUnits="userSpaceOnUse" x1="0" y1="18" x2="0" y2="189"><stop offset="0" stop-color="#f0ff0f"/><stop offset="0.1053" stop-color="#fcff03"/><stop offset="0.2164" stop-color="#feff01"/><stop offset="0.5848" stop-color="#edff12"/><stop offset="0.8713" stop-color="#e8ff17"/><stop offset="1" stop-color="#dcff23"/></linearGradient>
<linearGradient id="s254" gradientUnits="userSpaceOnUse" x1="0" y1="18" x2="0" y2="189"><stop offset="0" stop-color="#ecff13"/><stop offset="0.117" stop-color="#f6ff09"/><stop offset="0.2281" stop-color="#f7ff08"/><stop offset="0.5965" stop-color="#e5ff1a"/><stop offset="0.8947" stop-color="#ddff22"/><stop offset="1" stop-color="#d6ff29"/></linearGradient>
<linearGradient id="s255" gradientUnits="userSpaceOnUse" x1="0" y1="18" x2="0" y2="189"><stop offset="0" stop-color="#e5ff1a"/><stop offset="0.1287" stop-color="#eeff11"/><stop offset="0.2456" stop-color="#eeff11"/><stop offset="0.6316" stop-color="#dbff24"/><stop offset="1" stop-color="#ceff31"/></linearGradient>
<linearGradient id="s256" gradientUnits="userSpaceOnUse" x1="0" y1="18" x2="0" y2="189"><stop offset="0" stop-color="#ddff22"/><stop offset="0.1462" stop-color="#e4ff1b"/><stop offset="0.2573" stop-color="#e4ff1b"/><stop offset="0.7135" stop-color="#ceff31"/><stop offset="0.8772" stop-color="#c8ff37"/><stop offset="1" stop-color="#c6ff39"/></linearGradient>
<linearGradient id="s257" gradientUnits="userSpaceOnUse" x1="0" y1="18" x2="0" y2="189"><stop offset="0" stop-color="#d4ff2b"/><stop offset="0.1579" stop-color="#daff25"/><stop offset="0.2632" stop-color="#daff25"/><stop offset="0.3801" stop-color="#d5ff2a"/><stop offset="0.7544" stop-color="#c2ff3d"/><stop offset="0.8772" stop-color="#beff41"/><stop offset="1" stop-color="#bfff40"/></linearGradient>
<linearGradient id="s258" gradientUnits="userSpaceOnUse" x1="0" y1="18" x2="0" y2="189"><stop offset="0" stop-color="#ccff33"/><stop offset="0.1696" stop-color="#cfff30"/><stop offset="0.2632" stop-color="#cfff30"/><stop offset="0.4152" stop-color="#caff35"/><stop offset="0.7427" stop-color="#b9ff46"/><stop offset="0.8421" stop-color="#b7ff48"/><stop offset="1" stop-color="#b9ff46"/></linearGradient>
<linearGradient id="s259" gradientUnits="userSpaceOnUse" x1="0" y1="18" x2="0" y2="189"><stop offset="0" stop-color="#c3ff3c"/><stop offset="0.2924" stop-color="#c3ff3c"/><stop offset="0.462" stop-color="#beff41"/><stop offset="0.7485" stop-color="#b0ff4f"/><stop offset="1" stop-color="#b3ff4c"/></linearGradient>
<linearGradient id="s260" gradientUnits="userSpaceOnUse" x1="0" y1="18" x2="0" y2="189"><stop offset="0" stop-color="#bbff44"/><stop offset="0.4327" stop-color="#b6ff49"/><stop offset="0.7368" stop-color="#aaff55"/><stop offset="1" stop-color="#aeff51"/></linearGradient>
<linearGradient id="s261" gradientUnits="userSpaceOnUse" x1="0" y1="18" x2="0" y2="189"><stop offset="0" stop-color="#b4ff4b"/><stop offset="0.2398" stop-color="#aeff51"/><stop offset="0.4854" stop-color="#aeff51"/><stop offset="0.7368" stop-color="#a5ff5a"/><stop offset="0.8655" stop-color="#a5ff5a"/><stop offset="1" stop-color="#a9ff56"/></linearGradient>
<linearGradient id="s262" gradientUnits="userSpaceOnUse" x1="0" y1="18" x2="0" y2="189"><stop offset="0" stop-color="#aeff51"/><stop offset="0.2456" stop-color="#a5ff5a"/><stop offset="0.4795" stop-color="#a8ff57"/><stop offset="0.8538" stop-color="#a2ff5d"/><stop offset="1" stop-color="#a5ff5a"/></linearGradient>
<linearGradient id="s263" gradientUnits="userSpaceOnUse" x1="0" y1="18" x2="0" y2="189"><stop offset="0" stop-color="#aaff55"/><stop offset="0.2456" stop-color="#a1ff5e"/><stop offset="0.4971" stop-color="#a4ff5b"/><stop offset="0.8596" stop-color="#a1ff5e"/><stop offset="1" stop-color="#a2ff5d"/></linearGradient>
<linearGradient id="s264" gradientUnits="userSpaceOnUse" x1="0" y1="18" x2="0" y2="189"><stop offset="0" stop-color="#a6ff59"/><stop offset="0.2456" stop-color="#9eff61"/><stop offset="0.5614" stop-color="#a2ff5d"/><stop offset="1" stop-color="#a1ff5e"/></linearGradient>
<linearGradient id="s265" gradientUnits="userSpaceOnUse" x1="0" y1="18" x2="0" y2="189"><stop offset="0" stop-color="#a4ff5b"/><stop offset="0.2456" stop-color="#9dff62"/><stop offset="0.7251" stop-color="#a3ff5c"/><stop offset="1" stop-color="#a0ff5f"/></linearGradient>
<linearGradient id="s266" gradientUnits="userSpaceOnUse" x1="0" y1="18" x2="0" y2="189"><stop offset="0" stop-color="#a2ff5d"/><stop offset="0.2456" stop-color="#9dff62"/><stop offset="0.7251" stop-color="#a3ff5c"/><stop offset="1" stop-color="#9fff60"/></linearGradient>
<linearGradient id="s267" gradientUnits="userSpaceOnUse" x1="0" y1="18" x2="0" y2="189"><stop offset="0" stop-color="#a2ff5d"/><stop offset="0.2632" stop-color="#9dff62"/><stop offset="0.731" stop-color="#a3ff5c"/><stop offset="1" stop-color="#9eff61"/></linearGradient>
<linearGradient id="s268" gradientUnits="userSpaceOnUse" x1="0" y1="18" x2="0" y2="189"><stop offset="0" stop-color="#a2ff5d"/><stop offset="0.2573" stop-color="#9eff61"/><stop offset="0.7018" stop-color="#a3ff5c"/><stop offset="1" stop-color="#9eff61"/></linearGradient>
<linearGradient id="s269" gradientUnits="userSpaceOnUse" x1="0" y1="18" x2="0" y2="189"><stop offset="0" stop-color="#a2ff5d"/><stop offset="0.2398" stop-color="#a0ff5f"/><stop offset="0.6667" stop-color="#a3ff5c"/><stop offset="1" stop-color="#9dff62"/></linearGradient>
<linearGradient id="s270" gradientUnits="userSpaceOnUse" x1="0" y1="18" x2="0" y2="189"><stop offset="0" stop-color="#a2ff5d"/><stop offset="0.1988" stop-color="#a1ff5e"/><stop offset="0.6316" stop-color="#a3ff5c"/><stop offset="1" stop-color="#9cff63"/></linearGradient>
<linearGradient id="s271" gradientUnits="userSpaceOnUse" x1="0" y1="18" x2="0" y2="189"><stop offset="0" stop-color="#a3ff5c"/><stop offset="0.4854" stop-color="#a4ff5b"/><stop offset="1" stop-color="#9bff64"/></linearGradient>
<linearGradient id="s272" gradientUnits="userSpaceOnUse" x1="0" y1="18" x2="0" y2="189"><stop offset="0" stop-color="#a3ff5c"/><stop offset="0.4327" stop-color="#a5ff5a"/><stop offset="0.8246" stop-color="#9cff63"/><stop offset="1" stop-color="#9aff65"/></linearGradient>
<linearGradient id="s273" gradientUnits="userSpaceOnUse" x1="0" y1="18" x2="0" y2="189"><stop offset="0" stop-color="#a3ff5c"/><stop offset="0.4152" stop-color="#a7ff58"/><stop offset="0.7368" stop-color="#9bff64"/><stop offset="1" stop-color="#99ff66"/></linearGradient>
<linearGradient id="s274" gradientUnits="userSpaceOnUse" x1="0" y1="18" x2="0" y2="189"><stop offset="0" stop-color="#a3ff5c"/><stop offset="0.4035" stop-color="#a8ff57"/><stop offset="0.4795" stop-color="#a6ff59"/><stop offset="0.731" stop-color="#99ff66"/><stop offset="1" stop-color="#98ff67"/></linearGradient>
<linearGradient id="s275" gradientUnits="userSpaceOnUse" x1="0" y1="18" x2="0" y2="189"><stop offset="0" stop-color="#a3ff5c"/><stop offset="0.4094" stop-color="#a8ff57"/><stop offset="0.4795" stop-color="#a6ff59"/><stop offset="0.7251" stop-color="#96ff69"/><stop offset="1" stop-color="#97ff68"/></linearGradient>
<linearGradient id="s276" gradientUnits="userSpaceOnUse" x1="0" y1="18" x2="0" y2="189"><stop offset="0" stop-color="#a3ff5c"/><stop offset="0.1345" stop-color="#a3ff5c"/><stop offset="0.4035" stop-color="#a8ff57"/><stop offset="0.4854" stop-color="#a5ff5a"/><stop offset="0.7193" stop-color="#94ff6b"/><stop offset="1" stop-color="#96ff69"/></linearGradient>
<linearGradient id="s277" gradientUnits="userSpaceOnUse" x1="0" y1="18" x2="0" y2="189"><stop offset="0" stop-color="#a3ff5c"/><stop offset="0.3918" stop-color="#a8ff57"/><stop offset="0.4854" stop-color="#a4ff5b"/><stop offset="0.7193" stop-color="#94ff6b"/><stop offset="0.8012" stop-color="#93ff6c"/><stop offset="1" stop-color="#96ff69"/></linearGradient>
<linearGradient id="s278" gradientUnits="userSpaceOnUse" x1="0" y1="18" x2="0" y2="189"><stop offset="0" stop-color="#a3ff5c"/><stop offset="0.386" stop-color="#a7ff58"/><stop offset="0.4854" stop-color="#a3ff5c"/><stop offset="0.7251" stop-color="#95ff6a"/><stop offset="0.8129" stop-color="#94ff6b"/><stop offset="1" stop-color="#97ff68"/></linearGradient>
<linearGradient id="s279" gradientUnits="userSpaceOnUse" x1="0" y1="18" x2="0" y2="189"><stop offset="0" stop-color="#a3ff5c"/><stop offset="0.3801" stop-color="#a6ff59"/><stop offset="0.4795" stop-color="#a3ff5c"/><stop offset="0.731" stop-color="#96ff69"/><stop offset="1" stop-color="#98ff67"/></linearGradient>
<linearGradient id="s280" gradientUnits="userSpaceOnUse" x1="0" y1="18" x2="0" y2="189"><stop offset="0" stop-color="#a3ff5c"/><stop offset="0.3743" stop-color="#a5ff5a"/><stop offset="0.4737" stop-color="#a3ff5c"/><stop offset="0.731" stop-color="#98ff67"/><stop offset="1" stop-color="#99ff66"/></linearGradient>
<linearGradient id="s281" gradientUnits="userSpaceOnUse" x1="0" y1="18" x2="0" y2="189"><stop offset="0" stop-color="#a3ff5c"/><stop offset="0.3626" stop-color="#a5ff5a"/><stop offset="0.731" stop-color="#9bff64"/><stop offset="1" stop-color="#9bff64"/></linearGradient>
<linearGradient id="s282" gradientUnits="userSpaceOnUse" x1="0" y1="18" x2="0" y2="189"><stop offset="0" stop-color="#a3ff5c"/><stop offset="0.3567" stop-color="#a5ff5a"/><stop offset="0.7251" stop-color="#9dff62"/><stop offset="1" stop-color="#9dff62"/></linearGradient>
<linearGradient id="s283" gradientUnits="userSpaceOnUse" x1="0" y1="18" x2="0" y2="189"><stop offset="0" stop-color="#a3ff5c"/><stop offset="0.3509" stop-color="#a5ff5a"/><stop offset="0.7193" stop-color="#9fff60"/><stop offset="1" stop-color="#9eff61"/></linearGradient>
<linearGradient id="s284" gradientUnits="userSpaceOnUse" x1="0" y1="18" x2="0" y2="189"><stop offset="0" stop-color="#a3ff5c"/><stop offset="0.3509" stop-color="#a5ff5a"/><stop offset="0.7193" stop-color="#9fff60"/><stop offset="1" stop-color="#9eff61"/></linearGradient>
<linearGradient id="s285" gradientUnits="userSpaceOnUse" x1="0" y1="18" x2="0" y2="189"><stop offset="0" stop-color="#a3ff5c"/><stop offset="0.3509" stop-color="#a5ff5a"/><stop offset="0.7193" stop-color="#9fff60"/><stop offset="1" stop-color="#9eff61"/></linearGradient>
<filter id="f286" filterUnits="userSpaceOnUse" x="49.5" y="8" width="568" height="191" color-interpolation-filters="sRGB"><feGaussianBlur stdDeviation="4 0"/></filter>
<linearGradient id="s287" gradientUnits="userSpaceOnUse" x1="0" y1="18" x2="0" y2="189"><stop offset="0" stop-color="#ffa300"/><stop offset="0.0234" stop-color="#ffa300"/><stop offset="0.076" stop-color="#ffa800"/><stop offset="0.2456" stop-color="#ff9e00"/><stop offset="0.4795" stop-color="#ff9e00"/><stop offset="0.7895" stop-color="#ffb800"/><stop offset="1" stop-color="#ffb800"/></linearGradient>
<linearGradient id="s288" gradientUnits="userSpaceOnUse" x1="0" y1="18" x2="0" y2="189"><stop offset="0" stop-color="#ffa300"/><stop offset="0.0234" stop-color="#ffa300"/><stop offset="0.076" stop-color="#ffa800"/><stop offset="0.2456" stop-color="#ff9e00"/><stop offset="0.4795" stop-color="#ff9e00"/><stop offset="0.7895" stop-color="#ffb800"/><stop offset="1" stop-color="#ffb800"/></linearGradient>
<linearGradient id="s289" gradientUnits="userSpaceOnUse" x1="0" y1="18" x2="0" y2="189"><stop offset="0" stop-color="#ffa300"/><stop offset="0.0234" stop-color="#ffa300"/><stop offset="0.076" stop-color="#ffa800"/><stop offset="0.1579" stop-color="#ffa200"/><stop offset="0.2456" stop-color="#ff9d00"/><stop offset="0.4795" stop-color="#ff9e00"/><stop offset="0.7427" stop-color="#ffb400"/><stop offset="0.7895" stop-color="#ffb600"/><stop offset="1" stop-color="#ffb600"/></linearGradient>
<linearGradient id="s290" gradientUnits="userSpaceOnUse" x1="0" y1="18" x2="0" y2="189"><stop offset="0" stop-color="#ffa300"/><stop offset="0.0234" stop-color="#ffa300"/><stop offset="0.076" stop-color="#ffa800"/><stop offset="0.1579" stop-color="#ff9e00"/><stop offset="0.3626" stop-color="#ff9900"/><stop offset="0.5965" stop-color="#ffa300"/><stop offset="0.7427" stop-color="#ffb300"/><stop offset="1" stop-color="#ffb300"/></linearGradient>
<linearGradient id="s291" gradientUnits="userSpaceOnUse" x1="0" y1="18" x2="0" y2="189"><stop offset="0" stop-color="#ffa100"/><stop offset="0.0234" stop-color="#ffa100"/><stop offset="0.076" stop-color="#ffa800"/><stop offset="0.1579" stop-color="#ff9700"/><stop offset="0.3041" stop-color="#ff9100"/><stop offset="0.3626" stop-color="#ff9000"/><stop offset="0.4795" stop-color="#ff9300"/><stop offset="0.5965" stop-color="#ff9c00"/><stop offset="0.7719" stop-color="#ffb000"/><stop offset="1" stop-color="#ffb000"/></linearGradient>
<linearGradient id="s292" gradientUnits="userSpaceOnUse" x1="0" y1="18" x2="0" y2="189"><stop offset="0" stop-color="#ff9f00"/><stop offset="0.0234" stop-color="#ff9f00"/><stop offset="0.076" stop-color="#ffa800"/><stop offset="0.1579" stop-color="#ff9000"/><stop offset="0.3041" stop-color="#ff8700"/><stop offset="0.4795" stop-color="#ff8700"/><stop offset="0.655" stop-color="#ff9a00"/><stop offset="0.7719" stop-color="#ffae00"/><stop offset="1" stop-color="#ffae00"/></linearGradient>
<linearGradient id="s293" gradientUnits="userSpaceOnUse" x1="0" y1="18" x2="0" y2="189"><stop offset="0" stop-color="#ff9e00"/><stop offset="0.0234" stop-color="#ff9e00"/><stop offset="0.076" stop-color="#ffa800"/><stop offset="0.1579" stop-color="#ff8e00"/><stop offset="0.1871" stop-color="#ff8900"/><stop offset="0.3041" stop-color="#ff8200"/><stop offset="0.4795" stop-color="#ff8200"/><stop offset="0.538" stop-color="#ff8700"/><stop offset="0.655" stop-color="#ff9600"/><stop offset="0.7719" stop-color="#ffab00"/><stop offset="1" stop-color="#ffac00"/></linearGradient>
<linearGradient id="s294" gradientUnits="userSpaceOnUse" x1="0" y1="18" x2="0" y2="189"><stop offset="0" stop-color="#ff9e00"/><stop offset="0.0234" stop-color="#ff9e00"/><stop offset="0.076" stop-color="#ffa800"/><stop offset="0.1579" stop-color="#ff8c00"/><stop offset="0.1871" stop-color="#ff8500"/><stop offset="0.3626" stop-color="#ff7e00"/><stop offset="0.4795" stop-color="#ff7e00"/><stop offset="0.538" stop-color="#ff8200"/><stop offset="0.655" stop-color="#ff9300"/><stop offset="0.7836" stop-color="#ffaa00"/><stop offset="1" stop-color="#ffaa00"/></linearGradient>
<linearGradient id="s295" gradientUnits="userSpaceOnUse" x1="0" y1="18" x2="0" y2="189"><stop offset="0" stop-color="#ff9e00"/><stop offset="0.0234" stop-color="#ff9e00"/><stop offset="0.076" stop-color="#ffa800"/><stop offset="0.1871" stop-color="#ff8100"/><stop offset="0.3626" stop-color="#ff7a00"/><stop offset="0.4795" stop-color="#ff7b00"/><stop offset="0.538" stop-color="#ff7c00"/><stop offset="0.6842" stop-color="#ff9500"/><stop offset="0.7836" stop-color="#ffa900"/><stop offset="1" stop-color="#ffa900"/></linearGradient>
<linearGradient id="s296" gradientUnits="userSpaceOnUse" x1="0" y1="18" x2="0" y2="189"><stop offset="0" stop-color="#ff9e00"/><stop offset="0.0234" stop-color="#ff9e00"/><stop offset="0.076" stop-color="#ffa800"/><stop offset="0.1871" stop-color="#ff7f00"/><stop offset="0.3626" stop-color="#ff7800"/><stop offset="0.538" stop-color="#ff7a00"/><stop offset="0.6842" stop-color="#ff9300"/><stop offset="0.7836" stop-color="#ffa800"/><stop offset="1" stop-color="#ffa800"/></linearGradient>
<linearGradient id="s297" gradientUnits="userSpaceOnUse" x1="0" y1="18" x2="0" y2="189"><stop offset="0" stop-color="#ff9e00"/><stop offset="0.0234" stop-color="#ff9e00"/><stop offset="0.076" stop-color="#ffa800"/><stop offset="0.1871" stop-color="#ff7e00"/><stop offset="0.3626" stop-color="#ff7700"/><stop offset="0.538" stop-color="#ff7800"/><stop offset="0.6842" stop-color="#ff9100"/><stop offset="0.7836" stop-color="#ffa700"/><stop offset="1" stop-color="#ffa700"/></linearGradient>
<linearGradient id="s298" gradientUnits="userSpaceOnUse" x1="0" y1="18" x2="0" y2="189"><stop offset="0" stop-color="#ff9e00"/><stop offset="0.0234" stop-color="#ff9e00"/><stop offset="0.076" stop-color="#ffa700"/><stop offset="0.1871" stop-color="#ff7d00"/><stop offset="0.3626" stop-color="#ff7600"/><stop offset="0.538" stop-color="#ff7700"/><stop offset="0.6842" stop-color="#ff9000"/><stop offset="0.7895" stop-color="#ffa600"/><stop offset="1" stop-color="#ffa600"/></linearGradient>
<linearGradient id="s299" gradientUnits="userSpaceOnUse" x1="0" y1="18" x2="0" y2="189"><stop offset="0" stop-color="#ff9e00"/><stop offset="0.0234" stop-color="#ff9e00"/><stop offset="0.076" stop-color="#ffa700"/><stop offset="0.1871" stop-color="#ff7c00"/><stop offset="0.3626" stop-color="#ff7500"/><stop offset="0.538" stop-color="#ff7600"/><stop offset="0.6842" stop-color="#ff8e00"/><stop offset="0.7895" stop-color="#ffa500"/><stop offset="1" stop-color="#ffa500"/></linearGradient>
<linearGradient id="s300" gradientUnits="userSpaceOnUse" x1="0" y1="18" x2="0" y2="189"><stop offset="0" stop-color="#ff9e00"/><stop offset="0.0234" stop-color="#ff9e00"/><stop offset="0.076" stop-color="#ffa700"/><stop offset="0.1871" stop-color="#ff7c00"/><stop offset="0.3626" stop-color="#ff7500"/><stop offset="0.538" stop-color="#ff7500"/><stop offset="0.6842" stop-color="#ff8c00"/><stop offset="0.7895" stop-color="#ffa400"/><stop offset="1" stop-color="#ffa400"/></linearGradient>
<linearGradient id="s301" gradientUnits="userSpaceOnUse" x1="0" y1="18" x2="0" y2="189"><stop offset="0" stop-color="#ff9e00"/><stop offset="0.0234" stop-color="#ff9e00"/><stop offset="0.076" stop-color="#ffa600"/><stop offset="0.1871" stop-color="#ff7b00"/><stop offset="0.3626" stop-color="#ff7400"/><stop offset="0.538" stop-color="#ff7400"/><stop offset="0.6842" stop-color="#ff8b00"/><stop offset="0.7895" stop-color="#ffa400"/><stop offset="1" stop-color="#ffa400"/></linearGradient>
<linearGradient id="s302" gradientUnits="userSpaceOnUse" x1="0" y1="18" x2="0" y2="189"><stop offset="0" stop-color="#ff9e00"/><stop offset="0.0234" stop-color="#ff9e00"/><stop offset="0.076" stop-color="#ffa600"/><stop offset="0.1871" stop-color="#ff7a00"/><stop offset="0.3626" stop-color="#ff7100"/><stop offset="0.538" stop-color="#ff7100"/><stop offset="0.6842" stop-color="#ff8700"/><stop offset="0.7895" stop-color="#ffa100"/><stop offset="1" stop-color="#ffa600"/></linearGradient>
<linearGradient id="s303" gradientUnits="userSpaceOnUse" x1="0" y1="18" x2="0" y2="189"><stop offset="0" stop-color="#ff9e00"/><stop offset="0.0234" stop-color="#ff9e00"/><stop offset="0.076" stop-color="#ffa500"/><stop offset="0.1871" stop-color="#ff7700"/><stop offset="0.3918" stop-color="#ff6b00"/><stop offset="0.538" stop-color="#ff6c00"/><stop offset="0.5965" stop-color="#ff7300"/><stop offset="0.6842" stop-color="#ff8200"/><stop offset="0.7895" stop-color="#ff9b00"/><stop offset="0.8889" stop-color="#ffa800"/><stop offset="0.9766" stop-color="#ffad00"/><stop offset="1" stop-color="#ffad00"/></linearGradient>
<linearGradient id="s304" gradientUnits="userSpaceOnUse" x1="0" y1="18" x2="0" y2="189"><stop offset="0" stop-color="#ff9e00"/><stop offset="0.0234" stop-color="#ff9e00"/><stop offset="0.076" stop-color="#ffa500"/><stop offset="0.1871" stop-color="#ff7500"/><stop offset="0.3918" stop-color="#ff6500"/><stop offset="0.538" stop-color="#ff6700"/><stop offset="0.5965" stop-color="#ff6c00"/><stop offset="0.6842" stop-color="#ff7c00"/><stop offset="0.7719" stop-color="#ff9000"/><stop offset="0.7895" stop-color="#ff9600"/><stop offset="0.8889" stop-color="#ffab00"/><stop offset="0.9766" stop-color="#ffb500"/><stop offset="1" stop-color="#ffb500"/></linearGradient>
<linearGradient id="s305" gradientUnits="userSpaceOnUse" x1="0" y1="18" x2="0" y2="189"><stop offset="0" stop-color="#ff9e00"/><stop offset="0.0234" stop-color="#ff9e00"/><stop offset="0.076" stop-color="#ffa400"/><stop offset="0.1871" stop-color="#ff7300"/><stop offset="0.3918" stop-color="#ff6000"/><stop offset="0.538" stop-color="#ff6200"/><stop offset="0.5965" stop-color="#ff6600"/><stop offset="0.6842" stop-color="#ff7600"/><stop offset="0.7719" stop-color="#ff8900"/><stop offset="0.8889" stop-color="#ffae00"/><stop offset="0.9766" stop-color="#ffbc00"/><stop offset="1" stop-color="#ffbc00"/></linearGradient>
<linearGradient id="s306" gradientUnits="userSpaceOnUse" x1="0" y1="18" x2="0" y2="189"><stop offset="0" stop-color="#ff9e00"/><stop offset="0.0234" stop-color="#ff9e00"/><stop offset="0.076" stop-color="#ffa400"/><stop offset="0.1871" stop-color="#ff7100"/><stop offset="0.3918" stop-color="#ff5a00"/><stop offset="0.538" stop-color="#ff5d00"/><stop offset="0.5965" stop-color="#ff5f00"/><stop offset="0.7719" stop-color="#ff8300"/><stop offset="0.8889" stop-color="#ffb100"/><stop offset="0.9766" stop-color="#ffc300"/><stop offset="1" stop-color="#ffc300"/></linearGradient>
<linearGradient id="s307" gradientUnits="userSpaceOnUse" x1="0" y1="18" x2="0" y2="189"><stop offset="0" stop-color="#ff9e00"/><stop offset="0.0234" stop-color="#ff9e00"/><stop offset="0.076" stop-color="#ffa200"/><stop offset="0.1871" stop-color="#ff6e00"/><stop offset="0.3918" stop-color="#ff5500"/><stop offset="0.5965" stop-color="#ff5900"/><stop offset="0.7719" stop-color="#ff7c00"/><stop offset="0.8889" stop-color="#ffb000"/><stop offset="0.9766" stop-color="#ffc400"/><stop offset="1" stop-color="#ffc400"/></linearGradient>
<linearGradient id="s308" gradientUnits="userSpaceOnUse" x1="0" y1="18" x2="0" y2="189"><stop offset="0" stop-color="#ff9c00"/><stop offset="0.076" stop-color="#ff9f00"/><stop offset="0.1871" stop-color="#ff6a00"/><stop offset="0.3918" stop-color="#ff5000"/><stop offset="0.5965" stop-color="#ff5300"/><stop offset="0.7719" stop-color="#ff7400"/><stop offset="0.8889" stop-color="#ffa900"/><stop offset="0.9766" stop-color="#ffbd00"/><stop offset="1" stop-color="#ffbd00"/></linearGradient>
<linearGradient id="s309" gradientUnits="userSpaceOnUse" x1="0" y1="18" x2="0" y2="189"><stop offset="0" stop-color="#ff9b00"/><stop offset="0.076" stop-color="#ff9d00"/><stop offset="0.1871" stop-color="#ff6600"/><stop offset="0.3918" stop-color="#ff4b00"/><stop offset="0.5965" stop-color="#ff4d00"/><stop offset="0.7719" stop-color="#ff6c00"/><stop offset="0.8889" stop-color="#ffa200"/><stop offset="0.9766" stop-color="#ffb600"/><stop offset="1" stop-color="#ffb600"/></linearGradient>
<linearGradient id="s310" gradientUnits="userSpaceOnUse" x1="0" y1="18" x2="0" y2="189"><stop offset="0" stop-color="#ff9900"/><stop offset="0.076" stop-color="#ff9a00"/><stop offset="0.1871" stop-color="#ff6200"/><stop offset="0.3918" stop-color="#ff4600"/><stop offset="0.5965" stop-color="#ff4600"/><stop offset="0.7719" stop-color="#ff6300"/><stop offset="0.8889" stop-color="#ff9b00"/><stop offset="0.9766" stop-color="#ffb000"/><stop offset="1" stop-color="#ffb000"/></linearGradient>
<linearGradient id="s311" gradientUnits="userSpaceOnUse" x1="0" y1="18" x2="0" y2="189"><stop offset="0" stop-color="#ff9800"/><stop offset="0.0234" stop-color="#ff9800"/><stop offset="0.076" stop-color="#ff9300"/><stop offset="0.1287" stop-color="#ff7800"/><stop offset="0.1871" stop-color="#ff5e00"/><stop offset="0.3918" stop-color="#ff4200"/><stop offset="0.5965" stop-color="#ff4000"/><stop offset="0.7719" stop-color="#ff5a00"/><stop offset="0.8889" stop-color="#ff9300"/><stop offset="0.9766" stop-color="#ffa900"/><stop offset="1" stop-color="#ffa900"/></linearGradient>
<linearGradient id="s312" gradientUnits="userSpaceOnUse" x1="0" y1="18" x2="0" y2="189"><stop offset="0" stop-color="#ff9700"/><stop offset="0.0234" stop-color="#ff9700"/><stop offset="0.076" stop-color="#ff8a00"/><stop offset="0.1287" stop-color="#ff6f00"/><stop offset="0.1871" stop-color="#ff5a00"/><stop offset="0.3626" stop-color="#ff4000"/><stop offset="0.3918" stop-color="#ff3d00"/><stop offset="0.5965" stop-color="#ff3a00"/><stop offset="0.7719" stop-color="#ff5100"/><stop offset="0.8889" stop-color="#ff8900"/><stop offset="0.9181" stop-color="#ff9400"/><stop offset="0.9766" stop-color="#ffa200"/><stop offset="1" stop-color="#ffa200"/></linearGradient>
<linearGradient id="s313" gradientUnits="userSpaceOnUse" x1="0" y1="18" x2="0" y2="189"><stop offset="0" stop-color="#ff9500"/><stop offset="0.0234" stop-color="#ff9500"/><stop offset="0.076" stop-color="#ff8100"/><stop offset="0.1287" stop-color="#ff6600"/><stop offset="0.1871" stop-color="#ff5600"/><stop offset="0.3626" stop-color="#ff3b00"/><stop offset="0.5965" stop-color="#ff3400"/><stop offset="0.7719" stop-color="#ff4700"/><stop offset="0.8889" stop-color="#ff8000"/><stop offset="0.9181" stop-color="#ff8c00"/><stop offset="0.9766" stop-color="#ff9b00"/><stop offset="1" stop-color="#ff9b00"/></linearGradient>
<linearGradient id="s314" gradientUnits="userSpaceOnUse" x1="0" y1="18" x2="0" y2="189"><stop offset="0" stop-color="#ff9400"/><stop offset="0.0234" stop-color="#ff9400"/><stop offset="0.1287" stop-color="#ff5c00"/><stop offset="0.3626" stop-color="#ff3600"/><stop offset="0.5965" stop-color="#ff2e00"/><stop offset="0.7719" stop-color="#ff3e00"/><stop offset="0.9181" stop-color="#ff8500"/><stop offset="0.9766" stop-color="#ff9400"/><stop offset="1" stop-color="#ff9400"/></linearGradient>
<linearGradient id="s315" gradientUnits="userSpaceOnUse" x1="0" y1="18" x2="0" y2="189"><stop offset="0" stop-color="#ff9200"/><stop offset="0.0234" stop-color="#ff9200"/><stop offset="0.1287" stop-color="#ff5600"/><stop offset="0.2456" stop-color="#ff3f00"/><stop offset="0.3626" stop-color="#ff3100"/><stop offset="0.5965" stop-color="#ff2900"/><stop offset="0.7135" stop-color="#ff2f00"/><stop offset="0.7719" stop-color="#ff3900"/><stop offset="0.8596" stop-color="#ff5e00"/><stop offset="0.9181" stop-color="#ff7d00"/><stop offset="0.9766" stop-color="#ff8c00"/><stop offset="1" stop-color="#ff8c00"/></linearGradient>
<linearGradient id="s316" gradientUnits="userSpaceOnUse" x1="0" y1="18" x2="0" y2="189"><stop offset="0" stop-color="#ff9000"/><stop offset="0.0234" stop-color="#ff9000"/><stop offset="0.1287" stop-color="#ff5000"/><stop offset="0.2456" stop-color="#ff3400"/><stop offset="0.3626" stop-color="#ff2c00"/><stop offset="0.5965" stop-color="#ff2400"/><stop offset="0.7135" stop-color="#ff2400"/><stop offset="0.7719" stop-color="#ff3400"/><stop offset="0.8596" stop-color="#ff5300"/><stop offset="0.9181" stop-color="#ff7500"/><stop offset="0.9766" stop-color="#ff8400"/><stop offset="1" stop-color="#ff8400"/></linearGradient>
<linearGradient id="s317" gradientUnits="userSpaceOnUse" x1="0" y1="18" x2="0" y2="189"><stop offset="0" stop-color="#ff8a00"/><stop offset="0.0234" stop-color="#ff8a00"/><stop offset="0.1287" stop-color="#ff4500"/><stop offset="0.2456" stop-color="#ff2b00"/><stop offset="0.4795" stop-color="#ff2300"/><stop offset="0.7135" stop-color="#ff1e00"/><stop offset="0.8304" stop-color="#ff3e00"/><stop offset="0.8596" stop-color="#ff4800"/><stop offset="0.9181" stop-color="#ff6900"/><stop offset="0.9766" stop-color="#ff7800"/><stop offset="1" stop-color="#ff7800"/></linearGradient>
<linearGradient id="s318" gradientUnits="userSpaceOnUse" x1="0" y1="18" x2="0" y2="189"><stop offset="0" stop-color="#ff8000"/><stop offset="0.0234" stop-color="#ff8000"/><stop offset="0.1287" stop-color="#ff3500"/><stop offset="0.2456" stop-color="#ff2500"/><stop offset="0.7135" stop-color="#ff1c00"/><stop offset="0.8304" stop-color="#ff3100"/><stop offset="0.8596" stop-color="#ff3c00"/><stop offset="0.9181" stop-color="#ff5900"/><stop offset="0.9766" stop-color="#ff6800"/><stop offset="1" stop-color="#ff6800"/></linearGradient>
<linearGradient id="s319" gradientUnits="userSpaceOnUse" x1="0" y1="18" x2="0" y2="189"><stop offset="0" stop-color="#ff7600"/><stop offset="0.0234" stop-color="#ff7600"/><stop offset="0.1287" stop-color="#ff2500"/><stop offset="0.2456" stop-color="#ff1f00"/><stop offset="0.4795" stop-color="#ff1f00"/><stop offset="0.7135" stop-color="#ff1a00"/><stop offset="0.8304" stop-color="#ff2400"/><stop offset="0.9006" stop-color="#ff4300"/><stop offset="0.9766" stop-color="#ff5800"/><stop offset="1" stop-color="#ff5800"/></linearGradient>
<linearGradient id="s320" gradientUnits="userSpaceOnUse" x1="0" y1="18" x2="0" y2="189"><stop offset="0" stop-color="#ff6b00"/><stop offset="0.0234" stop-color="#ff6b00"/><stop offset="0.1287" stop-color="#ff2000"/><stop offset="0.2456" stop-color="#ff1d00"/><stop offset="0.4795" stop-color="#ff2100"/><stop offset="0.7135" stop-color="#ff2200"/><stop offset="0.8304" stop-color="#ff2b00"/><stop offset="0.9006" stop-color="#ff4400"/><stop offset="0.9766" stop-color="#ff5400"/><stop offset="1" stop-color="#ff5400"/></linearGradient>
<linearGradient id="s321" gradientUnits="userSpaceOnUse" x1="0" y1="18" x2="0" y2="189"><stop offset="0" stop-color="#ff6000"/><stop offset="0.0234" stop-color="#ff6000"/><stop offset="0.1287" stop-color="#ff1c00"/><stop offset="0.2456" stop-color="#ff1c00"/><stop offset="0.4795" stop-color="#ff2400"/><stop offset="0.7135" stop-color="#ff2a00"/><stop offset="0.8304" stop-color="#ff3400"/><stop offset="0.9006" stop-color="#ff4500"/><stop offset="0.9766" stop-color="#ff5100"/><stop offset="1" stop-color="#ff5100"/></linearGradient>
<linearGradient id="s322" gradientUnits="userSpaceOnUse" x1="0" y1="18" x2="0" y2="189"><stop offset="0" stop-color="#ff5500"/><stop offset="0.0234" stop-color="#ff5500"/><stop offset="0.1287" stop-color="#ff1800"/><stop offset="0.2456" stop-color="#ff1b00"/><stop offset="0.7135" stop-color="#ff3300"/><stop offset="0.8304" stop-color="#ff3c00"/><stop offset="0.9006" stop-color="#ff4600"/><stop offset="0.9766" stop-color="#ff4f00"/><stop offset="1" stop-color="#ff4f00"/></linearGradient>
<linearGradient id="s323" gradientUnits="userSpaceOnUse" x1="0" y1="18" x2="0" y2="189"><stop offset="0" stop-color="#ff4c00"/><stop offset="0.0234" stop-color="#ff4c00"/><stop offset="0.1287" stop-color="#ff1400"/><stop offset="0.2456" stop-color="#ff1a00"/><stop offset="0.9766" stop-color="#ff4c00"/><stop offset="1" stop-color="#ff4c00"/></linearGradient>
<linearGradient id="s324" gradientUnits="userSpaceOnUse" x1="0" y1="18" x2="0" y2="189"><stop offset="0" stop-color="#ff4c00"/><stop offset="0.0234" stop-color="#ff4c00"/><stop offset="0.1287" stop-color="#ff1400"/><stop offset="0.2456" stop-color="#ff1a00"/><stop offset="0.9766" stop-color="#ff4c00"/><stop offset="1" stop-color="#ff4c00"/></linearGradient>
<linearGradient id="s325" gradientUnits="userSpaceOnUse" x1="0" y1="18" x2="0" y2="189"><stop offset="0" stop-color="#ff4c00"/><stop offset="0.0234" stop-color="#ff4c00"/><stop offset="0.1287" stop-color="#ff1400"/><stop offset="0.2456" stop-color="#ff1a00"/><stop offset="0.9766" stop-color="#ff4c00"/><stop offset="1" stop-color="#ff4c00"/></linearGradient>
<filter id="f326" filterUnits="userSpaceOnUse" x="49.5" y="8" width="328.5" height="191" color-interpolation-filters="sRGB"><feGaussianBlur stdDeviation="4 0"/></filter>
<linearGradient id="s327" gradientUnits="userSpaceOnUse" x1="0" y1="30" x2="0" y2="130"><stop offset="0" stop-color="#ff8a00"/><stop offset="0.53" stop-color="#ff5e00"/><stop offset="0.8" stop-color="#ff4b00"/><stop offset="1" stop-color="#ff4300"/></linearGradient>
<linearGradient id="s328" gradientUnits="userSpaceOnUse" x1="0" y1="30" x2="0" y2="130"><stop offset="0" stop-color="#ff8a00"/><stop offset="0.53" stop-color="#ff5e00"/><stop offset="0.8" stop-color="#ff4b00"/><stop offset="1" stop-color="#ff4300"/></linearGradient>
<linearGradient id="s329" gradientUnits="userSpaceOnUse" x1="0" y1="30" x2="0" y2="130"><stop offset="0" stop-color="#ff8800"/><stop offset="0.56" stop-color="#ff5800"/><stop offset="0.79" stop-color="#ff4800"/><stop offset="1" stop-color="#ff4100"/></linearGradient>
<linearGradient id="s330" gradientUnits="userSpaceOnUse" x1="0" y1="30" x2="0" y2="130"><stop offset="0" stop-color="#ff8600"/><stop offset="0.5" stop-color="#ff5400"/><stop offset="0.65" stop-color="#ff4700"/><stop offset="0.78" stop-color="#ff4100"/><stop offset="1" stop-color="#ff3e00"/></linearGradient>
<linearGradient id="s331" gradientUnits="userSpaceOnUse" x1="0" y1="30" x2="0" y2="130"><stop offset="0" stop-color="#ff8300"/><stop offset="0.19" stop-color="#ff6f00"/><stop offset="0.52" stop-color="#ff4900"/><stop offset="0.63" stop-color="#ff3e00"/><stop offset="0.76" stop-color="#ff3900"/><stop offset="1" stop-color="#ff3b00"/></linearGradient>
<linearGradient id="s332" gradientUnits="userSpaceOnUse" x1="0" y1="30" x2="0" y2="130"><stop offset="0" stop-color="#ff8200"/><stop offset="0.21" stop-color="#ff6a00"/><stop offset="0.51" stop-color="#ff4100"/><stop offset="0.62" stop-color="#ff3600"/><stop offset="0.69" stop-color="#ff3300"/><stop offset="0.75" stop-color="#ff3200"/><stop offset="1" stop-color="#ff3800"/></linearGradient>
<linearGradient id="s333" gradientUnits="userSpaceOnUse" x1="0" y1="30" x2="0" y2="130"><stop offset="0" stop-color="#ff8100"/><stop offset="0.2" stop-color="#ff6a00"/><stop offset="0.5" stop-color="#ff3c00"/><stop offset="0.61" stop-color="#ff3000"/><stop offset="0.67" stop-color="#ff2d00"/><stop offset="0.74" stop-color="#ff2d00"/><stop offset="1" stop-color="#ff3700"/></linearGradient>
<linearGradient id="s334" gradientUnits="userSpaceOnUse" x1="0" y1="30" x2="0" y2="130"><stop offset="0" stop-color="#ff8100"/><stop offset="0.2" stop-color="#ff6b00"/><stop offset="0.49" stop-color="#ff3b00"/><stop offset="0.6" stop-color="#ff2d00"/><stop offset="0.65" stop-color="#ff2b00"/><stop offset="0.72" stop-color="#ff2b00"/><stop offset="1" stop-color="#ff3800"/></linearGradient>
<linearGradient id="s335" gradientUnits="userSpaceOnUse" x1="0" y1="30" x2="0" y2="130"><stop offset="0" stop-color="#ff8200"/><stop offset="0.12" stop-color="#ff7600"/><stop offset="0.2" stop-color="#ff6c00"/><stop offset="0.49" stop-color="#ff3b00"/><stop offset="0.55" stop-color="#ff3300"/><stop offset="0.6" stop-color="#ff2e00"/><stop offset="0.65" stop-color="#ff2d00"/><stop offset="0.7" stop-color="#ff2d00"/><stop offset="0.88" stop-color="#ff3700"/><stop offset="1" stop-color="#ff3b00"/></linearGradient>
<linearGradient id="s336" gradientUnits="userSpaceOnUse" x1="0" y1="30" x2="0" y2="130"><stop offset="0" stop-color="#ff8300"/><stop offset="0.11" stop-color="#ff7900"/><stop offset="0.21" stop-color="#ff6d00"/><stop offset="0.48" stop-color="#ff4100"/><stop offset="0.59" stop-color="#ff3500"/><stop offset="0.68" stop-color="#ff3300"/><stop offset="0.85" stop-color="#ff3c00"/><stop offset="1" stop-color="#ff3f00"/></linearGradient>
<linearGradient id="s337" gradientUnits="userSpaceOnUse" x1="0" y1="30" x2="0" y2="130"><stop offset="0" stop-color="#ff8400"/><stop offset="0.2" stop-color="#ff7100"/><stop offset="0.48" stop-color="#ff4800"/><stop offset="0.6" stop-color="#ff3c00"/><stop offset="0.68" stop-color="#ff3a00"/><stop offset="0.84" stop-color="#ff4200"/><stop offset="1" stop-color="#ff4400"/></linearGradient>
<linearGradient id="s338" gradientUnits="userSpaceOnUse" x1="0" y1="30" x2="0" y2="130"><stop offset="0" stop-color="#ff8400"/><stop offset="0.2" stop-color="#ff7300"/><stop offset="0.47" stop-color="#ff5100"/><stop offset="0.58" stop-color="#ff4800"/><stop offset="0.67" stop-color="#ff4500"/><stop offset="0.85" stop-color="#ff4900"/><stop offset="1" stop-color="#ff4900"/></linearGradient>
<linearGradient id="s339" gradientUnits="userSpaceOnUse" x1="0" y1="30" x2="0" y2="130"><stop offset="0" stop-color="#ff8500"/><stop offset="0.22" stop-color="#ff7600"/><stop offset="0.46" stop-color="#ff5c00"/><stop offset="0.55" stop-color="#ff5500"/><stop offset="0.63" stop-color="#ff5200"/><stop offset="1" stop-color="#ff4d00"/></linearGradient>
<linearGradient id="s340" gradientUnits="userSpaceOnUse" x1="0" y1="30" x2="0" y2="130"><stop offset="0" stop-color="#ff8600"/><stop offset="0.27" stop-color="#ff7800"/><stop offset="0.46" stop-color="#ff6600"/><stop offset="0.55" stop-color="#ff6000"/><stop offset="1" stop-color="#ff5200"/></linearGradient>
<linearGradient id="s341" gradientUnits="userSpaceOnUse" x1="0" y1="30" x2="0" y2="130"><stop offset="0" stop-color="#ff8600"/><stop offset="0.32" stop-color="#ff7d00"/><stop offset="0.58" stop-color="#ff6800"/><stop offset="1" stop-color="#ff5600"/></linearGradient>
<linearGradient id="s342" gradientUnits="userSpaceOnUse" x1="0" y1="30" x2="0" y2="130"><stop offset="0" stop-color="#ff8700"/><stop offset="0.1" stop-color="#ff8400"/><stop offset="0.35" stop-color="#ff8200"/><stop offset="0.64" stop-color="#ff6c00"/><stop offset="1" stop-color="#ff5a00"/></linearGradient>
<linearGradient id="s343" gradientUnits="userSpaceOnUse" x1="0" y1="30" x2="0" y2="130"><stop offset="0" stop-color="#ff8800"/><stop offset="0.1" stop-color="#ff8500"/><stop offset="0.28" stop-color="#ff8600"/><stop offset="0.37" stop-color="#ff8400"/><stop offset="0.77" stop-color="#ff6900"/><stop offset="1" stop-color="#ff5d00"/></linearGradient>
<linearGradient id="s344" gradientUnits="userSpaceOnUse" x1="0" y1="30" x2="0" y2="130"><stop offset="0" stop-color="#ff8800"/><stop offset="0.1" stop-color="#ff8500"/><stop offset="0.28" stop-color="#ff8600"/><stop offset="0.37" stop-color="#ff8400"/><stop offset="0.77" stop-color="#ff6900"/><stop offset="1" stop-color="#ff5d00"/></linearGradient>
<linearGradient id="s345" gradientUnits="userSpaceOnUse" x1="0" y1="30" x2="0" y2="130"><stop offset="0" stop-color="#ff8800"/><stop offset="0.1" stop-color="#ff8500"/><stop offset="0.28" stop-color="#ff8600"/><stop offset="0.37" stop-color="#ff8400"/><stop offset="0.77" stop-color="#ff6900"/><stop offset="1" stop-color="#ff5d00"/></linearGradient>
<filter id="f346" filterUnits="userSpaceOnUse" x="390" y="20" width="168" height="120" color-interpolation-filters="sRGB"><feGaussianBlur stdDeviation="4 0"/></filter>
<linearGradient id="s347" gradientUnits="userSpaceOnUse" x1="0" y1="18" x2="0" y2="90"><stop offset="0" stop-color="#ff9300"/><stop offset="0.3333" stop-color="#ff8500"/><stop offset="0.5" stop-color="#ff8000"/><stop offset="0.6667" stop-color="#ff7e00"/><stop offset="1" stop-color="#ff7f00"/></linearGradient>
<linearGradient id="s348" gradientUnits="userSpaceOnUse" x1="0" y1="18" x2="0" y2="90"><stop offset="0" stop-color="#ff9300"/><stop offset="0.3333" stop-color="#ff8500"/><stop offset="0.5" stop-color="#ff8000"/><stop offset="0.6667" stop-color="#ff7e00"/><stop offset="1" stop-color="#ff7f00"/></linearGradient>
<linearGradient id="s349" gradientUnits="userSpaceOnUse" x1="0" y1="18" x2="0" y2="90"><stop offset="0" stop-color="#ff9500"/><stop offset="0.3611" stop-color="#ff8500"/><stop offset="0.5139" stop-color="#ff8100"/><stop offset="0.6806" stop-color="#ff7f00"/><stop offset="1" stop-color="#ff7f00"/></linearGradient>
<linearGradient id="s350" gradientUnits="userSpaceOnUse" x1="0" y1="18" x2="0" y2="90"><stop offset="0" stop-color="#ff9a00"/><stop offset="0.3889" stop-color="#ff8700"/><stop offset="0.5417" stop-color="#ff8100"/><stop offset="0.6944" stop-color="#ff7f00"/><stop offset="1" stop-color="#ff7f00"/></linearGradient>
<linearGradient id="s351" gradientUnits="userSpaceOnUse" x1="0" y1="18" x2="0" y2="90"><stop offset="0" stop-color="#ffa000"/><stop offset="0.1528" stop-color="#ff9900"/><stop offset="0.4306" stop-color="#ff8900"/><stop offset="0.5833" stop-color="#ff8300"/><stop offset="0.7361" stop-color="#ff8000"/><stop offset="1" stop-color="#ff7f00"/></linearGradient>
<linearGradient id="s352" gradientUnits="userSpaceOnUse" x1="0" y1="18" x2="0" y2="90"><stop offset="0" stop-color="#ffa600"/><stop offset="0.1944" stop-color="#ff9f00"/><stop offset="0.625" stop-color="#ff8600"/><stop offset="0.7778" stop-color="#ff8200"/><stop offset="1" stop-color="#ff8100"/></linearGradient>
<linearGradient id="s353" gradientUnits="userSpaceOnUse" x1="0" y1="18" x2="0" y2="90"><stop offset="0" stop-color="#ffab00"/><stop offset="0.2083" stop-color="#ffa600"/><stop offset="0.5278" stop-color="#ff9200"/><stop offset="0.6944" stop-color="#ff8900"/><stop offset="0.8056" stop-color="#ff8600"/><stop offset="1" stop-color="#ff8300"/></linearGradient>
<linearGradient id="s354" gradientUnits="userSpaceOnUse" x1="0" y1="18" x2="0" y2="90"><stop offset="0" stop-color="#ffae00"/><stop offset="0.1806" stop-color="#ffad00"/><stop offset="0.6528" stop-color="#ff9300"/><stop offset="1" stop-color="#ff8700"/></linearGradient>
<linearGradient id="s355" gradientUnits="userSpaceOnUse" x1="0" y1="18" x2="0" y2="90"><stop offset="0" stop-color="#ffae00"/><stop offset="0.1667" stop-color="#ffad00"/><stop offset="0.2639" stop-color="#ffab00"/><stop offset="1" stop-color="#ff8a00"/></linearGradient>
<linearGradient id="s356" gradientUnits="userSpaceOnUse" x1="0" y1="18" x2="0" y2="90"><stop offset="0" stop-color="#ffae00"/><stop offset="0.1944" stop-color="#ffad00"/><stop offset="0.3194" stop-color="#ffa900"/><stop offset="1" stop-color="#ff8b00"/></linearGradient>
<linearGradient id="s357" gradientUnits="userSpaceOnUse" x1="0" y1="18" x2="0" y2="90"><stop offset="0" stop-color="#ffae00"/><stop offset="0.1944" stop-color="#ffad00"/><stop offset="0.3194" stop-color="#ffa900"/><stop offset="1" stop-color="#ff8b00"/></linearGradient>
<filter id="f358" filterUnits="userSpaceOnUse" x="510" y="8" width="107.5" height="92" color-interpolation-filters="sRGB"><feGaussianBlur stdDeviation="4 0"/></filter>
<clipPath id="c359"><rect x="591.5" y="186.5" width="220.5" height="386.5"/></clipPath>
<clipPath id="c360"><path d="M585.0 180.0 L816.0 180.0 L814.0 263.0 L757.3 263.0 L751.0 265.0 L742.6 264.0 L736.4 261.0 L725.9 262.0 L717.5 261.0 L711.2 255.7 L707.0 252.6 L696.6 252.6 L690.3 255.7 L682.0 258.8 L675.7 265.0 L670.5 270.3 L665.2 274.5 L659.0 276.0 L654.8 278.7 L647.4 278.7 L644.3 276.6 L636.0 276.6 L625.5 278.7 L619.0 280.8 L613.0 284.0 L606.6 288.0 L590.0 288.1Z"/></clipPath>
<clipPath id="c361"><path d="M585.0 580.0 L816.0 580.0 L814.0 338.9 L809.6 341.1 L806.2 346.6 L804.0 348.8 L799.6 349.0 L796.3 352.2 L791.8 356.6 L789.6 364.4 L786.3 371.0 L784.0 377.7 L780.7 379.9 L777.4 381.6 L775.7 384.3 L771.8 384.6 L769.6 382.1 L767.4 379.9 L761.9 378.8 L760.0 379.4 L757.5 381.6 L755.0 379.4 L750.8 376.0 L744.0 374.0 L737.0 378.7 L727.0 381.0 L717.0 386.0 L709.4 382.0 L704.4 383.0 L696.8 391.0 L689.3 392.0 L674.0 387.0 L671.0 385.0 L661.0 382.0 L655.0 383.0 L647.0 385.0 L639.0 381.0 L633.0 381.0 L627.0 378.0 L619.0 379.0 L612.0 373.0 L607.0 371.0 L598.0 374.0 L590.0 371.0Z"/></clipPath>
<clipPath id="c362"><path d="M814.0 338.9 L809.6 341.1 L806.2 346.6 L804.0 348.8 L799.6 349.0 L796.3 352.2 L791.8 356.6 L789.6 364.4 L786.3 371.0 L784.0 377.7 L780.7 379.9 L777.4 381.6 L775.7 384.3 L771.8 384.6 L769.6 382.1 L767.4 379.9 L761.9 378.8 L760.0 379.4 L757.5 381.6 L755.0 379.4 L753.0 375.0 L765.0 370.0 L780.0 360.0 L795.0 330.0 L814.0 325.0Z"/></clipPath>
<linearGradient id="s363" gradientUnits="userSpaceOnUse" x1="0" y1="245" x2="0" y2="400"><stop offset="0" stop-color="#00f0ff"/><stop offset="0.2774" stop-color="#00f0ff"/><stop offset="0.2968" stop-color="#00ffff"/><stop offset="0.3548" stop-color="#2effd1"/><stop offset="0.4323" stop-color="#80ff80"/><stop offset="0.5161" stop-color="#c7ff38"/><stop offset="0.5742" stop-color="#fdff02"/><stop offset="0.5806" stop-color="#fffb00"/><stop offset="0.6774" stop-color="#ffa300"/><stop offset="0.7613" stop-color="#ff8000"/><stop offset="0.8194" stop-color="#ff7500"/><stop offset="1" stop-color="#ff7500"/></linearGradient>
<linearGradient id="s364" gradientUnits="userSpaceOnUse" x1="0" y1="245" x2="0" y2="400"><stop offset="0" stop-color="#00f0ff"/><stop offset="0.2774" stop-color="#00f0ff"/><stop offset="0.2968" stop-color="#00ffff"/><stop offset="0.3548" stop-color="#2effd1"/><stop offset="0.4323" stop-color="#80ff80"/><stop offset="0.5161" stop-color="#c7ff38"/><stop offset="0.5742" stop-color="#fdff02"/><stop offset="0.5806" stop-color="#fffb00"/><stop offset="0.6774" stop-color="#ffa300"/><stop offset="0.7613" stop-color="#ff8000"/><stop offset="0.8194" stop-color="#ff7500"/><stop offset="1" stop-color="#ff7500"/></linearGradient>
<linearGradient id="s365" gradientUnits="userSpaceOnUse" x1="0" y1="245" x2="0" y2="400"><stop offset="0" stop-color="#00eeff"/><stop offset="0.2516" stop-color="#00eeff"/><stop offset="0.2774" stop-color="#00f1ff"/><stop offset="0.2968" stop-color="#01fffe"/><stop offset="0.3548" stop-color="#30ffcf"/><stop offset="0.4323" stop-color="#82ff7d"/><stop offset="0.5161" stop-color="#cbff34"/><stop offset="0.5677" stop-color="#fcff03"/><stop offset="0.5742" stop-color="#fffc00"/><stop offset="0.6129" stop-color="#ffd800"/><stop offset="0.6774" stop-color="#ffa000"/><stop offset="0.7613" stop-color="#ff7c00"/><stop offset="0.8194" stop-color="#ff7000"/><stop offset="0.8323" stop-color="#ff6f00"/><stop offset="1" stop-color="#ff6f00"/></linearGradient>
<linearGradient id="s366" gradientUnits="userSpaceOnUse" x1="0" y1="245" x2="0" y2="400"><stop offset="0" stop-color="#00ebff"/><stop offset="0.2516" stop-color="#00ebff"/><stop offset="0.2774" stop-color="#00f3ff"/><stop offset="0.2903" stop-color="#00fcff"/><stop offset="0.2968" stop-color="#03fffc"/><stop offset="0.3548" stop-color="#37ffc8"/><stop offset="0.4323" stop-color="#87ff78"/><stop offset="0.5548" stop-color="#fbff04"/><stop offset="0.5613" stop-color="#fffd00"/><stop offset="0.6129" stop-color="#ffcb00"/><stop offset="0.6774" stop-color="#ff9900"/><stop offset="0.7613" stop-color="#ff7500"/><stop offset="0.8323" stop-color="#ff6000"/><stop offset="1" stop-color="#ff6000"/></linearGradient>
<linearGradient id="s367" gradientUnits="userSpaceOnUse" x1="0" y1="245" x2="0" y2="400"><stop offset="0" stop-color="#00e8ff"/><stop offset="0.2516" stop-color="#00e8ff"/><stop offset="0.2774" stop-color="#00f5ff"/><stop offset="0.2903" stop-color="#00feff"/><stop offset="0.3548" stop-color="#3dffc2"/><stop offset="0.4323" stop-color="#8dff72"/><stop offset="0.5484" stop-color="#ffff00"/><stop offset="0.6129" stop-color="#ffbe00"/><stop offset="0.6774" stop-color="#ff9300"/><stop offset="0.8194" stop-color="#ff5500"/><stop offset="0.8323" stop-color="#ff5000"/><stop offset="1" stop-color="#ff5000"/></linearGradient>
<linearGradient id="s368" gradientUnits="userSpaceOnUse" x1="0" y1="245" x2="0" y2="400"><stop offset="0" stop-color="#00e5ff"/><stop offset="0.2516" stop-color="#00e6ff"/><stop offset="0.2903" stop-color="#00ffff"/><stop offset="0.5355" stop-color="#fbff04"/><stop offset="0.5419" stop-color="#fffc00"/><stop offset="0.6129" stop-color="#ffb300"/><stop offset="0.6903" stop-color="#ff8400"/><stop offset="0.7742" stop-color="#ff6000"/><stop offset="0.8323" stop-color="#ff4000"/><stop offset="1" stop-color="#ff3f00"/></linearGradient>
<linearGradient id="s369" gradientUnits="userSpaceOnUse" x1="0" y1="245" x2="0" y2="400"><stop offset="0" stop-color="#00e5ff"/><stop offset="0.2258" stop-color="#00e5ff"/><stop offset="0.2516" stop-color="#00edff"/><stop offset="0.2903" stop-color="#00ffff"/><stop offset="0.5419" stop-color="#fbff04"/><stop offset="0.5484" stop-color="#fffc00"/><stop offset="0.6129" stop-color="#ffbc00"/><stop offset="0.6774" stop-color="#ff8300"/><stop offset="0.7742" stop-color="#ff5200"/><stop offset="0.8323" stop-color="#ff2500"/><stop offset="0.871" stop-color="#ff1d00"/><stop offset="1" stop-color="#ff1d00"/></linearGradient>
<linearGradient id="s370" gradientUnits="userSpaceOnUse" x1="0" y1="245" x2="0" y2="400"><stop offset="0" stop-color="#00e3ff"/><stop offset="0.2258" stop-color="#00e4ff"/><stop offset="0.2903" stop-color="#00fdff"/><stop offset="0.2968" stop-color="#04fffb"/><stop offset="0.5806" stop-color="#faff05"/><stop offset="0.5871" stop-color="#fffe00"/><stop offset="0.6774" stop-color="#ffb000"/><stop offset="0.7742" stop-color="#ff8300"/><stop offset="0.8323" stop-color="#ff5600"/><stop offset="0.871" stop-color="#ff4d00"/><stop offset="1" stop-color="#ff4d00"/></linearGradient>
<linearGradient id="s371" gradientUnits="userSpaceOnUse" x1="0" y1="245" x2="0" y2="400"><stop offset="0" stop-color="#00dfff"/><stop offset="0.2065" stop-color="#00dfff"/><stop offset="0.2258" stop-color="#00e2ff"/><stop offset="0.2903" stop-color="#00faff"/><stop offset="0.2968" stop-color="#00feff"/><stop offset="0.6774" stop-color="#fcff03"/><stop offset="0.6839" stop-color="#feff01"/><stop offset="0.7742" stop-color="#ffe000"/><stop offset="0.8323" stop-color="#ffbd00"/><stop offset="0.871" stop-color="#ffb600"/><stop offset="1" stop-color="#ffb600"/></linearGradient>
<linearGradient id="s372" gradientUnits="userSpaceOnUse" x1="0" y1="245" x2="0" y2="400"><stop offset="0" stop-color="#00dbff"/><stop offset="0.2065" stop-color="#00dbff"/><stop offset="0.2258" stop-color="#00dfff"/><stop offset="0.2774" stop-color="#00f4ff"/><stop offset="0.2903" stop-color="#00f7ff"/><stop offset="0.3097" stop-color="#01fffe"/><stop offset="0.6774" stop-color="#aaff55"/><stop offset="0.7742" stop-color="#c2ff3d"/><stop offset="0.8323" stop-color="#d9ff26"/><stop offset="0.871" stop-color="#deff21"/><stop offset="1" stop-color="#deff21"/></linearGradient>
<linearGradient id="s373" gradientUnits="userSpaceOnUse" x1="0" y1="245" x2="0" y2="400"><stop offset="0" stop-color="#00d6ff"/><stop offset="0.2065" stop-color="#00d6ff"/><stop offset="0.2774" stop-color="#00f2ff"/><stop offset="0.3355" stop-color="#00ffff"/><stop offset="0.6774" stop-color="#58ffa7"/><stop offset="0.7742" stop-color="#65ff9a"/><stop offset="0.8323" stop-color="#72ff8d"/><stop offset="0.871" stop-color="#75ff8a"/><stop offset="1" stop-color="#75ff8a"/></linearGradient>
<linearGradient id="s374" gradientUnits="userSpaceOnUse" x1="0" y1="245" x2="0" y2="400"><stop offset="0" stop-color="#00d2ff"/><stop offset="0.2065" stop-color="#00d2ff"/><stop offset="0.2774" stop-color="#00f0ff"/><stop offset="0.5742" stop-color="#00ffff"/><stop offset="0.8323" stop-color="#0bfff4"/><stop offset="1" stop-color="#0bfff4"/></linearGradient>
<linearGradient id="s375" gradientUnits="userSpaceOnUse" x1="0" y1="245" x2="0" y2="400"><stop offset="0" stop-color="#00d1ff"/><stop offset="0.2065" stop-color="#00d4ff"/><stop offset="0.2774" stop-color="#00f0ff"/><stop offset="1" stop-color="#00f0ff"/></linearGradient>
<linearGradient id="s376" gradientUnits="userSpaceOnUse" x1="0" y1="245" x2="0" y2="400"><stop offset="0" stop-color="#00d1ff"/><stop offset="0.0516" stop-color="#00d1ff"/><stop offset="0.2065" stop-color="#00d7ff"/><stop offset="0.2774" stop-color="#00f1ff"/><stop offset="1" stop-color="#00f1ff"/></linearGradient>
<linearGradient id="s377" gradientUnits="userSpaceOnUse" x1="0" y1="245" x2="0" y2="400"><stop offset="0" stop-color="#00d1ff"/><stop offset="0.0516" stop-color="#00d1ff"/><stop offset="0.2065" stop-color="#00dbff"/><stop offset="0.2774" stop-color="#00f1ff"/><stop offset="1" stop-color="#00f1ff"/></linearGradient>
<linearGradient id="s378" gradientUnits="userSpaceOnUse" x1="0" y1="245" x2="0" y2="400"><stop offset="0" stop-color="#00d1ff"/><stop offset="0.0516" stop-color="#00d1ff"/><stop offset="0.2065" stop-color="#00deff"/><stop offset="0.2387" stop-color="#00e9ff"/><stop offset="0.2774" stop-color="#00f2ff"/><stop offset="1" stop-color="#00f2ff"/></linearGradient>
<linearGradient id="s379" gradientUnits="userSpaceOnUse" x1="0" y1="245" x2="0" y2="400"><stop offset="0" stop-color="#00d1ff"/><stop offset="0.0516" stop-color="#00d1ff"/><stop offset="0.2065" stop-color="#00e2ff"/><stop offset="0.2387" stop-color="#00ebff"/><stop offset="0.2774" stop-color="#00f3ff"/><stop offset="1" stop-color="#00f3ff"/></linearGradient>
<linearGradient id="s380" gradientUnits="userSpaceOnUse" x1="0" y1="245" x2="0" y2="400"><stop offset="0" stop-color="#00d1ff"/><stop offset="0.0516" stop-color="#00d1ff"/><stop offset="0.2065" stop-color="#00e5ff"/><stop offset="0.2387" stop-color="#00eeff"/><stop offset="0.2774" stop-color="#00f3ff"/><stop offset="1" stop-color="#00f3ff"/></linearGradient>
<linearGradient id="s381" gradientUnits="userSpaceOnUse" x1="0" y1="245" x2="0" y2="400"><stop offset="0" stop-color="#00d1ff"/><stop offset="0.0516" stop-color="#00d1ff"/><stop offset="0.2065" stop-color="#00e9ff"/><stop offset="0.2387" stop-color="#00f1ff"/><stop offset="0.2774" stop-color="#00f4ff"/><stop offset="1" stop-color="#00f4ff"/></linearGradient>
<linearGradient id="s382" gradientUnits="userSpaceOnUse" x1="0" y1="245" x2="0" y2="400"><stop offset="0" stop-color="#00d1ff"/><stop offset="0.0516" stop-color="#00d1ff"/><stop offset="0.2387" stop-color="#00f3ff"/><stop offset="1" stop-color="#00f4ff"/></linearGradient>
<linearGradient id="s383" gradientUnits="userSpaceOnUse" x1="0" y1="245" x2="0" y2="400"><stop offset="0" stop-color="#00d1ff"/><stop offset="0.0516" stop-color="#00d1ff"/><stop offset="0.2387" stop-color="#00f4ff"/><stop offset="1" stop-color="#00f4ff"/></linearGradient>
<linearGradient id="s384" gradientUnits="userSpaceOnUse" x1="0" y1="245" x2="0" y2="400"><stop offset="0" stop-color="#00d1ff"/><stop offset="0.0516" stop-color="#00d1ff"/><stop offset="0.1161" stop-color="#00dbff"/><stop offset="0.1742" stop-color="#00e8ff"/><stop offset="0.2387" stop-color="#00f2ff"/><stop offset="1" stop-color="#00f2ff"/></linearGradient>
<linearGradient id="s385" gradientUnits="userSpaceOnUse" x1="0" y1="245" x2="0" y2="400"><stop offset="0" stop-color="#00d1ff"/><stop offset="0.0516" stop-color="#00d1ff"/><stop offset="0.1161" stop-color="#00d9ff"/><stop offset="0.1742" stop-color="#00e7ff"/><stop offset="0.2387" stop-color="#00efff"/><stop offset="1" stop-color="#00efff"/></linearGradient>
<linearGradient id="s386" gradientUnits="userSpaceOnUse" x1="0" y1="245" x2="0" y2="400"><stop offset="0" stop-color="#00d1ff"/><stop offset="0.0516" stop-color="#00d1ff"/><stop offset="0.1161" stop-color="#00d7ff"/><stop offset="0.1742" stop-color="#00e7ff"/><stop offset="0.2387" stop-color="#00edff"/><stop offset="1" stop-color="#00edff"/></linearGradient>
<linearGradient id="s387" gradientUnits="userSpaceOnUse" x1="0" y1="245" x2="0" y2="400"><stop offset="0" stop-color="#00d1ff"/><stop offset="0.0516" stop-color="#00d1ff"/><stop offset="0.1161" stop-color="#00d5ff"/><stop offset="0.1742" stop-color="#00e6ff"/><stop offset="0.2387" stop-color="#00ebff"/><stop offset="1" stop-color="#00ebff"/></linearGradient>
<linearGradient id="s388" gradientUnits="userSpaceOnUse" x1="0" y1="245" x2="0" y2="400"><stop offset="0" stop-color="#00d1ff"/><stop offset="0.1161" stop-color="#00d3ff"/><stop offset="0.1742" stop-color="#00e6ff"/><stop offset="0.2387" stop-color="#00e8ff"/><stop offset="1" stop-color="#00e8ff"/></linearGradient>
<linearGradient id="s389" gradientUnits="userSpaceOnUse" x1="0" y1="245" x2="0" y2="400"><stop offset="0" stop-color="#00d1ff"/><stop offset="0.1161" stop-color="#00d2ff"/><stop offset="0.1742" stop-color="#00e6ff"/><stop offset="1" stop-color="#00e6ff"/></linearGradient>
<linearGradient id="s390" gradientUnits="userSpaceOnUse" x1="0" y1="245" x2="0" y2="400"><stop offset="0" stop-color="#00d1ff"/><stop offset="0.1161" stop-color="#00d1ff"/><stop offset="0.1742" stop-color="#00e5ff"/><stop offset="1" stop-color="#00e5ff"/></linearGradient>
<linearGradient id="s391" gradientUnits="userSpaceOnUse" x1="0" y1="245" x2="0" y2="400"><stop offset="0" stop-color="#00d1ff"/><stop offset="0.1161" stop-color="#00d1ff"/><stop offset="0.1742" stop-color="#00e4ff"/><stop offset="1" stop-color="#00e4ff"/></linearGradient>
<linearGradient id="s392" gradientUnits="userSpaceOnUse" x1="0" y1="245" x2="0" y2="400"><stop offset="0" stop-color="#00d1ff"/><stop offset="0.1161" stop-color="#00d1ff"/><stop offset="0.1742" stop-color="#00e3ff"/><stop offset="1" stop-color="#00e3ff"/></linearGradient>
<linearGradient id="s393" gradientUnits="userSpaceOnUse" x1="0" y1="245" x2="0" y2="400"><stop offset="0" stop-color="#00d1ff"/><stop offset="0.1161" stop-color="#00d1ff"/><stop offset="0.1742" stop-color="#00e2ff"/><stop offset="1" stop-color="#00e2ff"/></linearGradient>
<linearGradient id="s394" gradientUnits="userSpaceOnUse" x1="0" y1="245" x2="0" y2="400"><stop offset="0" stop-color="#00d1ff"/><stop offset="0.1161" stop-color="#00d1ff"/><stop offset="0.1742" stop-color="#00e1ff"/><stop offset="1" stop-color="#00e1ff"/></linearGradient>
<linearGradient id="s395" gradientUnits="userSpaceOnUse" x1="0" y1="245" x2="0" y2="400"><stop offset="0" stop-color="#00d3ff"/><stop offset="0.1161" stop-color="#00d3ff"/><stop offset="0.1742" stop-color="#00ddff"/><stop offset="0.1935" stop-color="#00deff"/><stop offset="0.2258" stop-color="#00e4ff"/><stop offset="0.3097" stop-color="#00feff"/><stop offset="0.3742" stop-color="#15ffea"/><stop offset="0.4581" stop-color="#3bffc4"/><stop offset="1" stop-color="#3bffc4"/></linearGradient>
<linearGradient id="s396" gradientUnits="userSpaceOnUse" x1="0" y1="245" x2="0" y2="400"><stop offset="0" stop-color="#00d6ff"/><stop offset="0.1161" stop-color="#00d6ff"/><stop offset="0.1935" stop-color="#00daff"/><stop offset="0.2258" stop-color="#00e9ff"/><stop offset="0.2581" stop-color="#01fffe"/><stop offset="0.2903" stop-color="#17ffe8"/><stop offset="0.3742" stop-color="#5affa5"/><stop offset="0.4129" stop-color="#87ff78"/><stop offset="0.4581" stop-color="#b3ff4c"/><stop offset="1" stop-color="#b3ff4c"/></linearGradient>
<linearGradient id="s397" gradientUnits="userSpaceOnUse" x1="0" y1="245" x2="0" y2="400"><stop offset="0" stop-color="#00d6ff"/><stop offset="0.1161" stop-color="#00d6ff"/><stop offset="0.1935" stop-color="#00d9ff"/><stop offset="0.2258" stop-color="#00ebff"/><stop offset="0.2516" stop-color="#00ffff"/><stop offset="0.2903" stop-color="#1fffe0"/><stop offset="0.3742" stop-color="#6bff94"/><stop offset="0.4129" stop-color="#9eff61"/><stop offset="0.4581" stop-color="#d1ff2e"/><stop offset="1" stop-color="#d1ff2e"/></linearGradient>
<linearGradient id="s398" gradientUnits="userSpaceOnUse" x1="0" y1="245" x2="0" y2="400"><stop offset="0" stop-color="#00d6ff"/><stop offset="0.1161" stop-color="#00d6ff"/><stop offset="0.1935" stop-color="#00d9ff"/><stop offset="0.2258" stop-color="#00ebff"/><stop offset="0.2516" stop-color="#00ffff"/><stop offset="0.2903" stop-color="#1fffe0"/><stop offset="0.3742" stop-color="#6bff94"/><stop offset="0.4129" stop-color="#9eff61"/><stop offset="0.4581" stop-color="#d1ff2e"/><stop offset="1" stop-color="#d1ff2e"/></linearGradient>
<linearGradient id="s399" gradientUnits="userSpaceOnUse" x1="0" y1="245" x2="0" y2="400"><stop offset="0" stop-color="#00d6ff"/><stop offset="0.1161" stop-color="#00d6ff"/><stop offset="0.1935" stop-color="#00d9ff"/><stop offset="0.2258" stop-color="#00ebff"/><stop offset="0.2516" stop-color="#00ffff"/><stop offset="0.2903" stop-color="#1fffe0"/><stop offset="0.3742" stop-color="#6bff94"/><stop offset="0.4129" stop-color="#9eff61"/><stop offset="0.4581" stop-color="#d1ff2e"/><stop offset="1" stop-color="#d1ff2e"/></linearGradient>
<linearGradient id="s400" gradientUnits="userSpaceOnUse" x1="0" y1="245" x2="0" y2="400"><stop offset="0" stop-color="#00d6ff"/><stop offset="0.1161" stop-color="#00d6ff"/><stop offset="0.1935" stop-color="#00d9ff"/><stop offset="0.2258" stop-color="#00ebff"/><stop offset="0.2516" stop-color="#00ffff"/><stop offset="0.2903" stop-color="#1fffe0"/><stop offset="0.3742" stop-color="#6bff94"/><stop offset="0.4129" stop-color="#9eff61"/><stop offset="0.4581" stop-color="#d1ff2e"/><stop offset="1" stop-color="#d1ff2e"/></linearGradient>
<linearGradient id="s401" gradientUnits="userSpaceOnUse" x1="0" y1="245" x2="0" y2="400"><stop offset="0" stop-color="#00d6ff"/><stop offset="0.1161" stop-color="#00d6ff"/><stop offset="0.1935" stop-color="#00d9ff"/><stop offset="0.2258" stop-color="#00ebff"/><stop offset="0.2516" stop-color="#00ffff"/><stop offset="0.2903" stop-color="#1fffe0"/><stop offset="0.3742" stop-color="#6bff94"/><stop offset="0.4129" stop-color="#9eff61"/><stop offset="0.4581" stop-color="#d1ff2e"/><stop offset="1" stop-color="#d1ff2e"/></linearGradient>
<linearGradient id="s402" gradientUnits="userSpaceOnUse" x1="0" y1="245" x2="0" y2="400"><stop offset="0" stop-color="#00d6ff"/><stop offset="0.1161" stop-color="#00d6ff"/><stop offset="0.1935" stop-color="#00d9ff"/><stop offset="0.2258" stop-color="#00ebff"/><stop offset="0.2516" stop-color="#00ffff"/><stop offset="0.2903" stop-color="#1fffe0"/><stop offset="0.3742" stop-color="#6bff94"/><stop offset="0.4129" stop-color="#9eff61"/><stop offset="0.4581" stop-color="#d1ff2e"/><stop offset="1" stop-color="#d1ff2e"/></linearGradient>
<linearGradient id="s403" gradientUnits="userSpaceOnUse" x1="0" y1="245" x2="0" y2="400"><stop offset="0" stop-color="#00d6ff"/><stop offset="0.1161" stop-color="#00d6ff"/><stop offset="0.1935" stop-color="#00d9ff"/><stop offset="0.2258" stop-color="#00ebff"/><stop offset="0.2516" stop-color="#00ffff"/><stop offset="0.2903" stop-color="#1fffe0"/><stop offset="0.3742" stop-color="#6bff94"/><stop offset="0.4129" stop-color="#9eff61"/><stop offset="0.4581" stop-color="#d1ff2e"/><stop offset="1" stop-color="#d1ff2e"/></linearGradient>
<filter id="f404" filterUnits="userSpaceOnUse" x="569.5" y="235" width="264.5" height="175" color-interpolation-filters="sRGB"><feGaussianBlur stdDeviation="3 0"/></filter>
<linearGradient id="s405" gradientUnits="userSpaceOnUse" x1="0" y1="325" x2="0" y2="575.5"><stop offset="0" stop-color="#9eff61"/><stop offset="0.024" stop-color="#9eff61"/><stop offset="0.0798" stop-color="#a8ff57"/><stop offset="0.1996" stop-color="#e5ff1a"/><stop offset="0.2355" stop-color="#ffff00"/><stop offset="0.3792" stop-color="#ffed00"/><stop offset="0.4591" stop-color="#ffe800"/><stop offset="0.6188" stop-color="#ffe300"/><stop offset="1" stop-color="#ffe200"/></linearGradient>
<linearGradient id="s406" gradientUnits="userSpaceOnUse" x1="0" y1="325" x2="0" y2="575.5"><stop offset="0" stop-color="#9eff61"/><stop offset="0.024" stop-color="#9eff61"/><stop offset="0.0798" stop-color="#a8ff57"/><stop offset="0.1996" stop-color="#e5ff1a"/><stop offset="0.2355" stop-color="#ffff00"/><stop offset="0.3792" stop-color="#ffed00"/><stop offset="0.4591" stop-color="#ffe800"/><stop offset="0.6188" stop-color="#ffe300"/><stop offset="1" stop-color="#ffe200"/></linearGradient>
<linearGradient id="s407" gradientUnits="userSpaceOnUse" x1="0" y1="325" x2="0" y2="575.5"><stop offset="0" stop-color="#9eff61"/><stop offset="0.024" stop-color="#9eff61"/><stop offset="0.0798" stop-color="#a8ff57"/><stop offset="0.1996" stop-color="#e5ff1a"/><stop offset="0.2355" stop-color="#ffff00"/><stop offset="0.3792" stop-color="#ffed00"/><stop offset="0.4591" stop-color="#ffe800"/><stop offset="0.6188" stop-color="#ffe300"/><stop offset="1" stop-color="#ffe200"/></linearGradient>
<linearGradient id="s408" gradientUnits="userSpaceOnUse" x1="0" y1="325" x2="0" y2="575.5"><stop offset="0" stop-color="#9eff61"/><stop offset="0.024" stop-color="#9eff61"/><stop offset="0.0798" stop-color="#a8ff57"/><stop offset="0.1996" stop-color="#e5ff1a"/><stop offset="0.2355" stop-color="#ffff00"/><stop offset="0.3792" stop-color="#ffed00"/><stop offset="0.4591" stop-color="#ffe800"/><stop offset="0.6188" stop-color="#ffe300"/><stop offset="1" stop-color="#ffe200"/></linearGradient>
<linearGradient id="s409" gradientUnits="userSpaceOnUse" x1="0" y1="325" x2="0" y2="575.5"><stop offset="0" stop-color="#9eff61"/><stop offset="0.024" stop-color="#9eff61"/><stop offset="0.0798" stop-color="#a8ff57"/><stop offset="0.1996" stop-color="#e5ff1a"/><stop offset="0.2355" stop-color="#ffff00"/><stop offset="0.3792" stop-color="#ffed00"/><stop offset="0.4591" stop-color="#ffe800"/><stop offset="0.6188" stop-color="#ffe300"/><stop offset="1" stop-color="#ffe200"/></linearGradient>
<linearGradient id="s410" gradientUnits="userSpaceOnUse" x1="0" y1="325" x2="0" y2="575.5"><stop offset="0" stop-color="#9eff61"/><stop offset="0.024" stop-color="#9eff61"/><stop offset="0.0798" stop-color="#a8ff57"/><stop offset="0.1996" stop-color="#e5ff1a"/><stop offset="0.2355" stop-color="#ffff00"/><stop offset="0.3792" stop-color="#ffed00"/><stop offset="0.4591" stop-color="#ffe800"/><stop offset="0.6188" stop-color="#ffe300"/><stop offset="1" stop-color="#ffe200"/></linearGradient>
<linearGradient id="s411" gradientUnits="userSpaceOnUse" x1="0" y1="325" x2="0" y2="575.5"><stop offset="0" stop-color="#9eff61"/><stop offset="0.024" stop-color="#9eff61"/><stop offset="0.0798" stop-color="#a8ff57"/><stop offset="0.1996" stop-color="#e5ff1a"/><stop offset="0.2355" stop-color="#ffff00"/><stop offset="0.3792" stop-color="#ffed00"/><stop offset="0.4591" stop-color="#ffe800"/><stop offset="0.6188" stop-color="#ffe300"/><stop offset="1" stop-color="#ffe200"/></linearGradient>
<linearGradient id="s412" gradientUnits="userSpaceOnUse" x1="0" y1="325" x2="0" y2="575.5"><stop offset="0" stop-color="#9eff61"/><stop offset="0.024" stop-color="#9eff61"/><stop offset="0.0798" stop-color="#a8ff57"/><stop offset="0.1996" stop-color="#e5ff1a"/><stop offset="0.2355" stop-color="#ffff00"/><stop offset="0.3792" stop-color="#ffed00"/><stop offset="0.4591" stop-color="#ffe800"/><stop offset="0.6188" stop-color="#ffe300"/><stop offset="1" stop-color="#ffe200"/></linearGradient>
<linearGradient id="s413" gradientUnits="userSpaceOnUse" x1="0" y1="325" x2="0" y2="575.5"><stop offset="0" stop-color="#9eff61"/><stop offset="0.024" stop-color="#9eff61"/><stop offset="0.0798" stop-color="#a8ff57"/><stop offset="0.1996" stop-color="#e5ff1a"/><stop offset="0.2355" stop-color="#ffff00"/><stop offset="0.3792" stop-color="#ffed00"/><stop offset="0.4591" stop-color="#ffe800"/><stop offset="0.6188" stop-color="#ffe300"/><stop offset="1" stop-color="#ffe200"/></linearGradient>
<linearGradient id="s414" gradientUnits="userSpaceOnUse" x1="0" y1="325" x2="0" y2="575.5"><stop offset="0" stop-color="#9eff61"/><stop offset="0.024" stop-color="#9eff61"/><stop offset="0.0798" stop-color="#a8ff57"/><stop offset="0.1996" stop-color="#e5ff1a"/><stop offset="0.2355" stop-color="#ffff00"/><stop offset="0.3792" stop-color="#ffed00"/><stop offset="0.4591" stop-color="#ffe800"/><stop offset="0.6188" stop-color="#ffe300"/><stop offset="1" stop-color="#ffe200"/></linearGradient>
<linearGradient id="s415" gradientUnits="userSpaceOnUse" x1="0" y1="184" x2="0" y2="295"><stop offset="0" stop-color="#000080"/><stop offset="0.018" stop-color="#000080"/><stop offset="0.0541" stop-color="#00008a"/><stop offset="0.2523" stop-color="#0000e6"/><stop offset="0.3514" stop-color="#0000ff"/><stop offset="0.3694" stop-color="#0005ff"/><stop offset="0.4775" stop-color="#000fff"/><stop offset="0.5946" stop-color="#001fff"/><stop offset="0.8198" stop-color="#0047ff"/><stop offset="0.955" stop-color="#005cff"/><stop offset="1" stop-color="#005cff"/></linearGradient>
<linearGradient id="s416" gradientUnits="userSpaceOnUse" x1="0" y1="184" x2="0" y2="295"><stop offset="0" stop-color="#000080"/><stop offset="0.018" stop-color="#000080"/><stop offset="0.0541" stop-color="#00008a"/><stop offset="0.2523" stop-color="#0000e6"/><stop offset="0.3514" stop-color="#0000ff"/><stop offset="0.3694" stop-color="#0005ff"/><stop offset="0.4775" stop-color="#000fff"/><stop offset="0.5946" stop-color="#001fff"/><stop offset="0.8198" stop-color="#0047ff"/><stop offset="0.955" stop-color="#005cff"/><stop offset="1" stop-color="#005cff"/></linearGradient>
<linearGradient id="s417" gradientUnits="userSpaceOnUse" x1="0" y1="184" x2="0" y2="295"><stop offset="0" stop-color="#000080"/><stop offset="0.018" stop-color="#000080"/><stop offset="0.0541" stop-color="#00008a"/><stop offset="0.2523" stop-color="#0000e6"/><stop offset="0.3514" stop-color="#0000ff"/><stop offset="0.3694" stop-color="#0005ff"/><stop offset="0.4775" stop-color="#000fff"/><stop offset="0.5946" stop-color="#001fff"/><stop offset="0.8198" stop-color="#0047ff"/><stop offset="0.955" stop-color="#005cff"/><stop offset="1" stop-color="#005cff"/></linearGradient>
<linearGradient id="s418" gradientUnits="userSpaceOnUse" x1="0" y1="184" x2="0" y2="295"><stop offset="0" stop-color="#000080"/><stop offset="0.018" stop-color="#000080"/><stop offset="0.0541" stop-color="#00008a"/><stop offset="0.2523" stop-color="#0000e6"/><stop offset="0.3514" stop-color="#0000ff"/><stop offset="0.3694" stop-color="#0005ff"/><stop offset="0.4775" stop-color="#000fff"/><stop offset="0.5946" stop-color="#001fff"/><stop offset="0.8198" stop-color="#0047ff"/><stop offset="0.955" stop-color="#005cff"/><stop offset="1" stop-color="#005cff"/></linearGradient>
<linearGradient id="s419" gradientUnits="userSpaceOnUse" x1="0" y1="184" x2="0" y2="295"><stop offset="0" stop-color="#000080"/><stop offset="0.018" stop-color="#000080"/><stop offset="0.0541" stop-color="#00008a"/><stop offset="0.2523" stop-color="#0000e6"/><stop offset="0.3514" stop-color="#0000ff"/><stop offset="0.3694" stop-color="#0005ff"/><stop offset="0.4775" stop-color="#000fff"/><stop offset="0.5946" stop-color="#001fff"/><stop offset="0.8198" stop-color="#0047ff"/><stop offset="0.955" stop-color="#005cff"/><stop offset="1" stop-color="#005cff"/></linearGradient>
<linearGradient id="s420" gradientUnits="userSpaceOnUse" x1="0" y1="184" x2="0" y2="295"><stop offset="0" stop-color="#000080"/><stop offset="0.018" stop-color="#000080"/><stop offset="0.0541" stop-color="#00008a"/><stop offset="0.2523" stop-color="#0000e6"/><stop offset="0.3514" stop-color="#0000ff"/><stop offset="0.3694" stop-color="#0005ff"/><stop offset="0.4775" stop-color="#000fff"/><stop offset="0.5946" stop-color="#001fff"/><stop offset="0.8198" stop-color="#0047ff"/><stop offset="0.955" stop-color="#005cff"/><stop offset="1" stop-color="#005cff"/></linearGradient>
<linearGradient id="s421" gradientUnits="userSpaceOnUse" x1="0" y1="184" x2="0" y2="295"><stop offset="0" stop-color="#000080"/><stop offset="0.018" stop-color="#000080"/><stop offset="0.0541" stop-color="#00008a"/><stop offset="0.2523" stop-color="#0000e6"/><stop offset="0.3514" stop-color="#0000ff"/><stop offset="0.3694" stop-color="#0005ff"/><stop offset="0.4775" stop-color="#000fff"/><stop offset="0.5946" stop-color="#001fff"/><stop offset="0.8198" stop-color="#0047ff"/><stop offset="0.955" stop-color="#005cff"/><stop offset="1" stop-color="#005cff"/></linearGradient>
<linearGradient id="s422" gradientUnits="userSpaceOnUse" x1="0" y1="184" x2="0" y2="295"><stop offset="0" stop-color="#000080"/><stop offset="0.018" stop-color="#000080"/><stop offset="0.0541" stop-color="#00008a"/><stop offset="0.2523" stop-color="#0000e6"/><stop offset="0.3514" stop-color="#0000ff"/><stop offset="0.3694" stop-color="#0005ff"/><stop offset="0.4775" stop-color="#000fff"/><stop offset="0.5946" stop-color="#001fff"/><stop offset="0.8198" stop-color="#0047ff"/><stop offset="0.955" stop-color="#005cff"/><stop offset="1" stop-color="#005cff"/></linearGradient>
<linearGradient id="s423" gradientUnits="userSpaceOnUse" x1="0" y1="184" x2="0" y2="295"><stop offset="0" stop-color="#000080"/><stop offset="0.018" stop-color="#000080"/><stop offset="0.0541" stop-color="#00008a"/><stop offset="0.2523" stop-color="#0000e6"/><stop offset="0.3514" stop-color="#0000ff"/><stop offset="0.3694" stop-color="#0005ff"/><stop offset="0.4775" stop-color="#000fff"/><stop offset="0.5946" stop-color="#001fff"/><stop offset="0.8198" stop-color="#0047ff"/><stop offset="0.955" stop-color="#005cff"/><stop offset="1" stop-color="#005cff"/></linearGradient>
<linearGradient id="s424" gradientUnits="userSpaceOnUse" x1="0" y1="184" x2="0" y2="295"><stop offset="0" stop-color="#000080"/><stop offset="0.018" stop-color="#000080"/><stop offset="0.0541" stop-color="#00008a"/><stop offset="0.2523" stop-color="#0000e6"/><stop offset="0.3514" stop-color="#0000ff"/><stop offset="0.3694" stop-color="#0005ff"/><stop offset="0.4775" stop-color="#000fff"/><stop offset="0.5946" stop-color="#001fff"/><stop offset="0.8198" stop-color="#0047ff"/><stop offset="0.955" stop-color="#005cff"/><stop offset="1" stop-color="#005cff"/></linearGradient>
<linearGradient id="s425" gradientUnits="userSpaceOnUse" x1="0" y1="325" x2="0" y2="390"><stop offset="0" stop-color="#ffc700"/><stop offset="0.0923" stop-color="#ffc700"/><stop offset="0.1846" stop-color="#ffbd00"/><stop offset="0.3231" stop-color="#ff8a00"/><stop offset="0.5231" stop-color="#ff6b00"/><stop offset="0.6308" stop-color="#ff4c00"/><stop offset="0.7385" stop-color="#ff2900"/><stop offset="0.8154" stop-color="#ff1400"/><stop offset="0.9231" stop-color="#ff0f00"/><stop offset="1" stop-color="#ff0f00"/></linearGradient>
<linearGradient id="s426" gradientUnits="userSpaceOnUse" x1="0" y1="325" x2="0" y2="390"><stop offset="0" stop-color="#ffc700"/><stop offset="0.0923" stop-color="#ffc700"/><stop offset="0.1846" stop-color="#ffbd00"/><stop offset="0.3231" stop-color="#ff8a00"/><stop offset="0.5231" stop-color="#ff6b00"/><stop offset="0.6308" stop-color="#ff4c00"/><stop offset="0.7385" stop-color="#ff2900"/><stop offset="0.8154" stop-color="#ff1400"/><stop offset="0.9231" stop-color="#ff0f00"/><stop offset="1" stop-color="#ff0f00"/></linearGradient>
<linearGradient id="s427" gradientUnits="userSpaceOnUse" x1="0" y1="325" x2="0" y2="390"><stop offset="0" stop-color="#ffc700"/><stop offset="0.0923" stop-color="#ffc700"/><stop offset="0.1846" stop-color="#ffbd00"/><stop offset="0.3231" stop-color="#ff8a00"/><stop offset="0.5231" stop-color="#ff6b00"/><stop offset="0.6308" stop-color="#ff4c00"/><stop offset="0.7385" stop-color="#ff2900"/><stop offset="0.8154" stop-color="#ff1400"/><stop offset="0.9231" stop-color="#ff0f00"/><stop offset="1" stop-color="#ff0f00"/></linearGradient>
<linearGradient id="s428" gradientUnits="userSpaceOnUse" x1="0" y1="325" x2="0" y2="390"><stop offset="0" stop-color="#ffc700"/><stop offset="0.0923" stop-color="#ffc700"/><stop offset="0.1846" stop-color="#ffbd00"/><stop offset="0.3231" stop-color="#ff8a00"/><stop offset="0.5231" stop-color="#ff6b00"/><stop offset="0.6308" stop-color="#ff4c00"/><stop offset="0.7385" stop-color="#ff2900"/><stop offset="0.8154" stop-color="#ff1400"/><stop offset="0.9231" stop-color="#ff0f00"/><stop offset="1" stop-color="#ff0f00"/></linearGradient>
<linearGradient id="s429" gradientUnits="userSpaceOnUse" x1="0" y1="325" x2="0" y2="390"><stop offset="0" stop-color="#ffc700"/><stop offset="0.0923" stop-color="#ffc700"/><stop offset="0.1846" stop-color="#ffbd00"/><stop offset="0.3231" stop-color="#ff8a00"/><stop offset="0.5231" stop-color="#ff6b00"/><stop offset="0.6308" stop-color="#ff4c00"/><stop offset="0.7385" stop-color="#ff2900"/><stop offset="0.8154" stop-color="#ff1400"/><stop offset="0.9231" stop-color="#ff0f00"/><stop offset="1" stop-color="#ff0f00"/></linearGradient></defs>
<g clip-path="url(#c1)"><g filter="url(#f73)"><rect x="59.5" y="360" width="8.5" height="215.5" fill="url(#s4)"/><rect x="67.5" y="360" width="8.5" height="215.5" fill="url(#s5)"/><rect x="75.5" y="360" width="8.5" height="215.5" fill="url(#s6)"/><rect x="83.5" y="360" width="8.5" height="215.5" fill="url(#s7)"/><rect x="91.5" y="360" width="8.5" height="215.5" fill="url(#s8)"/><rect x="99.5" y="360" width="8.5" height="215.5" fill="url(#s9)"/><rect x="107.5" y="360" width="8.5" height="215.5" fill="url(#s10)"/><rect x="115.5" y="360" width="8.5" height="215.5" fill="url(#s11)"/><rect x="123.5" y="360" width="8.5" height="215.5" fill="url(#s12)"/><rect x="131.5" y="360" width="8.5" height="215.5" fill="url(#s13)"/><rect x="139.5" y="360" width="8.5" height="215.5" fill="url(#s14)"/><rect x="147.5" y="360" width="8.5" height="215.5" fill="url(#s15)"/><rect x="155.5" y="360" width="8.5" height="215.5" fill="url(#s16)"/><rect x="163.5" y="360" width="8.5" height="215.5" fill="url(#s17)"/><rect x="171.5" y="360" width="8.5" height="215.5" fill="url(#s18)"/><rect x="179.5" y="360" width="8.5" height="215.5" fill="url(#s19)"/><rect x="187.5" y="360" width="8.5" height="215.5" fill="url(#s20)"/><rect x="195.5" y="360" width="8.5" height="215.5" fill="url(#s21)"/><rect x="203.5" y="360" width="8.5" height="215.5" fill="url(#s22)"/><rect x="211.5" y="360" width="8.5" height="215.5" fill="url(#s23)"/><rect x="219.5" y="360" width="8.5" height="215.5" fill="url(#s24)"/><rect x="227.5" y="360" width="8.5" height="215.5" fill="url(#s25)"/><rect x="235.5" y="360" width="8.5" height="215.5" fill="url(#s26)"/><rect x="243.5" y="360" width="8.5" height="215.5" fill="url(#s27)"/><rect x="251.5" y="360" width="8.5" height="215.5" fill="url(#s28)"/><rect x="259.5" y="360" width="8.5" height="215.5" fill="url(#s29)"/><rect x="267.5" y="360" width="8.5" height="215.5" fill="url(#s30)"/><rect x="275.5" y="360" width="8.5" height="215.5" fill="url(#s31)"/><rect x="283.5" y="360" width="8.5" height="215.5" fill="url(#s32)"/><rect x="291.5" y="360" width="8.5" height="215.5" fill="url(#s33)"/><rect x="299.5" y="360" width="8.5" height="215.5" fill="url(#s34)"/><rect x="307.5" y="360" width="8.5" height="215.5" fill="url(#s35)"/><rect x="315.5" y="360" width="8.5" height="215.5" fill="url(#s36)"/><rect x="323.5" y="360" width="8.5" height="215.5" fill="url(#s37)"/><rect x="331.5" y="360" width="8.5" height="215.5" fill="url(#s38)"/><rect x="339.5" y="360" width="8.5" height="215.5" fill="url(#s39)"/><rect x="347.5" y="360" width="8.5" height="215.5" fill="url(#s40)"/><rect x="355.5" y="360" width="8.5" height="215.5" fill="url(#s41)"/><rect x="363.5" y="360" width="8.5" height="215.5" fill="url(#s42)"/><rect x="371.5" y="360" width="8.5" height="215.5" fill="url(#s43)"/><rect x="379.5" y="360" width="8.5" height="215.5" fill="url(#s44)"/><rect x="387.5" y="360" width="8.5" height="215.5" fill="url(#s45)"/><rect x="395.5" y="360" width="8.5" height="215.5" fill="url(#s46)"/><rect x="403.5" y="360" width="8.5" height="215.5" fill="url(#s47)"/><rect x="411.5" y="360" width="8.5" height="215.5" fill="url(#s48)"/><rect x="419.5" y="360" width="8.5" height="215.5" fill="url(#s49)"/><rect x="427.5" y="360" width="8.5" height="215.5" fill="url(#s50)"/><rect x="435.5" y="360" width="8.5" height="215.5" fill="url(#s51)"/><rect x="443.5" y="360" width="8.5" height="215.5" fill="url(#s52)"/><rect x="451.5" y="360" width="8.5" height="215.5" fill="url(#s53)"/><rect x="459.5" y="360" width="8.5" height="215.5" fill="url(#s54)"/><rect x="467.5" y="360" width="8.5" height="215.5" fill="url(#s55)"/><rect x="475.5" y="360" width="8.5" height="215.5" fill="url(#s56)"/><rect x="483.5" y="360" width="8.5" height="215.5" fill="url(#s57)"/><rect x="491.5" y="360" width="8.5" height="215.5" fill="url(#s58)"/><rect x="499.5" y="360" width="8.5" height="215.5" fill="url(#s59)"/><rect x="507.5" y="360" width="8.5" height="215.5" fill="url(#s60)"/><rect x="515.5" y="360" width="8.5" height="215.5" fill="url(#s61)"/><rect x="523.5" y="360" width="8.5" height="215.5" fill="url(#s62)"/><rect x="531.5" y="360" width="8.5" height="215.5" fill="url(#s63)"/><rect x="539.5" y="360" width="8.5" height="215.5" fill="url(#s64)"/><rect x="547.5" y="360" width="8.5" height="215.5" fill="url(#s65)"/><rect x="555.5" y="360" width="8.5" height="215.5" fill="url(#s66)"/><rect x="563.5" y="360" width="8.5" height="215.5" fill="url(#s67)"/><rect x="571.5" y="360" width="8.5" height="215.5" fill="url(#s68)"/><rect x="579.5" y="360" width="8.5" height="215.5" fill="url(#s69)"/><rect x="587.5" y="360" width="8.5" height="215.5" fill="url(#s70)"/><rect x="595.5" y="360" width="8.5" height="215.5" fill="url(#s71)"/><rect x="603.5" y="360" width="8.5" height="215.5" fill="url(#s72)"/></g><g clip-path="url(#c3)"><g filter="url(#f164)"><rect x="63.5" y="319" width="6.5" height="74.3019" fill="url(#s74)"/><rect x="69.5" y="319" width="6.5" height="74.325" fill="url(#s75)"/><rect x="75.5" y="319" width="6.5" height="74.3481" fill="url(#s76)"/><rect x="81.5" y="319" width="6.5" height="74.3712" fill="url(#s77)"/><rect x="87.5" y="319" width="6.5" height="74.3942" fill="url(#s78)"/><rect x="93.5" y="319" width="6.5" height="74.4173" fill="url(#s79)"/><rect x="99.5" y="319" width="6.5" height="74.4404" fill="url(#s80)"/><rect x="105.5" y="319" width="6.5" height="74.4635" fill="url(#s81)"/><rect x="111.5" y="319" width="6.5" height="74.4865" fill="url(#s82)"/><rect x="117.5" y="319" width="6.5" height="75.7205" fill="url(#s83)"/><rect x="123.5" y="320.304" width="6.5" height="74.4987" fill="url(#s84)"/><rect x="129.5" y="320.318" width="6.5" height="74.566" fill="url(#s85)"/><rect x="135.5" y="320.333" width="6.5" height="74.6334" fill="url(#s86)"/><rect x="141.5" y="320.347" width="6.5" height="75.9598" fill="url(#s87)"/><rect x="147.5" y="320.361" width="6.5" height="75.9615" fill="url(#s88)"/><rect x="153.5" y="320.376" width="6.5" height="75.9633" fill="url(#s89)"/><rect x="159.5" y="320.39" width="6.5" height="75.965" fill="url(#s90)"/><rect x="165.5" y="320.405" width="6.5" height="75.9668" fill="url(#s91)"/><rect x="171.5" y="320.419" width="6.5" height="75.9686" fill="url(#s92)"/><rect x="177.5" y="320.434" width="6.5" height="75.9703" fill="url(#s93)"/><rect x="183.5" y="320.448" width="6.5" height="75.9721" fill="url(#s94)"/><rect x="189.5" y="320.463" width="6.5" height="75.9738" fill="url(#s95)"/><rect x="195.5" y="320.477" width="6.5" height="75.9756" fill="url(#s96)"/><rect x="201.5" y="320.492" width="6.5" height="75.9774" fill="url(#s97)"/><rect x="207.5" y="321.551" width="6.5" height="74.9339" fill="url(#s98)"/><rect x="213.5" y="321.536" width="6.5" height="75.0679" fill="url(#s99)"/><rect x="219.5" y="321.521" width="6.5" height="76.3329" fill="url(#s100)"/><rect x="225.5" y="321.506" width="6.5" height="77.6049" fill="url(#s101)"/><rect x="231.5" y="321.129" width="6.5" height="79.315" fill="url(#s102)"/><rect x="237.5" y="320.494" width="6.5" height="81.2837" fill="url(#s103)"/><rect x="243.5" y="319.859" width="6.5" height="82.8928" fill="url(#s104)"/><rect x="249.5" y="318.243" width="6.5" height="85.4107" fill="url(#s105)"/><rect x="255.5" y="316.3" width="6.5" height="87.7" fill="url(#s106)"/><rect x="261.5" y="312.771" width="6.5" height="91.2294" fill="url(#s107)"/><rect x="267.5" y="309.288" width="6.5" height="94.7125" fill="url(#s108)"/><rect x="273.5" y="299.612" width="6.5" height="104.388" fill="url(#s109)"/><rect x="279.5" y="290.598" width="6.5" height="113.402" fill="url(#s110)"/><rect x="285.5" y="281.551" width="6.5" height="122.449" fill="url(#s111)"/><rect x="291.5" y="275.5" width="6.5" height="127.676" fill="url(#s112)"/><rect x="297.5" y="270.5" width="6.5" height="130.82" fill="url(#s113)"/><rect x="303.5" y="269.038" width="6.5" height="128.682" fill="url(#s114)"/><rect x="309.5" y="267.2" width="6.5" height="127.545" fill="url(#s115)"/><rect x="315.5" y="262.817" width="6.5" height="129.314" fill="url(#s116)"/><rect x="321.5" y="250.21" width="6.5" height="140.181" fill="url(#s117)"/><rect x="327.5" y="243.68" width="6.5" height="145.832" fill="url(#s118)"/><rect x="333.5" y="242.578" width="6.5" height="146.768" fill="url(#s119)"/><rect x="339.5" y="242.154" width="6.5" height="147.025" fill="url(#s120)"/><rect x="345.5" y="243.392" width="6.5" height="145.622" fill="url(#s121)"/><rect x="351.5" y="242.578" width="6.5" height="145.414" fill="url(#s122)"/><rect x="357.5" y="245.244" width="6.5" height="141.647" fill="url(#s123)"/><rect x="363.5" y="249.209" width="6.5" height="136.582" fill="url(#s124)"/><rect x="369.5" y="252.718" width="6.5" height="131.974" fill="url(#s125)"/><rect x="375.5" y="256.297" width="6.5" height="127.294" fill="url(#s126)"/><rect x="381.5" y="260.281" width="6.5" height="122.211" fill="url(#s127)"/><rect x="387.5" y="264.6" width="6.5" height="116.792" fill="url(#s128)"/><rect x="393.5" y="270.6" width="6.5" height="109.692" fill="url(#s129)"/><rect x="399.5" y="276.6" width="6.5" height="102.592" fill="url(#s130)"/><rect x="405.5" y="281.814" width="6.5" height="96.2781" fill="url(#s131)"/><rect x="411.5" y="286.339" width="6.5" height="96.161" fill="url(#s132)"/><rect x="417.5" y="289.797" width="6.5" height="103.39" fill="url(#s133)"/><rect x="423.5" y="292.438" width="6.5" height="106.762" fill="url(#s134)"/><rect x="429.5" y="295.08" width="6.5" height="107.138" fill="url(#s135)"/><rect x="435.5" y="298.638" width="6.5" height="104.77" fill="url(#s136)"/><rect x="441.5" y="302.279" width="6.5" height="101.721" fill="url(#s137)"/><rect x="447.5" y="304.583" width="6.5" height="99.4172" fill="url(#s138)"/><rect x="453.5" y="306.285" width="6.5" height="97.4052" fill="url(#s139)"/><rect x="459.5" y="307.208" width="6.5" height="96.7923" fill="url(#s140)"/><rect x="465.5" y="307.7" width="6.5" height="95.5831" fill="url(#s141)"/><rect x="471.5" y="307.7" width="6.5" height="94.3112" fill="url(#s142)"/><rect x="477.5" y="307.7" width="6.5" height="91.8802" fill="url(#s143)"/><rect x="483.5" y="307.7" width="6.5" height="89.0328" fill="url(#s144)"/><rect x="489.5" y="307.7" width="6.5" height="85.4121" fill="url(#s145)"/><rect x="495.5" y="307.65" width="6.5" height="81.8667" fill="url(#s146)"/><rect x="501.5" y="307.576" width="6.5" height="78.3819" fill="url(#s147)"/><rect x="507.5" y="307.501" width="6.5" height="75.1143" fill="url(#s148)"/><rect x="513.5" y="307.427" width="6.5" height="72.1119" fill="url(#s149)"/><rect x="519.5" y="307.352" width="6.5" height="69.1611" fill="url(#s150)"/><rect x="525.5" y="307.277" width="6.5" height="66.2617" fill="url(#s151)"/><rect x="531.5" y="307.203" width="6.5" height="64.3472" fill="url(#s152)"/><rect x="537.5" y="307.128" width="6.5" height="63.136" fill="url(#s153)"/><rect x="543.5" y="307.054" width="6.5" height="63.6121" fill="url(#s154)"/><rect x="549.5" y="306.979" width="6.5" height="64.413" fill="url(#s155)"/><rect x="555.5" y="306.905" width="6.5" height="65.2139" fill="url(#s156)"/><rect x="561.5" y="306.83" width="6.5" height="66.1548" fill="url(#s157)"/><rect x="567.5" y="306.755" width="6.5" height="67.1425" fill="url(#s158)"/><rect x="573.5" y="306.681" width="6.5" height="68.1301" fill="url(#s159)"/><rect x="579.5" y="306.606" width="6.5" height="69.1177" fill="url(#s160)"/><rect x="585.5" y="306.6" width="6.5" height="69.2" fill="url(#s161)"/><rect x="591.5" y="306.6" width="6.5" height="69.2" fill="url(#s162)"/><rect x="597.5" y="306.6" width="6.5" height="69.2" fill="url(#s163)"/></g></g><g clip-path="url(#c2)"><g filter="url(#f212)"><rect x="51.5" y="184" width="12.5" height="146" fill="url(#s165)"/><rect x="63.5" y="184" width="12.5" height="146" fill="url(#s166)"/><rect x="75.5" y="184" width="12.5" height="146" fill="url(#s167)"/><rect x="87.5" y="184" width="12.5" height="146" fill="url(#s168)"/><rect x="99.5" y="184" width="12.5" height="146" fill="url(#s169)"/><rect x="111.5" y="184" width="12.5" height="146" fill="url(#s170)"/><rect x="123.5" y="184" width="12.5" height="146" fill="url(#s171)"/><rect x="135.5" y="184" width="12.5" height="146" fill="url(#s172)"/><rect x="147.5" y="184" width="12.5" height="146" fill="url(#s173)"/><rect x="159.5" y="184" width="12.5" height="146" fill="url(#s174)"/><rect x="171.5" y="184" width="12.5" height="146" fill="url(#s175)"/><rect x="183.5" y="184" width="12.5" height="146" fill="url(#s176)"/><rect x="195.5" y="184" width="12.5" height="146" fill="url(#s177)"/><rect x="207.5" y="184" width="12.5" height="146" fill="url(#s178)"/><rect x="219.5" y="184" width="12.5" height="146" fill="url(#s179)"/><rect x="231.5" y="184" width="12.5" height="146" fill="url(#s180)"/><rect x="243.5" y="184" width="12.5" height="146" fill="url(#s181)"/><rect x="255.5" y="184" width="12.5" height="146" fill="url(#s182)"/><rect x="267.5" y="184" width="12.5" height="146" fill="url(#s183)"/><rect x="279.5" y="184" width="12.5" height="146" fill="url(#s184)"/><rect x="291.5" y="184" width="12.5" height="146" fill="url(#s185)"/><rect x="303.5" y="184" width="12.5" height="146" fill="url(#s186)"/><rect x="315.5" y="184" width="12.5" height="146" fill="url(#s187)"/><rect x="327.5" y="184" width="12.5" height="146" fill="url(#s188)"/><rect x="339.5" y="184" width="12.5" height="146" fill="url(#s189)"/><rect x="351.5" y="184" width="12.5" height="146" fill="url(#s190)"/><rect x="363.5" y="184" width="12.5" height="146" fill="url(#s191)"/><rect x="375.5" y="184" width="12.5" height="146" fill="url(#s192)"/><rect x="387.5" y="184" width="12.5" height="146" fill="url(#s193)"/><rect x="399.5" y="184" width="12.5" height="146" fill="url(#s194)"/><rect x="411.5" y="184" width="12.5" height="146" fill="url(#s195)"/><rect x="423.5" y="184" width="12.5" height="146" fill="url(#s196)"/><rect x="435.5" y="184" width="12.5" height="146" fill="url(#s197)"/><rect x="447.5" y="184" width="12.5" height="146" fill="url(#s198)"/><rect x="459.5" y="184" width="12.5" height="146" fill="url(#s199)"/><rect x="471.5" y="184" width="12.5" height="146" fill="url(#s200)"/><rect x="483.5" y="184" width="12.5" height="146" fill="url(#s201)"/><rect x="495.5" y="184" width="12.5" height="146" fill="url(#s202)"/><rect x="507.5" y="184" width="12.5" height="146" fill="url(#s203)"/><rect x="519.5" y="184" width="12.5" height="146" fill="url(#s204)"/><rect x="531.5" y="184" width="12.5" height="146" fill="url(#s205)"/><rect x="543.5" y="184" width="12.5" height="146" fill="url(#s206)"/><rect x="555.5" y="184" width="12.5" height="146" fill="url(#s207)"/><rect x="567.5" y="184" width="12.5" height="146" fill="url(#s208)"/><rect x="579.5" y="184" width="12.5" height="146" fill="url(#s209)"/><rect x="591.5" y="184" width="12.5" height="146" fill="url(#s210)"/><rect x="603.5" y="184" width="12.5" height="146" fill="url(#s211)"/></g></g><path d="M326.2 269.2 L333.1 279.5 L339.0 289.3 L348.9 298.2 L354.8 307.0 L360.7 314.0 L364.7 318.0 L370.6 318.5 L376.5 322.5 L388.4 322.5 L396.3 320.0 L401.2 319.0 L405.1 322.9 L409.1 330.7 L413.0 346.5 L417.0 362.4 L420.5 369.5 L410.0 369.5 L404.0 371.0 L400.5 376.5 L393.0 394.0 L385.5 409.0 L378.0 415.0 L368.0 415.0 L358.0 409.0 L345.5 396.5 L340.0 392.4 L330.2 386.4 L325.0 384.7 L318.3 385.6 L312.4 383.0 L308.1 378.8 L303.0 372.9 L296.3 364.4 L289.5 355.0 L285.3 349.2 L285.4 332.7 L286.1 329.7 L292.9 322.0 L299.7 313.6 L303.5 307.0 L307.5 299.2 L312.4 291.3 L316.4 278.5 L320.3 272.5Z" fill="#ff7f00"/></g>
<g clip-path="url(#c213)"><g filter="url(#f286)"><rect x="59.5" y="18" width="8.5" height="171" fill="url(#s217)"/><rect x="67.5" y="18" width="8.5" height="171" fill="url(#s218)"/><rect x="75.5" y="18" width="8.5" height="171" fill="url(#s219)"/><rect x="83.5" y="18" width="8.5" height="171" fill="url(#s220)"/><rect x="91.5" y="18" width="8.5" height="171" fill="url(#s221)"/><rect x="99.5" y="18" width="8.5" height="171" fill="url(#s222)"/><rect x="107.5" y="18" width="8.5" height="171" fill="url(#s223)"/><rect x="115.5" y="18" width="8.5" height="171" fill="url(#s224)"/><rect x="123.5" y="18" width="8.5" height="171" fill="url(#s225)"/><rect x="131.5" y="18" width="8.5" height="171" fill="url(#s226)"/><rect x="139.5" y="18" width="8.5" height="171" fill="url(#s227)"/><rect x="147.5" y="18" width="8.5" height="171" fill="url(#s228)"/><rect x="155.5" y="18" width="8.5" height="171" fill="url(#s229)"/><rect x="163.5" y="18" width="8.5" height="171" fill="url(#s230)"/><rect x="171.5" y="18" width="8.5" height="171" fill="url(#s231)"/><rect x="179.5" y="18" width="8.5" height="171" fill="url(#s232)"/><rect x="187.5" y="18" width="8.5" height="171" fill="url(#s233)"/><rect x="195.5" y="18" width="8.5" height="171" fill="url(#s234)"/><rect x="203.5" y="18" width="8.5" height="171" fill="url(#s235)"/><rect x="211.5" y="18" width="8.5" height="171" fill="url(#s236)"/><rect x="219.5" y="18" width="8.5" height="171" fill="url(#s237)"/><rect x="227.5" y="18" width="8.5" height="171" fill="url(#s238)"/><rect x="235.5" y="18" width="8.5" height="171" fill="url(#s239)"/><rect x="243.5" y="18" width="8.5" height="171" fill="url(#s240)"/><rect x="251.5" y="18" width="8.5" height="171" fill="url(#s241)"/><rect x="259.5" y="18" width="8.5" height="171" fill="url(#s242)"/><rect x="267.5" y="18" width="8.5" height="171" fill="url(#s243)"/><rect x="275.5" y="18" width="8.5" height="171" fill="url(#s244)"/><rect x="283.5" y="18" width="8.5" height="171" fill="url(#s245)"/><rect x="291.5" y="18" width="8.5" height="171" fill="url(#s246)"/><rect x="299.5" y="18" width="8.5" height="171" fill="url(#s247)"/><rect x="307.5" y="18" width="8.5" height="171" fill="url(#s248)"/><rect x="315.5" y="18" width="8.5" height="171" fill="url(#s249)"/><rect x="323.5" y="18" width="8.5" height="171" fill="url(#s250)"/><rect x="331.5" y="18" width="8.5" height="171" fill="url(#s251)"/><rect x="339.5" y="18" width="8.5" height="171" fill="url(#s252)"/><rect x="347.5" y="18" width="8.5" height="171" fill="url(#s253)"/><rect x="355.5" y="18" width="8.5" height="171" fill="url(#s254)"/><rect x="363.5" y="18" width="8.5" height="171" fill="url(#s255)"/><rect x="371.5" y="18" width="8.5" height="171" fill="url(#s256)"/><rect x="379.5" y="18" width="8.5" height="171" fill="url(#s257)"/><rect x="387.5" y="18" width="8.5" height="171" fill="url(#s258)"/><rect x="395.5" y="18" width="8.5" height="171" fill="url(#s259)"/><rect x="403.5" y="18" width="8.5" height="171" fill="url(#s260)"/><rect x="411.5" y="18" width="8.5" height="171" fill="url(#s261)"/><rect x="419.5" y="18" width="8.5" height="171" fill="url(#s262)"/><rect x="427.5" y="18" width="8.5" height="171" fill="url(#s263)"/><rect x="435.5" y="18" width="8.5" height="171" fill="url(#s264)"/><rect x="443.5" y="18" width="8.5" height="171" fill="url(#s265)"/><rect x="451.5" y="18" width="8.5" height="171" fill="url(#s266)"/><rect x="459.5" y="18" width="8.5" height="171" fill="url(#s267)"/><rect x="467.5" y="18" width="8.5" height="171" fill="url(#s268)"/><rect x="475.5" y="18" width="8.5" height="171" fill="url(#s269)"/><rect x="483.5" y="18" width="8.5" height="171" fill="url(#s270)"/><rect x="491.5" y="18" width="8.5" height="171" fill="url(#s271)"/><rect x="499.5" y="18" width="8.5" height="171" fill="url(#s272)"/><rect x="507.5" y="18" width="8.5" height="171" fill="url(#s273)"/><rect x="515.5" y="18" width="8.5" height="171" fill="url(#s274)"/><rect x="523.5" y="18" width="8.5" height="171" fill="url(#s275)"/><rect x="531.5" y="18" width="8.5" height="171" fill="url(#s276)"/><rect x="539.5" y="18" width="8.5" height="171" fill="url(#s277)"/><rect x="547.5" y="18" width="8.5" height="171" fill="url(#s278)"/><rect x="555.5" y="18" width="8.5" height="171" fill="url(#s279)"/><rect x="563.5" y="18" width="8.5" height="171" fill="url(#s280)"/><rect x="571.5" y="18" width="8.5" height="171" fill="url(#s281)"/><rect x="579.5" y="18" width="8.5" height="171" fill="url(#s282)"/><rect x="587.5" y="18" width="8.5" height="171" fill="url(#s283)"/><rect x="595.5" y="18" width="8.5" height="171" fill="url(#s284)"/><rect x="603.5" y="18" width="8.5" height="171" fill="url(#s285)"/></g><g clip-path="url(#c214)"><g filter="url(#f326)"><rect x="59.5" y="18" width="8.5" height="171" fill="url(#s287)"/><rect x="67.5" y="18" width="8.5" height="171" fill="url(#s288)"/><rect x="75.5" y="18" width="8.5" height="171" fill="url(#s289)"/><rect x="83.5" y="18" width="8.5" height="171" fill="url(#s290)"/><rect x="91.5" y="18" width="8.5" height="171" fill="url(#s291)"/><rect x="99.5" y="18" width="8.5" height="171" fill="url(#s292)"/><rect x="107.5" y="18" width="8.5" height="171" fill="url(#s293)"/><rect x="115.5" y="18" width="8.5" height="171" fill="url(#s294)"/><rect x="123.5" y="18" width="8.5" height="171" fill="url(#s295)"/><rect x="131.5" y="18" width="8.5" height="171" fill="url(#s296)"/><rect x="139.5" y="18" width="8.5" height="171" fill="url(#s297)"/><rect x="147.5" y="18" width="8.5" height="171" fill="url(#s298)"/><rect x="155.5" y="18" width="8.5" height="171" fill="url(#s299)"/><rect x="163.5" y="18" width="8.5" height="171" fill="url(#s300)"/><rect x="171.5" y="18" width="8.5" height="171" fill="url(#s301)"/><rect x="179.5" y="18" width="8.5" height="171" fill="url(#s302)"/><rect x="187.5" y="18" width="8.5" height="171" fill="url(#s303)"/><rect x="195.5" y="18" width="8.5" height="171" fill="url(#s304)"/><rect x="203.5" y="18" width="8.5" height="171" fill="url(#s305)"/><rect x="211.5" y="18" width="8.5" height="171" fill="url(#s306)"/><rect x="219.5" y="18" width="8.5" height="171" fill="url(#s307)"/><rect x="227.5" y="18" width="8.5" height="171" fill="url(#s308)"/><rect x="235.5" y="18" width="8.5" height="171" fill="url(#s309)"/><rect x="243.5" y="18" width="8.5" height="171" fill="url(#s310)"/><rect x="251.5" y="18" width="8.5" height="171" fill="url(#s311)"/><rect x="259.5" y="18" width="8.5" height="171" fill="url(#s312)"/><rect x="267.5" y="18" width="8.5" height="171" fill="url(#s313)"/><rect x="275.5" y="18" width="8.5" height="171" fill="url(#s314)"/><rect x="283.5" y="18" width="8.5" height="171" fill="url(#s315)"/><rect x="291.5" y="18" width="8.5" height="171" fill="url(#s316)"/><rect x="299.5" y="18" width="8.5" height="171" fill="url(#s317)"/><rect x="307.5" y="18" width="8.5" height="171" fill="url(#s318)"/><rect x="315.5" y="18" width="8.5" height="171" fill="url(#s319)"/><rect x="323.5" y="18" width="8.5" height="171" fill="url(#s320)"/><rect x="331.5" y="18" width="8.5" height="171" fill="url(#s321)"/><rect x="339.5" y="18" width="8.5" height="171" fill="url(#s322)"/><rect x="347.5" y="18" width="8.5" height="171" fill="url(#s323)"/><rect x="355.5" y="18" width="8.5" height="171" fill="url(#s324)"/><rect x="363.5" y="18" width="8.5" height="171" fill="url(#s325)"/></g></g><g clip-path="url(#c215)"><g filter="url(#f346)"><rect x="400" y="30" width="8.5" height="100" fill="url(#s327)"/><rect x="408" y="30" width="8.5" height="100" fill="url(#s328)"/><rect x="416" y="30" width="8.5" height="100" fill="url(#s329)"/><rect x="424" y="30" width="8.5" height="100" fill="url(#s330)"/><rect x="432" y="30" width="8.5" height="100" fill="url(#s331)"/><rect x="440" y="30" width="8.5" height="100" fill="url(#s332)"/><rect x="448" y="30" width="8.5" height="100" fill="url(#s333)"/><rect x="456" y="30" width="8.5" height="100" fill="url(#s334)"/><rect x="464" y="30" width="8.5" height="100" fill="url(#s335)"/><rect x="472" y="30" width="8.5" height="100" fill="url(#s336)"/><rect x="480" y="30" width="8.5" height="100" fill="url(#s337)"/><rect x="488" y="30" width="8.5" height="100" fill="url(#s338)"/><rect x="496" y="30" width="8.5" height="100" fill="url(#s339)"/><rect x="504" y="30" width="8.5" height="100" fill="url(#s340)"/><rect x="512" y="30" width="8.5" height="100" fill="url(#s341)"/><rect x="520" y="30" width="8.5" height="100" fill="url(#s342)"/><rect x="528" y="30" width="8.5" height="100" fill="url(#s343)"/><rect x="536" y="30" width="8.5" height="100" fill="url(#s344)"/><rect x="544" y="30" width="8.5" height="100" fill="url(#s345)"/></g></g><g clip-path="url(#c216)"><g filter="url(#f358)"><rect x="520" y="18" width="8.5" height="72" fill="url(#s347)"/><rect x="528" y="18" width="8.5" height="72" fill="url(#s348)"/><rect x="536" y="18" width="8.5" height="72" fill="url(#s349)"/><rect x="544" y="18" width="8.5" height="72" fill="url(#s350)"/><rect x="552" y="18" width="8.5" height="72" fill="url(#s351)"/><rect x="560" y="18" width="8.5" height="72" fill="url(#s352)"/><rect x="568" y="18" width="8.5" height="72" fill="url(#s353)"/><rect x="576" y="18" width="8.5" height="72" fill="url(#s354)"/><rect x="584" y="18" width="8.5" height="72" fill="url(#s355)"/><rect x="592" y="18" width="8.5" height="72" fill="url(#s356)"/><rect x="600" y="18" width="8.5" height="72" fill="url(#s357)"/></g></g><path d="M324.6 60.7 L332.0 60.2 L337.2 62.2 L335.0 64.1 L329.8 68.1 L326.0 71.0 L332.0 74.8 L339.4 80.0 L355.0 80.7 L358.6 76.2 L359.4 65.9 L363.0 57.0 L364.5 45.2 L367.5 42.2 L375.0 41.2 L383.8 41.9 L389.7 44.4 L393.4 51.0 L394.1 58.5 L396.4 68.8 L397.8 79.2 L401.5 82.1 L401.5 97.0 L400.0 102.9 L400.8 108.8 L398.6 111.7 L399.7 115.0 L398.0 118.6 L392.8 123.0 L391.0 132.4 L393.7 137.5 L396.2 144.4 L393.7 147.9 L387.6 153.0 L383.3 156.8 L362.7 159.0 L354.0 161.7 L340.3 162.2 L339.4 160.0 L336.8 159.0 L334.2 159.0 L331.7 154.8 L330.0 146.2 L325.6 141.9 L325.6 136.7 L328.2 135.8 L329.0 130.7 L326.5 125.8 L324.8 125.5 L323.0 118.6 L310.5 115.0 L309.8 114.7 L306.1 111.7 L307.6 105.8 L309.0 99.9 L310.5 93.2 L315.0 90.3 L315.7 86.6 L312.8 82.1 L307.6 77.7 L307.6 75.5 L311.3 72.5 L317.2 68.8 L323.9 62.2Z" fill="#ff7f00"/><path d="M384.2 156.8 L387.6 150.5 L390.2 145.3 L392.8 138.4 L394.5 137.6 L396.8 143.6 L394.5 147.9 L391.0 152.2 L387.6 156.0 L384.0 157.0Z" fill="#ff5700"/></g>
<g clip-path="url(#c359)"><g filter="url(#f404)"><rect x="579.5" y="245" width="6.5" height="155" fill="url(#s363)"/><rect x="585.5" y="245" width="6.5" height="155" fill="url(#s364)"/><rect x="591.5" y="245" width="6.5" height="155" fill="url(#s365)"/><rect x="597.5" y="245" width="6.5" height="155" fill="url(#s366)"/><rect x="603.5" y="245" width="6.5" height="155" fill="url(#s367)"/><rect x="609.5" y="245" width="6.5" height="155" fill="url(#s368)"/><rect x="615.5" y="245" width="6.5" height="155" fill="url(#s369)"/><rect x="621.5" y="245" width="6.5" height="155" fill="url(#s370)"/><rect x="627.5" y="245" width="6.5" height="155" fill="url(#s371)"/><rect x="633.5" y="245" width="6.5" height="155" fill="url(#s372)"/><rect x="639.5" y="245" width="6.5" height="155" fill="url(#s373)"/><rect x="645.5" y="245" width="6.5" height="155" fill="url(#s374)"/><rect x="651.5" y="245" width="6.5" height="155" fill="url(#s375)"/><rect x="657.5" y="245" width="6.5" height="155" fill="url(#s376)"/><rect x="663.5" y="245" width="6.5" height="155" fill="url(#s377)"/><rect x="669.5" y="245" width="6.5" height="155" fill="url(#s378)"/><rect x="675.5" y="245" width="6.5" height="155" fill="url(#s379)"/><rect x="681.5" y="245" width="6.5" height="155" fill="url(#s380)"/><rect x="687.5" y="245" width="6.5" height="155" fill="url(#s381)"/><rect x="693.5" y="245" width="6.5" height="155" fill="url(#s382)"/><rect x="699.5" y="245" width="6.5" height="155" fill="url(#s383)"/><rect x="705.5" y="245" width="6.5" height="155" fill="url(#s384)"/><rect x="711.5" y="245" width="6.5" height="155" fill="url(#s385)"/><rect x="717.5" y="245" width="6.5" height="155" fill="url(#s386)"/><rect x="723.5" y="245" width="6.5" height="155" fill="url(#s387)"/><rect x="729.5" y="245" width="6.5" height="155" fill="url(#s388)"/><rect x="735.5" y="245" width="6.5" height="155" fill="url(#s389)"/><rect x="741.5" y="245" width="6.5" height="155" fill="url(#s390)"/><rect x="747.5" y="245" width="6.5" height="155" fill="url(#s391)"/><rect x="753.5" y="245" width="6.5" height="155" fill="url(#s392)"/><rect x="759.5" y="245" width="6.5" height="155" fill="url(#s393)"/><rect x="765.5" y="245" width="6.5" height="155" fill="url(#s394)"/><rect x="771.5" y="245" width="6.5" height="155" fill="url(#s395)"/><rect x="777.5" y="245" width="6.5" height="155" fill="url(#s396)"/><rect x="783.5" y="245" width="6.5" height="155" fill="url(#s397)"/><rect x="789.5" y="245" width="6.5" height="155" fill="url(#s398)"/><rect x="795.5" y="245" width="6.5" height="155" fill="url(#s399)"/><rect x="801.5" y="245" width="6.5" height="155" fill="url(#s400)"/><rect x="807.5" y="245" width="6.5" height="155" fill="url(#s401)"/><rect x="813.5" y="245" width="6.5" height="155" fill="url(#s402)"/><rect x="819.5" y="245" width="6.5" height="155" fill="url(#s403)"/></g><g clip-path="url(#c361)"><rect x="561.5" y="325" width="30.5" height="250.5" fill="url(#s405)"/><rect x="591.5" y="325" width="30.5" height="250.5" fill="url(#s406)"/><rect x="621.5" y="325" width="30.5" height="250.5" fill="url(#s407)"/><rect x="651.5" y="325" width="30.5" height="250.5" fill="url(#s408)"/><rect x="681.5" y="325" width="30.5" height="250.5" fill="url(#s409)"/><rect x="711.5" y="325" width="30.5" height="250.5" fill="url(#s410)"/><rect x="741.5" y="325" width="30.5" height="250.5" fill="url(#s411)"/><rect x="771.5" y="325" width="30.5" height="250.5" fill="url(#s412)"/><rect x="801.5" y="325" width="30.5" height="250.5" fill="url(#s413)"/><rect x="831.5" y="325" width="30.5" height="250.5" fill="url(#s414)"/></g><g clip-path="url(#c360)"><rect x="561.5" y="184" width="30.5" height="111" fill="url(#s415)"/><rect x="591.5" y="184" width="30.5" height="111" fill="url(#s416)"/><rect x="621.5" y="184" width="30.5" height="111" fill="url(#s417)"/><rect x="651.5" y="184" width="30.5" height="111" fill="url(#s418)"/><rect x="681.5" y="184" width="30.5" height="111" fill="url(#s419)"/><rect x="711.5" y="184" width="30.5" height="111" fill="url(#s420)"/><rect x="741.5" y="184" width="30.5" height="111" fill="url(#s421)"/><rect x="771.5" y="184" width="30.5" height="111" fill="url(#s422)"/><rect x="801.5" y="184" width="30.5" height="111" fill="url(#s423)"/><rect x="831.5" y="184" width="30.5" height="111" fill="url(#s424)"/></g><g clip-path="url(#c362)"><rect x="720" y="325" width="30.5" height="65" fill="url(#s425)"/><rect x="750" y="325" width="30.5" height="65" fill="url(#s426)"/><rect x="780" y="325" width="30.5" height="65" fill="url(#s427)"/><rect x="810" y="325" width="30.5" height="65" fill="url(#s428)"/><rect x="840" y="325" width="30.5" height="65" fill="url(#s429)"/></g><path d="M590.0 316.0 L599.0 306.0 L604.5 300.0 L608.7 294.4 L613.0 288.5 L650.6 288.5 L654.8 284.4 L658.0 285.6 L663.0 284.4 L690.3 282.9 L691.4 281.8 L702.9 281.8 L705.0 279.7 L713.3 278.7 L725.9 278.7 L730.0 276.6 L738.4 274.5 L742.6 271.4 L759.4 271.0 L760.0 270.0 L765.0 270.0 L773.0 272.5 L776.5 277.0 L778.0 285.0 L780.0 290.0 L783.0 295.0 L785.0 298.6 L790.0 301.0 L793.0 304.6 L798.0 306.6 L801.0 311.0 L805.0 314.6 L814.0 315.2 L814.0 331.0 L802.9 332.2 L799.6 334.4 L795.1 341.1 L791.8 347.7 L788.5 355.5 L785.2 362.2 L780.7 367.7 L776.3 372.1 L769.6 374.4 L765.2 376.0 L761.9 378.2 L759.6 379.4 L750.8 378.2 L747.4 376.0 L744.0 376.0 L737.0 381.7 L727.0 384.0 L717.0 389.0 L709.4 385.0 L704.4 386.7 L696.8 394.0 L689.3 395.5 L674.0 390.5 L671.0 388.0 L661.0 385.0 L655.0 386.0 L647.0 388.0 L639.0 384.0 L633.0 384.0 L627.0 379.0 L623.0 370.0 L619.0 360.0 L615.0 352.0 L611.0 347.0 L603.0 342.0 L597.0 337.0 L590.0 328.0Z" fill="#ff7f00"/></g>
<g shape-rendering="crispEdges"><line x1="333.5" y1="20" x2="333.5" y2="573" stroke="#1420f5" stroke-opacity="0.65" stroke-width="1"/><line x1="76" y1="103.5" x2="591" y2="103.5" stroke="#1420f5" stroke-opacity="0.65" stroke-width="1"/><line x1="76" y1="379.5" x2="812" y2="379.5" stroke="#1420f5" stroke-opacity="0.65" stroke-width="1"/><rect x="701" y="187" width="2" height="386.5" fill="#1420f5" fill-opacity="0.33"/><line x1="75" y1="20.5" x2="592" y2="20.5" stroke="#708098" stroke-opacity="1" stroke-width="1"/><line x1="75.5" y1="20" x2="75.5" y2="574" stroke="#181820" stroke-opacity="0.95" stroke-width="1"/><line x1="591.5" y1="21" x2="591.5" y2="186" stroke="#6c6c6c" stroke-opacity="1" stroke-width="1"/><line x1="75" y1="186.5" x2="813" y2="186.5" stroke="#101030" stroke-opacity="0.9" stroke-width="1"/><line x1="591.5" y1="186" x2="591.5" y2="574" stroke="#000000" stroke-opacity="1" stroke-width="1"/><line x1="75" y1="573.5" x2="592" y2="573.5" stroke="#2c2c34" stroke-opacity="1" stroke-width="1"/><line x1="592" y1="573.5" x2="813" y2="573.5" stroke="#8c8cb0" stroke-opacity="1" stroke-width="1"/><line x1="812.5" y1="186" x2="812.5" y2="574" stroke="#000020" stroke-opacity="0.85" stroke-width="1"/><line x1="812.5" y1="20" x2="812.5" y2="186" stroke="#3c3ca0" stroke-opacity="0.42" stroke-width="1"/><line x1="57" y1="20.5" x2="75" y2="20.5" stroke="#000" stroke-opacity="0.6" stroke-width="1"/><line x1="57" y1="123.5" x2="75" y2="123.5" stroke="#000" stroke-opacity="0.38" stroke-width="1"/><line x1="57" y1="186.5" x2="75" y2="186.5" stroke="#000" stroke-opacity="0.75" stroke-width="1"/><line x1="57" y1="272.5" x2="75" y2="272.5" stroke="#000" stroke-opacity="0.7" stroke-width="1"/><line x1="57" y1="357.5" x2="75" y2="357.5" stroke="#000" stroke-opacity="0.42" stroke-width="1"/><line x1="57" y1="443.5" x2="75" y2="443.5" stroke="#000" stroke-opacity="0.7" stroke-width="1"/><line x1="57" y1="529.5" x2="75" y2="529.5" stroke="#000" stroke-opacity="0.7" stroke-width="1"/><line x1="75.5" y1="574" x2="75.5" y2="591" stroke="#000" stroke-opacity="0.6" stroke-width="1"/><line x1="161.5" y1="574" x2="161.5" y2="591" stroke="#000" stroke-opacity="0.6" stroke-width="1"/><line x1="247.5" y1="574" x2="247.5" y2="591" stroke="#000" stroke-opacity="0.6" stroke-width="1"/><line x1="333.5" y1="574" x2="333.5" y2="591" stroke="#000" stroke-opacity="0.6" stroke-width="1"/><line x1="419.5" y1="574" x2="419.5" y2="591" stroke="#000" stroke-opacity="0.6" stroke-width="1"/><line x1="505.5" y1="574" x2="505.5" y2="591" stroke="#000" stroke-opacity="0.6" stroke-width="1"/></g>
<text transform="translate(75.7,615.7) scale(1.14,1)" text-anchor="middle" font-family="Liberation Sans, sans-serif" font-size="16" letter-spacing="0.4" fill="#000" stroke="#fff" stroke-width="0.3">0</text><text transform="translate(161.7,615.7) scale(1.14,1)" text-anchor="middle" font-family="Liberation Sans, sans-serif" font-size="16" letter-spacing="0.4" fill="#000" stroke="#fff" stroke-width="0.3">2000</text><text transform="translate(247.7,615.7) scale(1.14,1)" text-anchor="middle" font-family="Liberation Sans, sans-serif" font-size="16" letter-spacing="0.4" fill="#000" stroke="#fff" stroke-width="0.3">4000</text><text transform="translate(333.7,615.7) scale(1.14,1)" text-anchor="middle" font-family="Liberation Sans, sans-serif" font-size="16" letter-spacing="0.4" fill="#000" stroke="#fff" stroke-width="0.3">6000</text><text transform="translate(419.7,615.7) scale(1.14,1)" text-anchor="middle" font-family="Liberation Sans, sans-serif" font-size="16" letter-spacing="0.4" fill="#000" stroke="#fff" stroke-width="0.3">8000</text><text transform="translate(505.7,615.7) scale(1.14,1)" text-anchor="middle" font-family="Liberation Sans, sans-serif" font-size="16" letter-spacing="0.4" fill="#000" stroke="#fff" stroke-width="0.3">10000</text><text transform="translate(33.1,20.7) rotate(90) scale(1.14,1)" text-anchor="middle" font-family="Liberation Sans, sans-serif" font-size="16" letter-spacing="0.4" fill="#000" stroke="#fff" stroke-width="0.3">5000</text><text transform="translate(33.1,124.1) rotate(90) scale(1.14,1)" text-anchor="middle" font-family="Liberation Sans, sans-serif" font-size="16" letter-spacing="0.4" fill="#000" stroke="#fff" stroke-width="0.3">3000</text><text transform="translate(33.1,186.7) rotate(90) scale(1.14,1)" text-anchor="middle" font-family="Liberation Sans, sans-serif" font-size="16" letter-spacing="0.4" fill="#000" stroke="#fff" stroke-width="0.3">0</text><text transform="translate(33.1,272.4) rotate(90) scale(1.14,1)" text-anchor="middle" font-family="Liberation Sans, sans-serif" font-size="16" letter-spacing="0.4" fill="#000" stroke="#fff" stroke-width="0.3">1000</text><text transform="translate(33.1,357.9) rotate(90) scale(1.14,1)" text-anchor="middle" font-family="Liberation Sans, sans-serif" font-size="16" letter-spacing="0.4" fill="#000" stroke="#fff" stroke-width="0.3">2000</text><text transform="translate(33.1,443.8) rotate(90) scale(1.14,1)" text-anchor="middle" font-family="Liberation Sans, sans-serif" font-size="16" letter-spacing="0.4" fill="#000" stroke="#fff" stroke-width="0.3">3000</text><text transform="translate(33.1,529.5) rotate(90) scale(1.14,1)" text-anchor="middle" font-family="Liberation Sans, sans-serif" font-size="16" letter-spacing="0.4" fill="#000" stroke="#fff" stroke-width="0.3">4000</text><text transform="translate(333,643.5) scale(0.97,1.08)" font-size="23" text-anchor="middle" font-family="Liberation Serif, serif" fill="#222" stroke="#fff" stroke-width="0.38">cmp_x(m)</text><text transform="translate(6.3,124.2) rotate(90) scale(0.945,1.14)" font-size="23" text-anchor="middle" font-family="Liberation Serif, serif" fill="#222" stroke="#fff" stroke-width="0.38">cmp_y(m)</text><text transform="translate(6.3,400.5) rotate(90) scale(1.03,1.14)" font-size="23" text-anchor="middle" font-family="Liberation Serif, serif" fill="#222" stroke="#fff" stroke-width="0.38">depth(m)</text>
</svg>
</body></html>
